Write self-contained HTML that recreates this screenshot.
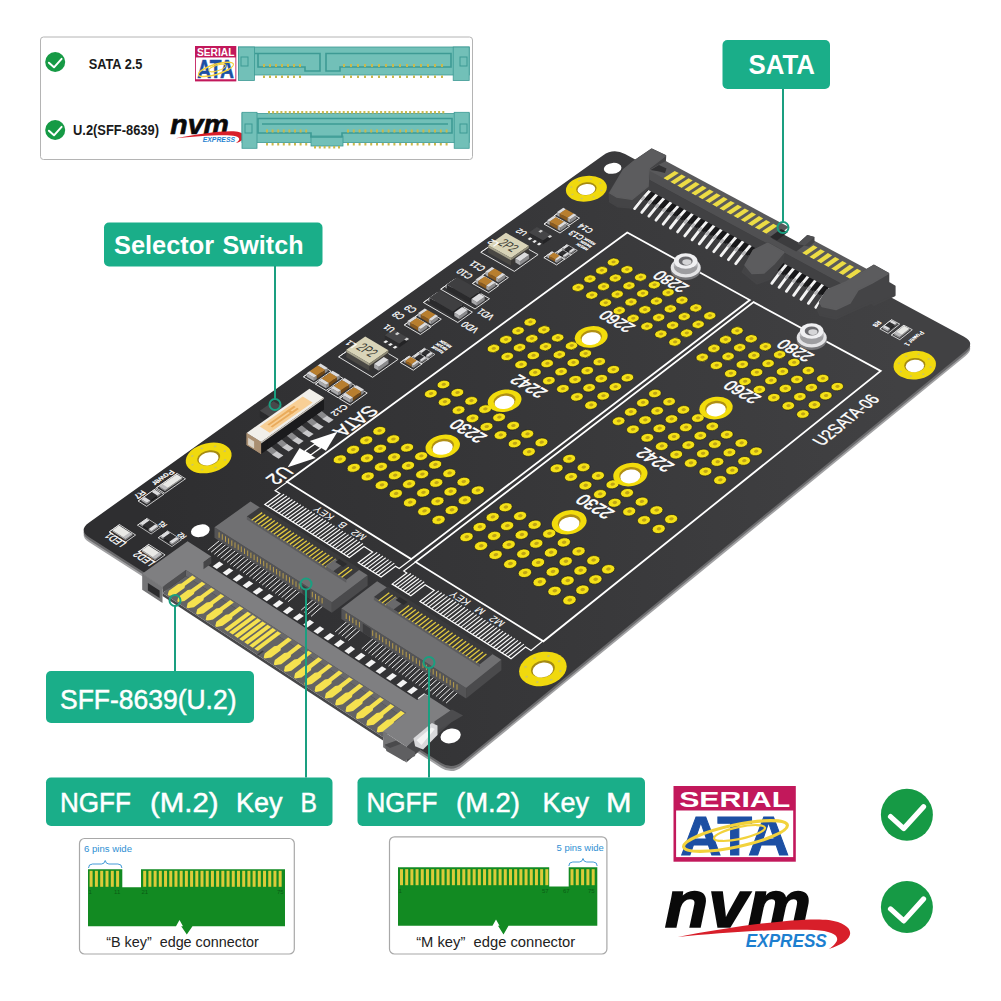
<!DOCTYPE html>
<html><head><meta charset="utf-8"><title>U2SATA-06 adapter</title>
<style>html,body{margin:0;padding:0;background:#fff;}body{width:1001px;height:1001px;overflow:hidden;font-family:"Liberation Sans",sans-serif;}svg{display:block}</style>
</head><body>
<svg width="1001" height="1001" viewBox="0 0 1001 1001">
<rect width="1001" height="1001" fill="#fff"/>
<defs><linearGradient id="bg" gradientUnits="userSpaceOnUse" x1="150" y1="450" x2="900" y2="420"><stop offset="0" stop-color="#2e2e30"/><stop offset="0.5" stop-color="#373739"/><stop offset="1" stop-color="#414143"/></linearGradient></defs>
<g id="board">
<path d="M89.2 537.3 Q78.2 530.3 88.8 522.7 L602.9 155.5 Q613.5 147.9 625.0 154.1 L964.1 336.7 Q975.6 342.9 965.5 351.1 L462.2 761.7 Q452.1 769.9 441.2 762.9 Z" fill="#a2a2a4" transform="translate(0 5)"/>
<path d="M89.2 537.3 Q78.2 530.3 88.8 522.7 L602.9 155.5 Q613.5 147.9 625.0 154.1 L964.1 336.7 Q975.6 342.9 965.5 351.1 L462.2 761.7 Q452.1 769.9 441.2 762.9 Z" fill="#6a6a6c" transform="translate(0 2.6)"/>
<path d="M89.2 537.3 Q78.2 530.3 88.8 522.7 L602.9 155.5 Q613.5 147.9 625.0 154.1 L964.1 336.7 Q975.6 342.9 965.5 351.1 L462.2 761.7 Q452.1 769.9 441.2 762.9 Z" fill="url(#bg)"/>
<polyline points="286.9,481.8 627.3,232.5 749.8,300.0 411.2,559.1 286.9,481.8 627.3,232.5" fill="none" stroke="#fff" stroke-width="1.80" stroke-linejoin="miter" />
<polyline points="415.6,561.9 753.6,302.1 880.7,371.0 543.4,641.3 415.6,561.9 753.6,302.1" fill="none" stroke="#fff" stroke-width="1.80" stroke-linejoin="miter" />
<circle r="0.870" fill="#f4e017" transform="matrix(5.631 -4.060 5.068 3.108 339.79 459.30)" stroke="#1b1b12" stroke-width="0.09"/>
<circle r="0.300" fill="#bfa416" transform="matrix(5.630 -4.060 5.068 3.107 340.07 459.09)" />
<circle r="0.870" fill="#f4e017" transform="matrix(5.625 -4.081 5.091 3.122 353.71 467.83)" stroke="#1b1b12" stroke-width="0.09"/>
<circle r="0.300" fill="#bfa416" transform="matrix(5.625 -4.080 5.091 3.121 353.99 467.63)" />
<circle r="0.870" fill="#f4e017" transform="matrix(5.620 -4.102 5.114 3.136 367.69 476.41)" stroke="#1b1b12" stroke-width="0.09"/>
<circle r="0.300" fill="#bfa416" transform="matrix(5.619 -4.101 5.114 3.136 367.97 476.20)" />
<circle r="0.870" fill="#f4e017" transform="matrix(5.614 -4.123 5.138 3.150 381.73 485.02)" stroke="#1b1b12" stroke-width="0.09"/>
<circle r="0.300" fill="#bfa416" transform="matrix(5.613 -4.122 5.138 3.150 382.01 484.81)" />
<circle r="0.870" fill="#f4e017" transform="matrix(5.608 -4.144 5.161 3.165 395.84 493.67)" stroke="#1b1b12" stroke-width="0.09"/>
<circle r="0.300" fill="#bfa416" transform="matrix(5.607 -4.143 5.161 3.164 396.12 493.46)" />
<circle r="0.870" fill="#f4e017" transform="matrix(5.601 -4.165 5.185 3.179 410.02 502.36)" stroke="#1b1b12" stroke-width="0.09"/>
<circle r="0.300" fill="#bfa416" transform="matrix(5.601 -4.164 5.185 3.179 410.30 502.15)" />
<circle r="0.870" fill="#f4e017" transform="matrix(5.595 -4.186 5.209 3.194 424.26 511.09)" stroke="#1b1b12" stroke-width="0.09"/>
<circle r="0.300" fill="#bfa416" transform="matrix(5.594 -4.185 5.209 3.194 424.54 510.88)" />
<circle r="0.870" fill="#f4e017" transform="matrix(5.589 -4.207 5.233 3.209 438.56 519.86)" stroke="#1b1b12" stroke-width="0.09"/>
<circle r="0.300" fill="#bfa416" transform="matrix(5.588 -4.207 5.233 3.208 438.84 519.65)" />
<circle r="0.870" fill="#f4e017" transform="matrix(5.596 -4.035 5.063 3.090 353.04 449.74)" stroke="#1b1b12" stroke-width="0.09"/>
<circle r="0.300" fill="#bfa416" transform="matrix(5.595 -4.035 5.063 3.090 353.32 449.54)" />
<circle r="0.870" fill="#f4e017" transform="matrix(5.590 -4.056 5.086 3.104 366.94 458.23)" stroke="#1b1b12" stroke-width="0.09"/>
<circle r="0.300" fill="#bfa416" transform="matrix(5.589 -4.055 5.086 3.104 367.22 458.03)" />
<circle r="0.870" fill="#f4e017" transform="matrix(5.584 -4.076 5.109 3.118 380.91 466.76)" stroke="#1b1b12" stroke-width="0.09"/>
<circle r="0.300" fill="#bfa416" transform="matrix(5.584 -4.076 5.109 3.118 381.19 466.55)" />
<circle r="0.870" fill="#f4e017" transform="matrix(5.578 -4.097 5.132 3.132 394.94 475.32)" stroke="#1b1b12" stroke-width="0.09"/>
<circle r="0.300" fill="#bfa416" transform="matrix(5.578 -4.096 5.132 3.132 395.22 475.11)" />
<circle r="0.870" fill="#f4e017" transform="matrix(5.572 -4.118 5.156 3.147 409.04 483.92)" stroke="#1b1b12" stroke-width="0.09"/>
<circle r="0.300" fill="#bfa416" transform="matrix(5.572 -4.117 5.156 3.146 409.31 483.72)" />
<circle r="0.870" fill="#f4e017" transform="matrix(5.566 -4.138 5.179 3.161 423.19 492.56)" stroke="#1b1b12" stroke-width="0.09"/>
<circle r="0.300" fill="#bfa416" transform="matrix(5.565 -4.138 5.179 3.161 423.47 492.36)" />
<circle r="0.870" fill="#f4e017" transform="matrix(5.560 -4.160 5.203 3.176 437.42 501.24)" stroke="#1b1b12" stroke-width="0.09"/>
<circle r="0.300" fill="#bfa416" transform="matrix(5.559 -4.159 5.203 3.175 437.70 501.04)" />
<circle r="0.870" fill="#f4e017" transform="matrix(5.553 -4.181 5.227 3.190 451.71 509.97)" stroke="#1b1b12" stroke-width="0.09"/>
<circle r="0.300" fill="#bfa416" transform="matrix(5.553 -4.180 5.227 3.190 451.99 509.76)" />
<circle r="0.870" fill="#f4e017" transform="matrix(5.561 -4.010 5.058 3.073 366.20 440.25)" stroke="#1b1b12" stroke-width="0.09"/>
<circle r="0.300" fill="#bfa416" transform="matrix(5.561 -4.010 5.058 3.072 366.48 440.05)" />
<circle r="0.870" fill="#f4e017" transform="matrix(5.555 -4.030 5.081 3.087 380.09 448.69)" stroke="#1b1b12" stroke-width="0.09"/>
<circle r="0.300" fill="#bfa416" transform="matrix(5.555 -4.030 5.081 3.086 380.37 448.49)" />
<circle r="0.870" fill="#f4e017" transform="matrix(5.550 -4.051 5.104 3.101 394.05 457.17)" stroke="#1b1b12" stroke-width="0.09"/>
<circle r="0.300" fill="#bfa416" transform="matrix(5.549 -4.050 5.104 3.100 394.32 456.96)" />
<circle r="0.870" fill="#f4e017" transform="matrix(5.544 -4.071 5.127 3.115 408.06 465.68)" stroke="#1b1b12" stroke-width="0.09"/>
<circle r="0.300" fill="#bfa416" transform="matrix(5.543 -4.071 5.127 3.114 408.34 465.48)" />
<circle r="0.870" fill="#f4e017" transform="matrix(5.537 -4.092 5.151 3.129 422.14 474.23)" stroke="#1b1b12" stroke-width="0.09"/>
<circle r="0.300" fill="#bfa416" transform="matrix(5.537 -4.091 5.150 3.128 422.42 474.03)" />
<circle r="0.870" fill="#f4e017" transform="matrix(5.531 -4.112 5.174 3.143 436.29 482.83)" stroke="#1b1b12" stroke-width="0.09"/>
<circle r="0.300" fill="#bfa416" transform="matrix(5.530 -4.112 5.174 3.143 436.57 482.62)" />
<circle r="0.870" fill="#f4e017" transform="matrix(5.525 -4.133 5.198 3.157 450.50 491.46)" stroke="#1b1b12" stroke-width="0.09"/>
<circle r="0.300" fill="#bfa416" transform="matrix(5.524 -4.133 5.198 3.157 450.77 491.25)" />
<circle r="0.870" fill="#f4e017" transform="matrix(5.518 -4.154 5.221 3.172 464.77 500.13)" stroke="#1b1b12" stroke-width="0.09"/>
<circle r="0.300" fill="#bfa416" transform="matrix(5.518 -4.154 5.221 3.172 465.05 499.92)" />
<circle r="0.870" fill="#f4e017" transform="matrix(5.527 -3.985 5.053 3.056 379.29 430.82)" stroke="#1b1b12" stroke-width="0.09"/>
<circle r="0.300" fill="#bfa416" transform="matrix(5.526 -3.985 5.053 3.055 379.56 430.62)" />
<circle r="0.870" fill="#f4e017" transform="matrix(5.521 -4.005 5.076 3.069 393.16 439.21)" stroke="#1b1b12" stroke-width="0.09"/>
<circle r="0.300" fill="#bfa416" transform="matrix(5.520 -4.005 5.076 3.069 393.44 439.01)" />
<circle r="0.870" fill="#f4e017" transform="matrix(5.515 -4.025 5.099 3.083 407.10 447.64)" stroke="#1b1b12" stroke-width="0.09"/>
<circle r="0.300" fill="#bfa416" transform="matrix(5.514 -4.025 5.099 3.083 407.38 447.44)" />
<circle r="0.870" fill="#f4e017" transform="matrix(5.509 -4.046 5.122 3.097 421.11 456.10)" stroke="#1b1b12" stroke-width="0.09"/>
<circle r="0.300" fill="#bfa416" transform="matrix(5.508 -4.045 5.122 3.097 421.38 455.90)" />
<circle r="0.870" fill="#f4e017" transform="matrix(5.503 -4.066 5.145 3.111 435.17 464.61)" stroke="#1b1b12" stroke-width="0.09"/>
<circle r="0.300" fill="#bfa416" transform="matrix(5.502 -4.066 5.145 3.111 435.45 464.41)" />
<circle r="0.870" fill="#f4e017" transform="matrix(5.497 -4.087 5.169 3.125 449.30 473.15)" stroke="#1b1b12" stroke-width="0.09"/>
<circle r="0.300" fill="#bfa416" transform="matrix(5.496 -4.086 5.168 3.125 449.58 472.95)" />
<circle r="0.870" fill="#f4e017" transform="matrix(5.490 -4.107 5.192 3.139 463.50 481.73)" stroke="#1b1b12" stroke-width="0.09"/>
<circle r="0.300" fill="#bfa416" transform="matrix(5.489 -4.107 5.192 3.139 463.77 481.53)" />
<circle r="0.870" fill="#f4e017" transform="matrix(5.484 -4.128 5.216 3.154 477.75 490.36)" stroke="#1b1b12" stroke-width="0.09"/>
<circle r="0.300" fill="#bfa416" transform="matrix(5.483 -4.128 5.216 3.153 478.03 490.15)" />
<circle r="0.870" fill="#f4e017" transform="matrix(5.392 -3.888 5.033 2.988 430.82 393.66)" stroke="#1b1b12" stroke-width="0.09"/>
<circle r="0.300" fill="#bfa416" transform="matrix(5.392 -3.888 5.033 2.988 431.09 393.46)" />
<circle r="0.870" fill="#f4e017" transform="matrix(5.386 -3.908 5.055 3.001 444.64 401.86)" stroke="#1b1b12" stroke-width="0.09"/>
<circle r="0.300" fill="#bfa416" transform="matrix(5.386 -3.907 5.055 3.001 444.91 401.67)" />
<circle r="0.870" fill="#f4e017" transform="matrix(5.380 -3.927 5.078 3.015 458.53 410.10)" stroke="#1b1b12" stroke-width="0.09"/>
<circle r="0.300" fill="#bfa416" transform="matrix(5.380 -3.927 5.078 3.014 458.79 409.91)" />
<circle r="0.870" fill="#f4e017" transform="matrix(5.374 -3.947 5.101 3.028 472.47 418.38)" stroke="#1b1b12" stroke-width="0.09"/>
<circle r="0.300" fill="#bfa416" transform="matrix(5.373 -3.946 5.101 3.028 472.74 418.18)" />
<circle r="0.870" fill="#f4e017" transform="matrix(5.368 -3.966 5.124 3.042 486.48 426.70)" stroke="#1b1b12" stroke-width="0.09"/>
<circle r="0.300" fill="#bfa416" transform="matrix(5.367 -3.966 5.123 3.041 486.75 426.50)" />
<circle r="0.870" fill="#f4e017" transform="matrix(5.361 -3.986 5.146 3.055 500.55 435.05)" stroke="#1b1b12" stroke-width="0.09"/>
<circle r="0.300" fill="#bfa416" transform="matrix(5.361 -3.986 5.146 3.055 500.81 434.85)" />
<circle r="0.870" fill="#f4e017" transform="matrix(5.355 -4.006 5.170 3.069 514.68 443.44)" stroke="#1b1b12" stroke-width="0.09"/>
<circle r="0.300" fill="#bfa416" transform="matrix(5.354 -4.006 5.170 3.069 514.95 443.24)" />
<circle r="0.870" fill="#f4e017" transform="matrix(5.348 -4.026 5.193 3.083 528.88 451.87)" stroke="#1b1b12" stroke-width="0.09"/>
<circle r="0.300" fill="#bfa416" transform="matrix(5.347 -4.026 5.193 3.083 529.14 451.67)" />
<circle r="0.870" fill="#f4e017" transform="matrix(5.359 -3.865 5.028 2.972 443.51 384.51)" stroke="#1b1b12" stroke-width="0.09"/>
<circle r="0.300" fill="#bfa416" transform="matrix(5.359 -3.864 5.028 2.971 443.78 384.31)" />
<circle r="0.870" fill="#f4e017" transform="matrix(5.353 -3.884 5.050 2.985 457.32 392.67)" stroke="#1b1b12" stroke-width="0.09"/>
<circle r="0.300" fill="#bfa416" transform="matrix(5.353 -3.883 5.050 2.984 457.58 392.47)" />
<circle r="0.870" fill="#f4e017" transform="matrix(5.347 -3.903 5.073 2.998 471.18 400.86)" stroke="#1b1b12" stroke-width="0.09"/>
<circle r="0.300" fill="#bfa416" transform="matrix(5.347 -3.902 5.073 2.998 471.45 400.67)" />
<circle r="0.870" fill="#f4e017" transform="matrix(5.341 -3.922 5.095 3.011 485.11 409.10)" stroke="#1b1b12" stroke-width="0.09"/>
<circle r="0.300" fill="#bfa416" transform="matrix(5.340 -3.922 5.095 3.011 485.38 408.90)" />
<circle r="0.870" fill="#f4e017" transform="matrix(5.335 -3.942 5.118 3.025 499.11 417.37)" stroke="#1b1b12" stroke-width="0.09"/>
<circle r="0.300" fill="#bfa416" transform="matrix(5.334 -3.941 5.118 3.024 499.37 417.17)" />
<circle r="0.870" fill="#f4e017" transform="matrix(5.328 -3.962 5.141 3.038 513.16 425.67)" stroke="#1b1b12" stroke-width="0.09"/>
<circle r="0.300" fill="#bfa416" transform="matrix(5.328 -3.961 5.141 3.038 513.43 425.47)" />
<circle r="0.870" fill="#f4e017" transform="matrix(5.322 -3.981 5.164 3.052 527.28 434.02)" stroke="#1b1b12" stroke-width="0.09"/>
<circle r="0.300" fill="#bfa416" transform="matrix(5.321 -3.981 5.164 3.052 527.54 433.82)" />
<circle r="0.870" fill="#f4e017" transform="matrix(5.315 -4.001 5.187 3.066 541.46 442.40)" stroke="#1b1b12" stroke-width="0.09"/>
<circle r="0.300" fill="#bfa416" transform="matrix(5.314 -4.001 5.187 3.065 541.72 442.20)" />
<circle r="0.870" fill="#f4e017" transform="matrix(5.231 -3.772 5.007 2.907 493.49 348.47)" stroke="#1b1b12" stroke-width="0.09"/>
<circle r="0.300" fill="#bfa416" transform="matrix(5.230 -3.771 5.007 2.907 493.75 348.28)" />
<circle r="0.870" fill="#f4e017" transform="matrix(5.225 -3.790 5.029 2.920 507.24 356.45)" stroke="#1b1b12" stroke-width="0.09"/>
<circle r="0.300" fill="#bfa416" transform="matrix(5.224 -3.790 5.029 2.919 507.50 356.26)" />
<circle r="0.870" fill="#f4e017" transform="matrix(5.218 -3.809 5.051 2.933 521.05 364.47)" stroke="#1b1b12" stroke-width="0.09"/>
<circle r="0.300" fill="#bfa416" transform="matrix(5.218 -3.809 5.051 2.932 521.31 364.28)" />
<circle r="0.870" fill="#f4e017" transform="matrix(5.212 -3.828 5.073 2.945 534.92 372.52)" stroke="#1b1b12" stroke-width="0.09"/>
<circle r="0.300" fill="#bfa416" transform="matrix(5.211 -3.827 5.073 2.945 535.18 372.33)" />
<circle r="0.870" fill="#f4e017" transform="matrix(5.206 -3.847 5.096 2.958 548.85 380.61)" stroke="#1b1b12" stroke-width="0.09"/>
<circle r="0.300" fill="#bfa416" transform="matrix(5.205 -3.846 5.096 2.958 549.11 380.41)" />
<circle r="0.870" fill="#f4e017" transform="matrix(5.199 -3.866 5.118 2.971 562.85 388.73)" stroke="#1b1b12" stroke-width="0.09"/>
<circle r="0.300" fill="#bfa416" transform="matrix(5.198 -3.865 5.118 2.971 563.11 388.54)" />
<circle r="0.870" fill="#f4e017" transform="matrix(5.192 -3.885 5.141 2.985 576.90 396.89)" stroke="#1b1b12" stroke-width="0.09"/>
<circle r="0.300" fill="#bfa416" transform="matrix(5.192 -3.884 5.141 2.984 577.16 396.70)" />
<circle r="0.870" fill="#f4e017" transform="matrix(5.186 -3.904 5.164 2.998 591.02 405.09)" stroke="#1b1b12" stroke-width="0.09"/>
<circle r="0.300" fill="#bfa416" transform="matrix(5.185 -3.903 5.164 2.998 591.28 404.89)" />
<circle r="0.870" fill="#f4e017" transform="matrix(5.200 -3.749 5.002 2.891 505.80 339.59)" stroke="#1b1b12" stroke-width="0.09"/>
<circle r="0.300" fill="#bfa416" transform="matrix(5.199 -3.749 5.002 2.891 506.06 339.40)" />
<circle r="0.870" fill="#f4e017" transform="matrix(5.193 -3.768 5.024 2.904 519.53 347.53)" stroke="#1b1b12" stroke-width="0.09"/>
<circle r="0.300" fill="#bfa416" transform="matrix(5.193 -3.767 5.024 2.903 519.79 347.34)" />
<circle r="0.870" fill="#f4e017" transform="matrix(5.187 -3.786 5.046 2.917 533.33 355.50)" stroke="#1b1b12" stroke-width="0.09"/>
<circle r="0.300" fill="#bfa416" transform="matrix(5.186 -3.786 5.046 2.916 533.59 355.31)" />
<circle r="0.870" fill="#f4e017" transform="matrix(5.181 -3.805 5.068 2.929 547.18 363.51)" stroke="#1b1b12" stroke-width="0.09"/>
<circle r="0.300" fill="#bfa416" transform="matrix(5.180 -3.804 5.068 2.929 547.44 363.32)" />
<circle r="0.870" fill="#f4e017" transform="matrix(5.174 -3.823 5.090 2.942 561.10 371.56)" stroke="#1b1b12" stroke-width="0.09"/>
<circle r="0.300" fill="#bfa416" transform="matrix(5.173 -3.823 5.090 2.942 561.36 371.37)" />
<circle r="0.870" fill="#f4e017" transform="matrix(5.167 -3.842 5.112 2.955 575.08 379.64)" stroke="#1b1b12" stroke-width="0.09"/>
<circle r="0.300" fill="#bfa416" transform="matrix(5.167 -3.842 5.112 2.955 575.34 379.44)" />
<circle r="0.870" fill="#f4e017" transform="matrix(5.161 -3.861 5.135 2.968 589.12 387.75)" stroke="#1b1b12" stroke-width="0.09"/>
<circle r="0.300" fill="#bfa416" transform="matrix(5.160 -3.861 5.135 2.968 589.37 387.56)" />
<circle r="0.870" fill="#f4e017" transform="matrix(5.154 -3.880 5.158 2.981 603.22 395.90)" stroke="#1b1b12" stroke-width="0.09"/>
<circle r="0.300" fill="#bfa416" transform="matrix(5.153 -3.880 5.158 2.981 603.48 395.71)" />
<circle r="0.870" fill="#f4e017" transform="matrix(5.168 -3.727 4.997 2.876 518.03 330.77)" stroke="#1b1b12" stroke-width="0.09"/>
<circle r="0.300" fill="#bfa416" transform="matrix(5.168 -3.726 4.996 2.875 518.29 330.58)" />
<circle r="0.870" fill="#f4e017" transform="matrix(5.162 -3.745 5.018 2.888 531.75 338.67)" stroke="#1b1b12" stroke-width="0.09"/>
<circle r="0.300" fill="#bfa416" transform="matrix(5.162 -3.745 5.018 2.888 532.01 338.48)" />
<circle r="0.870" fill="#f4e017" transform="matrix(5.156 -3.763 5.040 2.901 545.53 346.60)" stroke="#1b1b12" stroke-width="0.09"/>
<circle r="0.300" fill="#bfa416" transform="matrix(5.155 -3.763 5.040 2.900 545.79 346.41)" />
<circle r="0.870" fill="#f4e017" transform="matrix(5.149 -3.782 5.062 2.913 559.37 354.56)" stroke="#1b1b12" stroke-width="0.09"/>
<circle r="0.300" fill="#bfa416" transform="matrix(5.149 -3.781 5.062 2.913 559.63 354.37)" />
<circle r="0.870" fill="#f4e017" transform="matrix(5.143 -3.800 5.084 2.926 573.27 362.56)" stroke="#1b1b12" stroke-width="0.09"/>
<circle r="0.300" fill="#bfa416" transform="matrix(5.142 -3.800 5.084 2.926 573.53 362.37)" />
<circle r="0.870" fill="#f4e017" transform="matrix(5.136 -3.819 5.107 2.939 587.24 370.60)" stroke="#1b1b12" stroke-width="0.09"/>
<circle r="0.300" fill="#bfa416" transform="matrix(5.136 -3.818 5.107 2.939 587.49 370.41)" />
<circle r="0.870" fill="#f4e017" transform="matrix(5.129 -3.838 5.129 2.952 601.26 378.67)" stroke="#1b1b12" stroke-width="0.09"/>
<circle r="0.300" fill="#bfa416" transform="matrix(5.129 -3.837 5.129 2.952 601.52 378.47)" />
<circle r="0.870" fill="#f4e017" transform="matrix(5.123 -3.857 5.152 2.965 615.34 386.77)" stroke="#1b1b12" stroke-width="0.09"/>
<circle r="0.300" fill="#bfa416" transform="matrix(5.122 -3.856 5.152 2.965 615.60 386.58)" />
<circle r="0.870" fill="#f4e017" transform="matrix(5.138 -3.705 4.991 2.860 530.19 322.00)" stroke="#1b1b12" stroke-width="0.09"/>
<circle r="0.300" fill="#bfa416" transform="matrix(5.137 -3.704 4.991 2.860 530.45 321.82)" />
<circle r="0.870" fill="#f4e017" transform="matrix(5.131 -3.723 5.013 2.872 543.90 329.85)" stroke="#1b1b12" stroke-width="0.09"/>
<circle r="0.300" fill="#bfa416" transform="matrix(5.131 -3.722 5.013 2.872 544.16 329.67)" />
<circle r="0.870" fill="#f4e017" transform="matrix(5.125 -3.741 5.035 2.885 557.66 337.74)" stroke="#1b1b12" stroke-width="0.09"/>
<circle r="0.300" fill="#bfa416" transform="matrix(5.124 -3.740 5.035 2.885 557.92 337.55)" />
<circle r="0.870" fill="#f4e017" transform="matrix(5.118 -3.759 5.057 2.898 571.49 345.66)" stroke="#1b1b12" stroke-width="0.09"/>
<circle r="0.300" fill="#bfa416" transform="matrix(5.118 -3.758 5.057 2.897 571.75 345.48)" />
<circle r="0.870" fill="#f4e017" transform="matrix(5.112 -3.777 5.079 2.910 585.37 353.62)" stroke="#1b1b12" stroke-width="0.09"/>
<circle r="0.300" fill="#bfa416" transform="matrix(5.111 -3.777 5.079 2.910 585.63 353.43)" />
<circle r="0.870" fill="#f4e017" transform="matrix(5.105 -3.796 5.101 2.923 599.32 361.61)" stroke="#1b1b12" stroke-width="0.09"/>
<circle r="0.300" fill="#bfa416" transform="matrix(5.105 -3.795 5.101 2.923 599.58 361.42)" />
<circle r="0.870" fill="#f4e017" transform="matrix(5.098 -3.814 5.123 2.936 613.33 369.64)" stroke="#1b1b12" stroke-width="0.09"/>
<circle r="0.300" fill="#bfa416" transform="matrix(5.098 -3.814 5.123 2.935 613.58 369.45)" />
<circle r="0.870" fill="#f4e017" transform="matrix(5.092 -3.833 5.146 2.949 627.40 377.70)" stroke="#1b1b12" stroke-width="0.09"/>
<circle r="0.300" fill="#bfa416" transform="matrix(5.091 -3.833 5.146 2.948 627.65 377.51)" />
<circle r="0.870" fill="#f4e017" transform="matrix(5.017 -3.618 4.970 2.799 578.12 287.44)" stroke="#1b1b12" stroke-width="0.09"/>
<circle r="0.300" fill="#bfa416" transform="matrix(5.016 -3.617 4.970 2.799 578.37 287.26)" />
<circle r="0.870" fill="#f4e017" transform="matrix(5.011 -3.635 4.991 2.811 591.77 295.13)" stroke="#1b1b12" stroke-width="0.09"/>
<circle r="0.300" fill="#bfa416" transform="matrix(5.010 -3.635 4.991 2.811 592.02 294.95)" />
<circle r="0.870" fill="#f4e017" transform="matrix(5.004 -3.652 5.012 2.823 605.47 302.85)" stroke="#1b1b12" stroke-width="0.09"/>
<circle r="0.300" fill="#bfa416" transform="matrix(5.003 -3.652 5.012 2.823 605.72 302.67)" />
<circle r="0.870" fill="#f4e017" transform="matrix(4.997 -3.670 5.034 2.836 619.23 310.60)" stroke="#1b1b12" stroke-width="0.09"/>
<circle r="0.300" fill="#bfa416" transform="matrix(4.997 -3.670 5.034 2.835 619.48 310.42)" />
<circle r="0.870" fill="#f4e017" transform="matrix(4.991 -3.688 5.056 2.848 633.06 318.39)" stroke="#1b1b12" stroke-width="0.09"/>
<circle r="0.300" fill="#bfa416" transform="matrix(4.990 -3.687 5.056 2.847 633.31 318.20)" />
<circle r="0.870" fill="#f4e017" transform="matrix(4.984 -3.706 5.078 2.860 646.94 326.21)" stroke="#1b1b12" stroke-width="0.09"/>
<circle r="0.300" fill="#bfa416" transform="matrix(4.983 -3.705 5.077 2.860 647.19 326.02)" />
<circle r="0.870" fill="#f4e017" transform="matrix(4.977 -3.724 5.100 2.872 660.88 334.06)" stroke="#1b1b12" stroke-width="0.09"/>
<circle r="0.300" fill="#bfa416" transform="matrix(4.977 -3.723 5.099 2.872 661.13 333.87)" />
<circle r="0.870" fill="#f4e017" transform="matrix(4.970 -3.742 5.122 2.885 674.89 341.95)" stroke="#1b1b12" stroke-width="0.09"/>
<circle r="0.300" fill="#bfa416" transform="matrix(4.970 -3.741 5.122 2.885 675.13 341.76)" />
<circle r="0.870" fill="#f4e017" transform="matrix(4.987 -3.596 4.964 2.784 589.92 278.93)" stroke="#1b1b12" stroke-width="0.09"/>
<circle r="0.300" fill="#bfa416" transform="matrix(4.987 -3.596 4.964 2.784 590.17 278.75)" />
<circle r="0.870" fill="#f4e017" transform="matrix(4.981 -3.614 4.985 2.796 603.56 286.58)" stroke="#1b1b12" stroke-width="0.09"/>
<circle r="0.300" fill="#bfa416" transform="matrix(4.980 -3.613 4.985 2.796 603.80 286.39)" />
<circle r="0.870" fill="#f4e017" transform="matrix(4.975 -3.631 5.007 2.808 617.24 294.25)" stroke="#1b1b12" stroke-width="0.09"/>
<circle r="0.300" fill="#bfa416" transform="matrix(4.974 -3.630 5.007 2.808 617.49 294.07)" />
<circle r="0.870" fill="#f4e017" transform="matrix(4.968 -3.648 5.028 2.820 630.99 301.96)" stroke="#1b1b12" stroke-width="0.09"/>
<circle r="0.300" fill="#bfa416" transform="matrix(4.967 -3.648 5.028 2.820 631.24 301.78)" />
<circle r="0.870" fill="#f4e017" transform="matrix(4.961 -3.666 5.050 2.833 644.80 309.71)" stroke="#1b1b12" stroke-width="0.09"/>
<circle r="0.300" fill="#bfa416" transform="matrix(4.961 -3.666 5.050 2.832 645.05 309.53)" />
<circle r="0.870" fill="#f4e017" transform="matrix(4.954 -3.684 5.072 2.845 658.67 317.49)" stroke="#1b1b12" stroke-width="0.09"/>
<circle r="0.300" fill="#bfa416" transform="matrix(4.954 -3.683 5.072 2.844 658.91 317.30)" />
<circle r="0.870" fill="#f4e017" transform="matrix(4.948 -3.702 5.094 2.857 672.59 325.30)" stroke="#1b1b12" stroke-width="0.09"/>
<circle r="0.300" fill="#bfa416" transform="matrix(4.947 -3.701 5.094 2.857 672.84 325.11)" />
<circle r="0.870" fill="#f4e017" transform="matrix(4.941 -3.719 5.116 2.869 686.58 333.14)" stroke="#1b1b12" stroke-width="0.09"/>
<circle r="0.300" fill="#bfa416" transform="matrix(4.940 -3.719 5.116 2.869 686.83 332.96)" />
<circle r="0.870" fill="#f4e017" transform="matrix(4.958 -3.575 4.959 2.770 601.66 270.47)" stroke="#1b1b12" stroke-width="0.09"/>
<circle r="0.300" fill="#bfa416" transform="matrix(4.958 -3.575 4.959 2.769 601.91 270.29)" />
<circle r="0.870" fill="#f4e017" transform="matrix(4.952 -3.592 4.980 2.781 615.28 278.07)" stroke="#1b1b12" stroke-width="0.09"/>
<circle r="0.300" fill="#bfa416" transform="matrix(4.951 -3.592 4.980 2.781 615.52 277.89)" />
<circle r="0.870" fill="#f4e017" transform="matrix(4.945 -3.610 5.001 2.793 628.95 285.71)" stroke="#1b1b12" stroke-width="0.09"/>
<circle r="0.300" fill="#bfa416" transform="matrix(4.945 -3.609 5.001 2.793 629.20 285.53)" />
<circle r="0.870" fill="#f4e017" transform="matrix(4.939 -3.627 5.023 2.805 642.68 293.38)" stroke="#1b1b12" stroke-width="0.09"/>
<circle r="0.300" fill="#bfa416" transform="matrix(4.938 -3.626 5.022 2.805 642.93 293.20)" />
<circle r="0.870" fill="#f4e017" transform="matrix(4.932 -3.644 5.044 2.817 656.47 301.08)" stroke="#1b1b12" stroke-width="0.09"/>
<circle r="0.300" fill="#bfa416" transform="matrix(4.931 -3.644 5.044 2.817 656.72 300.90)" />
<circle r="0.870" fill="#f4e017" transform="matrix(4.925 -3.662 5.066 2.829 670.32 308.82)" stroke="#1b1b12" stroke-width="0.09"/>
<circle r="0.300" fill="#bfa416" transform="matrix(4.924 -3.661 5.066 2.829 670.57 308.64)" />
<circle r="0.870" fill="#f4e017" transform="matrix(4.918 -3.680 5.088 2.842 684.23 316.59)" stroke="#1b1b12" stroke-width="0.09"/>
<circle r="0.300" fill="#bfa416" transform="matrix(4.918 -3.679 5.088 2.841 684.48 316.40)" />
<circle r="0.870" fill="#f4e017" transform="matrix(4.911 -3.697 5.110 2.854 698.20 324.39)" stroke="#1b1b12" stroke-width="0.09"/>
<circle r="0.300" fill="#bfa416" transform="matrix(4.910 -3.697 5.109 2.854 698.45 324.21)" />
<circle r="0.870" fill="#f4e017" transform="matrix(4.929 -3.554 4.953 2.755 613.33 262.05)" stroke="#1b1b12" stroke-width="0.09"/>
<circle r="0.300" fill="#bfa416" transform="matrix(4.929 -3.554 4.953 2.755 613.57 261.88)" />
<circle r="0.870" fill="#f4e017" transform="matrix(4.923 -3.571 4.974 2.767 626.93 269.62)" stroke="#1b1b12" stroke-width="0.09"/>
<circle r="0.300" fill="#bfa416" transform="matrix(4.922 -3.571 4.974 2.766 627.17 269.44)" />
<circle r="0.870" fill="#f4e017" transform="matrix(4.916 -3.588 4.995 2.779 640.59 277.22)" stroke="#1b1b12" stroke-width="0.09"/>
<circle r="0.300" fill="#bfa416" transform="matrix(4.916 -3.588 4.995 2.778 640.83 277.04)" />
<circle r="0.870" fill="#f4e017" transform="matrix(4.910 -3.606 5.017 2.790 654.30 284.85)" stroke="#1b1b12" stroke-width="0.09"/>
<circle r="0.300" fill="#bfa416" transform="matrix(4.909 -3.605 5.017 2.790 654.55 284.67)" />
<circle r="0.870" fill="#f4e017" transform="matrix(4.903 -3.623 5.038 2.802 668.08 292.51)" stroke="#1b1b12" stroke-width="0.09"/>
<circle r="0.300" fill="#bfa416" transform="matrix(4.902 -3.622 5.038 2.802 668.32 292.33)" />
<circle r="0.870" fill="#f4e017" transform="matrix(4.896 -3.640 5.060 2.814 681.91 300.20)" stroke="#1b1b12" stroke-width="0.09"/>
<circle r="0.300" fill="#bfa416" transform="matrix(4.895 -3.640 5.060 2.814 682.16 300.02)" />
<circle r="0.870" fill="#f4e017" transform="matrix(4.889 -3.658 5.082 2.826 695.81 307.93)" stroke="#1b1b12" stroke-width="0.09"/>
<circle r="0.300" fill="#bfa416" transform="matrix(4.888 -3.657 5.081 2.826 696.05 307.75)" />
<circle r="0.870" fill="#f4e017" transform="matrix(4.882 -3.675 5.103 2.839 709.76 315.69)" stroke="#1b1b12" stroke-width="0.09"/>
<circle r="0.300" fill="#bfa416" transform="matrix(4.881 -3.675 5.103 2.838 710.00 315.51)" />
<circle r="0.870" fill="#f4e017" transform="matrix(5.576 -4.250 5.280 3.238 466.52 537.01)" stroke="#1b1b12" stroke-width="0.09"/>
<circle r="0.300" fill="#bfa416" transform="matrix(5.575 -4.249 5.280 3.237 466.80 536.80)" />
<circle r="0.870" fill="#f4e017" transform="matrix(5.569 -4.271 5.304 3.253 481.02 545.90)" stroke="#1b1b12" stroke-width="0.09"/>
<circle r="0.300" fill="#bfa416" transform="matrix(5.568 -4.271 5.304 3.252 481.30 545.69)" />
<circle r="0.870" fill="#f4e017" transform="matrix(5.562 -4.294 5.329 3.268 495.59 554.83)" stroke="#1b1b12" stroke-width="0.09"/>
<circle r="0.300" fill="#bfa416" transform="matrix(5.562 -4.293 5.329 3.267 495.87 554.62)" />
<circle r="0.870" fill="#f4e017" transform="matrix(5.555 -4.316 5.354 3.283 510.23 563.81)" stroke="#1b1b12" stroke-width="0.09"/>
<circle r="0.300" fill="#bfa416" transform="matrix(5.555 -4.315 5.354 3.282 510.50 563.59)" />
<circle r="0.870" fill="#f4e017" transform="matrix(5.548 -4.338 5.379 3.298 524.93 572.83)" stroke="#1b1b12" stroke-width="0.09"/>
<circle r="0.300" fill="#bfa416" transform="matrix(5.547 -4.338 5.379 3.298 525.21 572.61)" />
<circle r="0.870" fill="#f4e017" transform="matrix(5.541 -4.361 5.404 3.314 539.70 581.88)" stroke="#1b1b12" stroke-width="0.09"/>
<circle r="0.300" fill="#bfa416" transform="matrix(5.540 -4.360 5.404 3.313 539.98 581.67)" />
<circle r="0.870" fill="#f4e017" transform="matrix(5.534 -4.383 5.429 3.329 554.54 590.98)" stroke="#1b1b12" stroke-width="0.09"/>
<circle r="0.300" fill="#bfa416" transform="matrix(5.533 -4.383 5.429 3.329 554.82 590.77)" />
<circle r="0.870" fill="#f4e017" transform="matrix(5.526 -4.406 5.455 3.345 569.45 600.13)" stroke="#1b1b12" stroke-width="0.09"/>
<circle r="0.300" fill="#bfa416" transform="matrix(5.525 -4.406 5.455 3.344 569.73 599.91)" />
<circle r="0.870" fill="#f4e017" transform="matrix(5.541 -4.223 5.274 3.219 479.64 527.01)" stroke="#1b1b12" stroke-width="0.09"/>
<circle r="0.300" fill="#bfa416" transform="matrix(5.540 -4.222 5.274 3.218 479.92 526.80)" />
<circle r="0.870" fill="#f4e017" transform="matrix(5.534 -4.244 5.298 3.234 494.12 535.85)" stroke="#1b1b12" stroke-width="0.09"/>
<circle r="0.300" fill="#bfa416" transform="matrix(5.533 -4.244 5.298 3.233 494.40 535.64)" />
<circle r="0.870" fill="#f4e017" transform="matrix(5.527 -4.266 5.323 3.249 508.68 544.73)" stroke="#1b1b12" stroke-width="0.09"/>
<circle r="0.300" fill="#bfa416" transform="matrix(5.526 -4.266 5.323 3.248 508.95 544.52)" />
<circle r="0.870" fill="#f4e017" transform="matrix(5.520 -4.288 5.348 3.264 523.29 553.66)" stroke="#1b1b12" stroke-width="0.09"/>
<circle r="0.300" fill="#bfa416" transform="matrix(5.519 -4.288 5.347 3.263 523.57 553.44)" />
<circle r="0.870" fill="#f4e017" transform="matrix(5.513 -4.310 5.373 3.279 537.98 562.62)" stroke="#1b1b12" stroke-width="0.09"/>
<circle r="0.300" fill="#bfa416" transform="matrix(5.512 -4.310 5.372 3.279 538.26 562.40)" />
<circle r="0.870" fill="#f4e017" transform="matrix(5.505 -4.333 5.398 3.294 552.74 571.63)" stroke="#1b1b12" stroke-width="0.09"/>
<circle r="0.300" fill="#bfa416" transform="matrix(5.505 -4.332 5.397 3.294 553.01 571.41)" />
<circle r="0.870" fill="#f4e017" transform="matrix(5.498 -4.355 5.423 3.310 567.56 580.67)" stroke="#1b1b12" stroke-width="0.09"/>
<circle r="0.300" fill="#bfa416" transform="matrix(5.497 -4.355 5.423 3.309 567.83 580.46)" />
<circle r="0.870" fill="#f4e017" transform="matrix(5.490 -4.378 5.448 3.325 582.45 589.76)" stroke="#1b1b12" stroke-width="0.09"/>
<circle r="0.300" fill="#bfa416" transform="matrix(5.490 -4.377 5.448 3.325 582.73 589.54)" />
<circle r="0.870" fill="#f4e017" transform="matrix(5.505 -4.196 5.268 3.200 492.67 517.08)" stroke="#1b1b12" stroke-width="0.09"/>
<circle r="0.300" fill="#bfa416" transform="matrix(5.505 -4.195 5.268 3.200 492.95 516.87)" />
<circle r="0.870" fill="#f4e017" transform="matrix(5.499 -4.217 5.292 3.215 507.14 525.87)" stroke="#1b1b12" stroke-width="0.09"/>
<circle r="0.300" fill="#bfa416" transform="matrix(5.498 -4.217 5.292 3.215 507.42 525.66)" />
<circle r="0.870" fill="#f4e017" transform="matrix(5.492 -4.239 5.317 3.230 521.68 534.70)" stroke="#1b1b12" stroke-width="0.09"/>
<circle r="0.300" fill="#bfa416" transform="matrix(5.491 -4.238 5.317 3.229 521.95 534.49)" />
<circle r="0.870" fill="#f4e017" transform="matrix(5.485 -4.261 5.342 3.245 536.28 543.57)" stroke="#1b1b12" stroke-width="0.09"/>
<circle r="0.300" fill="#bfa416" transform="matrix(5.484 -4.260 5.341 3.244 536.55 543.36)" />
<circle r="0.870" fill="#f4e017" transform="matrix(5.477 -4.283 5.366 3.260 550.95 552.48)" stroke="#1b1b12" stroke-width="0.09"/>
<circle r="0.300" fill="#bfa416" transform="matrix(5.477 -4.282 5.366 3.259 551.22 552.27)" />
<circle r="0.870" fill="#f4e017" transform="matrix(5.470 -4.305 5.391 3.275 565.69 561.43)" stroke="#1b1b12" stroke-width="0.09"/>
<circle r="0.300" fill="#bfa416" transform="matrix(5.469 -4.304 5.391 3.275 565.96 561.22)" />
<circle r="0.870" fill="#f4e017" transform="matrix(5.463 -4.327 5.416 3.290 580.49 570.43)" stroke="#1b1b12" stroke-width="0.09"/>
<circle r="0.300" fill="#bfa416" transform="matrix(5.462 -4.327 5.416 3.290 580.77 570.21)" />
<circle r="0.870" fill="#f4e017" transform="matrix(5.455 -4.350 5.442 3.306 595.37 579.46)" stroke="#1b1b12" stroke-width="0.09"/>
<circle r="0.300" fill="#bfa416" transform="matrix(5.454 -4.349 5.442 3.305 595.64 579.25)" />
<circle r="0.870" fill="#f4e017" transform="matrix(5.471 -4.169 5.262 3.182 505.63 507.21)" stroke="#1b1b12" stroke-width="0.09"/>
<circle r="0.300" fill="#bfa416" transform="matrix(5.470 -4.169 5.262 3.182 505.90 507.00)" />
<circle r="0.870" fill="#f4e017" transform="matrix(5.464 -4.191 5.286 3.197 520.08 515.95)" stroke="#1b1b12" stroke-width="0.09"/>
<circle r="0.300" fill="#bfa416" transform="matrix(5.463 -4.190 5.286 3.196 520.35 515.74)" />
<circle r="0.870" fill="#f4e017" transform="matrix(5.457 -4.212 5.311 3.211 534.60 524.73)" stroke="#1b1b12" stroke-width="0.09"/>
<circle r="0.300" fill="#bfa416" transform="matrix(5.456 -4.211 5.311 3.211 534.87 524.52)" />
<circle r="0.870" fill="#f4e017" transform="matrix(5.450 -4.234 5.335 3.226 549.18 533.55)" stroke="#1b1b12" stroke-width="0.09"/>
<circle r="0.300" fill="#bfa416" transform="matrix(5.449 -4.233 5.335 3.226 549.45 533.33)" />
<circle r="0.870" fill="#f4e017" transform="matrix(5.442 -4.255 5.360 3.241 563.83 542.41)" stroke="#1b1b12" stroke-width="0.09"/>
<circle r="0.300" fill="#bfa416" transform="matrix(5.442 -4.255 5.360 3.241 564.11 542.19)" />
<circle r="0.870" fill="#f4e017" transform="matrix(5.435 -4.277 5.385 3.256 578.55 551.31)" stroke="#1b1b12" stroke-width="0.09"/>
<circle r="0.300" fill="#bfa416" transform="matrix(5.434 -4.277 5.385 3.256 578.83 551.09)" />
<circle r="0.870" fill="#f4e017" transform="matrix(5.428 -4.299 5.410 3.271 593.34 560.25)" stroke="#1b1b12" stroke-width="0.09"/>
<circle r="0.300" fill="#bfa416" transform="matrix(5.427 -4.299 5.410 3.271 593.62 560.03)" />
<circle r="0.870" fill="#f4e017" transform="matrix(5.420 -4.322 5.435 3.286 608.20 569.23)" stroke="#1b1b12" stroke-width="0.09"/>
<circle r="0.300" fill="#bfa416" transform="matrix(5.419 -4.321 5.435 3.286 608.47 569.02)" />
<circle r="0.870" fill="#f4e017" transform="matrix(5.335 -4.066 5.239 3.110 556.62 468.34)" stroke="#1b1b12" stroke-width="0.09"/>
<circle r="0.300" fill="#bfa416" transform="matrix(5.334 -4.065 5.239 3.110 556.89 468.14)" />
<circle r="0.870" fill="#f4e017" transform="matrix(5.328 -4.086 5.262 3.124 571.01 476.88)" stroke="#1b1b12" stroke-width="0.09"/>
<circle r="0.300" fill="#bfa416" transform="matrix(5.327 -4.086 5.262 3.124 571.28 476.68)" />
<circle r="0.870" fill="#f4e017" transform="matrix(5.321 -4.107 5.286 3.138 585.46 485.46)" stroke="#1b1b12" stroke-width="0.09"/>
<circle r="0.300" fill="#bfa416" transform="matrix(5.320 -4.106 5.286 3.138 585.73 485.26)" />
<circle r="0.870" fill="#f4e017" transform="matrix(5.313 -4.128 5.310 3.153 599.98 494.08)" stroke="#1b1b12" stroke-width="0.09"/>
<circle r="0.300" fill="#bfa416" transform="matrix(5.313 -4.127 5.310 3.152 600.25 493.88)" />
<circle r="0.870" fill="#f4e017" transform="matrix(5.306 -4.149 5.335 3.167 614.56 502.74)" stroke="#1b1b12" stroke-width="0.09"/>
<circle r="0.300" fill="#bfa416" transform="matrix(5.305 -4.148 5.335 3.167 614.83 502.53)" />
<circle r="0.870" fill="#f4e017" transform="matrix(5.299 -4.170 5.359 3.182 629.21 511.44)" stroke="#1b1b12" stroke-width="0.09"/>
<circle r="0.300" fill="#bfa416" transform="matrix(5.298 -4.169 5.359 3.181 629.48 511.23)" />
<circle r="0.870" fill="#f4e017" transform="matrix(5.291 -4.191 5.384 3.196 643.93 520.18)" stroke="#1b1b12" stroke-width="0.09"/>
<circle r="0.300" fill="#bfa416" transform="matrix(5.290 -4.191 5.384 3.196 644.20 519.97)" />
<circle r="0.870" fill="#f4e017" transform="matrix(5.283 -4.213 5.408 3.211 658.72 528.95)" stroke="#1b1b12" stroke-width="0.09"/>
<circle r="0.300" fill="#bfa416" transform="matrix(5.283 -4.212 5.408 3.211 658.98 528.74)" />
<circle r="0.870" fill="#f4e017" transform="matrix(5.302 -4.040 5.233 3.093 569.18 458.78)" stroke="#1b1b12" stroke-width="0.09"/>
<circle r="0.300" fill="#bfa416" transform="matrix(5.301 -4.040 5.233 3.092 569.44 458.58)" />
<circle r="0.870" fill="#f4e017" transform="matrix(5.295 -4.061 5.256 3.107 583.55 467.27)" stroke="#1b1b12" stroke-width="0.09"/>
<circle r="0.300" fill="#bfa416" transform="matrix(5.294 -4.060 5.256 3.106 583.81 467.07)" />
<circle r="0.870" fill="#f4e017" transform="matrix(5.287 -4.081 5.280 3.121 597.98 475.80)" stroke="#1b1b12" stroke-width="0.09"/>
<circle r="0.300" fill="#bfa416" transform="matrix(5.287 -4.081 5.280 3.120 598.24 475.60)" />
<circle r="0.870" fill="#f4e017" transform="matrix(5.280 -4.102 5.304 3.135 612.48 484.37)" stroke="#1b1b12" stroke-width="0.09"/>
<circle r="0.300" fill="#bfa416" transform="matrix(5.280 -4.101 5.304 3.134 612.74 484.17)" />
<circle r="0.870" fill="#f4e017" transform="matrix(5.273 -4.123 5.328 3.149 627.05 492.98)" stroke="#1b1b12" stroke-width="0.09"/>
<circle r="0.300" fill="#bfa416" transform="matrix(5.272 -4.122 5.328 3.149 627.31 492.77)" />
<circle r="0.870" fill="#f4e017" transform="matrix(5.265 -4.144 5.353 3.163 641.68 501.63)" stroke="#1b1b12" stroke-width="0.09"/>
<circle r="0.300" fill="#bfa416" transform="matrix(5.265 -4.143 5.352 3.163 641.94 501.42)" />
<circle r="0.870" fill="#f4e017" transform="matrix(5.258 -4.165 5.377 3.178 656.38 510.32)" stroke="#1b1b12" stroke-width="0.09"/>
<circle r="0.300" fill="#bfa416" transform="matrix(5.257 -4.164 5.377 3.178 656.64 510.11)" />
<circle r="0.870" fill="#f4e017" transform="matrix(5.250 -4.186 5.402 3.192 671.15 519.04)" stroke="#1b1b12" stroke-width="0.09"/>
<circle r="0.300" fill="#bfa416" transform="matrix(5.249 -4.185 5.402 3.192 671.41 518.83)" />
<circle r="0.870" fill="#f4e017" transform="matrix(5.172 -3.942 5.208 3.024 618.61 421.10)" stroke="#1b1b12" stroke-width="0.09"/>
<circle r="0.300" fill="#bfa416" transform="matrix(5.171 -3.941 5.208 3.024 618.87 420.91)" />
<circle r="0.870" fill="#f4e017" transform="matrix(5.165 -3.961 5.232 3.037 632.91 429.41)" stroke="#1b1b12" stroke-width="0.09"/>
<circle r="0.300" fill="#bfa416" transform="matrix(5.164 -3.961 5.232 3.037 633.17 429.21)" />
<circle r="0.870" fill="#f4e017" transform="matrix(5.158 -3.981 5.255 3.051 647.28 437.75)" stroke="#1b1b12" stroke-width="0.09"/>
<circle r="0.300" fill="#bfa416" transform="matrix(5.157 -3.981 5.255 3.051 647.54 437.55)" />
<circle r="0.870" fill="#f4e017" transform="matrix(5.150 -4.001 5.279 3.065 661.71 446.13)" stroke="#1b1b12" stroke-width="0.09"/>
<circle r="0.300" fill="#bfa416" transform="matrix(5.150 -4.000 5.279 3.064 661.97 445.93)" />
<circle r="0.870" fill="#f4e017" transform="matrix(5.143 -4.021 5.302 3.078 676.20 454.54)" stroke="#1b1b12" stroke-width="0.09"/>
<circle r="0.300" fill="#bfa416" transform="matrix(5.142 -4.021 5.302 3.078 676.46 454.34)" />
<circle r="0.870" fill="#f4e017" transform="matrix(5.135 -4.041 5.326 3.092 690.77 463.00)" stroke="#1b1b12" stroke-width="0.09"/>
<circle r="0.300" fill="#bfa416" transform="matrix(5.134 -4.041 5.326 3.092 691.02 462.80)" />
<circle r="0.870" fill="#f4e017" transform="matrix(5.127 -4.062 5.350 3.106 705.39 471.49)" stroke="#1b1b12" stroke-width="0.09"/>
<circle r="0.300" fill="#bfa416" transform="matrix(5.127 -4.061 5.350 3.106 705.65 471.29)" />
<circle r="0.870" fill="#f4e017" transform="matrix(5.120 -4.082 5.375 3.120 720.09 480.02)" stroke="#1b1b12" stroke-width="0.09"/>
<circle r="0.300" fill="#bfa416" transform="matrix(5.119 -4.082 5.375 3.120 720.34 479.82)" />
<circle r="0.870" fill="#f4e017" transform="matrix(5.140 -3.918 5.202 3.007 630.78 411.83)" stroke="#1b1b12" stroke-width="0.09"/>
<circle r="0.300" fill="#bfa416" transform="matrix(5.140 -3.917 5.202 3.007 631.03 411.64)" />
<circle r="0.870" fill="#f4e017" transform="matrix(5.133 -3.937 5.226 3.020 645.06 420.09)" stroke="#1b1b12" stroke-width="0.09"/>
<circle r="0.300" fill="#bfa416" transform="matrix(5.133 -3.936 5.225 3.020 645.32 419.89)" />
<circle r="0.870" fill="#f4e017" transform="matrix(5.126 -3.957 5.249 3.034 659.41 428.38)" stroke="#1b1b12" stroke-width="0.09"/>
<circle r="0.300" fill="#bfa416" transform="matrix(5.125 -3.956 5.249 3.034 659.67 428.19)" />
<circle r="0.870" fill="#f4e017" transform="matrix(5.118 -3.976 5.272 3.048 673.83 436.71)" stroke="#1b1b12" stroke-width="0.09"/>
<circle r="0.300" fill="#bfa416" transform="matrix(5.118 -3.976 5.272 3.047 674.08 436.52)" />
<circle r="0.870" fill="#f4e017" transform="matrix(5.111 -3.996 5.296 3.061 688.30 445.08)" stroke="#1b1b12" stroke-width="0.09"/>
<circle r="0.300" fill="#bfa416" transform="matrix(5.110 -3.996 5.296 3.061 688.56 444.88)" />
<circle r="0.870" fill="#f4e017" transform="matrix(5.103 -4.016 5.320 3.075 702.85 453.49)" stroke="#1b1b12" stroke-width="0.09"/>
<circle r="0.300" fill="#bfa416" transform="matrix(5.103 -4.016 5.320 3.075 703.10 453.29)" />
<circle r="0.870" fill="#f4e017" transform="matrix(5.096 -4.036 5.344 3.089 717.46 461.93)" stroke="#1b1b12" stroke-width="0.09"/>
<circle r="0.300" fill="#bfa416" transform="matrix(5.095 -4.036 5.344 3.088 717.71 461.73)" />
<circle r="0.870" fill="#f4e017" transform="matrix(5.088 -4.057 5.368 3.103 732.13 470.42)" stroke="#1b1b12" stroke-width="0.09"/>
<circle r="0.300" fill="#bfa416" transform="matrix(5.087 -4.056 5.368 3.102 732.39 470.21)" />
<circle r="0.870" fill="#f4e017" transform="matrix(5.109 -3.894 5.196 2.990 642.87 402.61)" stroke="#1b1b12" stroke-width="0.09"/>
<circle r="0.300" fill="#bfa416" transform="matrix(5.108 -3.893 5.196 2.990 643.13 402.42)" />
<circle r="0.870" fill="#f4e017" transform="matrix(5.102 -3.913 5.219 3.004 657.14 410.83)" stroke="#1b1b12" stroke-width="0.09"/>
<circle r="0.300" fill="#bfa416" transform="matrix(5.101 -3.912 5.219 3.003 657.39 410.63)" />
<circle r="0.870" fill="#f4e017" transform="matrix(5.094 -3.932 5.243 3.017 671.47 419.07)" stroke="#1b1b12" stroke-width="0.09"/>
<circle r="0.300" fill="#bfa416" transform="matrix(5.094 -3.932 5.242 3.017 671.73 418.88)" />
<circle r="0.870" fill="#f4e017" transform="matrix(5.087 -3.952 5.266 3.031 685.87 427.36)" stroke="#1b1b12" stroke-width="0.09"/>
<circle r="0.300" fill="#bfa416" transform="matrix(5.086 -3.951 5.266 3.030 686.12 427.16)" />
<circle r="0.870" fill="#f4e017" transform="matrix(5.080 -3.972 5.289 3.044 700.33 435.68)" stroke="#1b1b12" stroke-width="0.09"/>
<circle r="0.300" fill="#bfa416" transform="matrix(5.079 -3.971 5.289 3.044 700.58 435.48)" />
<circle r="0.870" fill="#f4e017" transform="matrix(5.072 -3.991 5.313 3.058 714.85 444.04)" stroke="#1b1b12" stroke-width="0.09"/>
<circle r="0.300" fill="#bfa416" transform="matrix(5.071 -3.991 5.313 3.057 715.11 443.84)" />
<circle r="0.870" fill="#f4e017" transform="matrix(5.064 -4.011 5.337 3.071 729.44 452.44)" stroke="#1b1b12" stroke-width="0.09"/>
<circle r="0.300" fill="#bfa416" transform="matrix(5.063 -4.011 5.337 3.071 729.70 452.24)" />
<circle r="0.870" fill="#f4e017" transform="matrix(5.056 -4.032 5.361 3.085 744.10 460.87)" stroke="#1b1b12" stroke-width="0.09"/>
<circle r="0.300" fill="#bfa416" transform="matrix(5.056 -4.031 5.361 3.085 744.35 460.67)" />
<circle r="0.870" fill="#f4e017" transform="matrix(5.078 -3.870 5.190 2.974 654.89 393.45)" stroke="#1b1b12" stroke-width="0.09"/>
<circle r="0.300" fill="#bfa416" transform="matrix(5.077 -3.869 5.190 2.974 655.14 393.26)" />
<circle r="0.870" fill="#f4e017" transform="matrix(5.071 -3.889 5.213 2.987 669.14 401.62)" stroke="#1b1b12" stroke-width="0.09"/>
<circle r="0.300" fill="#bfa416" transform="matrix(5.070 -3.889 5.213 2.987 669.40 401.43)" />
<circle r="0.870" fill="#f4e017" transform="matrix(5.063 -3.908 5.236 3.000 683.46 409.82)" stroke="#1b1b12" stroke-width="0.09"/>
<circle r="0.300" fill="#bfa416" transform="matrix(5.063 -3.908 5.236 3.000 683.71 409.63)" />
<circle r="0.870" fill="#f4e017" transform="matrix(5.056 -3.928 5.259 3.014 697.84 418.06)" stroke="#1b1b12" stroke-width="0.09"/>
<circle r="0.300" fill="#bfa416" transform="matrix(5.055 -3.927 5.259 3.013 698.09 417.87)" />
<circle r="0.870" fill="#f4e017" transform="matrix(5.048 -3.947 5.283 3.027 712.28 426.34)" stroke="#1b1b12" stroke-width="0.09"/>
<circle r="0.300" fill="#bfa416" transform="matrix(5.048 -3.947 5.283 3.027 712.53 426.14)" />
<circle r="0.870" fill="#f4e017" transform="matrix(5.041 -3.967 5.306 3.041 726.79 434.65)" stroke="#1b1b12" stroke-width="0.09"/>
<circle r="0.300" fill="#bfa416" transform="matrix(5.040 -3.966 5.306 3.040 727.04 434.45)" />
<circle r="0.870" fill="#f4e017" transform="matrix(5.033 -3.987 5.330 3.054 741.36 443.00)" stroke="#1b1b12" stroke-width="0.09"/>
<circle r="0.300" fill="#bfa416" transform="matrix(5.032 -3.986 5.330 3.054 741.61 442.80)" />
<circle r="0.870" fill="#f4e017" transform="matrix(5.025 -4.007 5.354 3.068 756.00 451.39)" stroke="#1b1b12" stroke-width="0.09"/>
<circle r="0.300" fill="#bfa416" transform="matrix(5.024 -4.006 5.354 3.068 756.25 451.19)" />
<circle r="0.870" fill="#f4e017" transform="matrix(4.956 -3.777 5.165 2.909 702.25 357.36)" stroke="#1b1b12" stroke-width="0.09"/>
<circle r="0.300" fill="#bfa416" transform="matrix(4.956 -3.777 5.165 2.909 702.50 357.17)" />
<circle r="0.870" fill="#f4e017" transform="matrix(4.949 -3.796 5.188 2.922 716.43 365.35)" stroke="#1b1b12" stroke-width="0.09"/>
<circle r="0.300" fill="#bfa416" transform="matrix(4.948 -3.795 5.188 2.922 716.68 365.16)" />
<circle r="0.870" fill="#f4e017" transform="matrix(4.942 -3.814 5.211 2.935 730.68 373.37)" stroke="#1b1b12" stroke-width="0.09"/>
<circle r="0.300" fill="#bfa416" transform="matrix(4.941 -3.814 5.210 2.935 730.92 373.18)" />
<circle r="0.870" fill="#f4e017" transform="matrix(4.934 -3.833 5.233 2.948 744.99 381.43)" stroke="#1b1b12" stroke-width="0.09"/>
<circle r="0.300" fill="#bfa416" transform="matrix(4.933 -3.833 5.233 2.948 745.23 381.24)" />
<circle r="0.870" fill="#f4e017" transform="matrix(4.926 -3.852 5.256 2.961 759.36 389.53)" stroke="#1b1b12" stroke-width="0.09"/>
<circle r="0.300" fill="#bfa416" transform="matrix(4.926 -3.851 5.256 2.960 759.60 389.34)" />
<circle r="0.870" fill="#f4e017" transform="matrix(4.919 -3.871 5.280 2.974 773.79 397.66)" stroke="#1b1b12" stroke-width="0.09"/>
<circle r="0.300" fill="#bfa416" transform="matrix(4.918 -3.870 5.280 2.974 774.04 397.47)" />
<circle r="0.870" fill="#f4e017" transform="matrix(4.911 -3.890 5.303 2.987 788.29 405.83)" stroke="#1b1b12" stroke-width="0.09"/>
<circle r="0.300" fill="#bfa416" transform="matrix(4.910 -3.889 5.303 2.987 788.53 405.63)" />
<circle r="0.870" fill="#f4e017" transform="matrix(4.903 -3.909 5.326 3.000 802.85 414.03)" stroke="#1b1b12" stroke-width="0.09"/>
<circle r="0.300" fill="#bfa416" transform="matrix(4.902 -3.909 5.326 3.000 803.10 413.83)" />
<circle r="0.870" fill="#f4e017" transform="matrix(4.927 -3.755 5.159 2.894 713.91 348.47)" stroke="#1b1b12" stroke-width="0.09"/>
<circle r="0.300" fill="#bfa416" transform="matrix(4.926 -3.754 5.159 2.893 714.16 348.29)" />
<circle r="0.870" fill="#f4e017" transform="matrix(4.919 -3.773 5.181 2.906 728.08 356.42)" stroke="#1b1b12" stroke-width="0.09"/>
<circle r="0.300" fill="#bfa416" transform="matrix(4.919 -3.772 5.181 2.906 728.32 356.23)" />
<circle r="0.870" fill="#f4e017" transform="matrix(4.912 -3.791 5.204 2.919 742.30 364.40)" stroke="#1b1b12" stroke-width="0.09"/>
<circle r="0.300" fill="#bfa416" transform="matrix(4.911 -3.791 5.204 2.919 742.55 364.21)" />
<circle r="0.870" fill="#f4e017" transform="matrix(4.904 -3.810 5.227 2.932 756.59 372.41)" stroke="#1b1b12" stroke-width="0.09"/>
<circle r="0.300" fill="#bfa416" transform="matrix(4.904 -3.809 5.227 2.931 756.84 372.22)" />
<circle r="0.870" fill="#f4e017" transform="matrix(4.897 -3.829 5.250 2.945 770.95 380.47)" stroke="#1b1b12" stroke-width="0.09"/>
<circle r="0.300" fill="#bfa416" transform="matrix(4.896 -3.828 5.250 2.944 771.19 380.27)" />
<circle r="0.870" fill="#f4e017" transform="matrix(4.889 -3.847 5.273 2.958 785.36 388.55)" stroke="#1b1b12" stroke-width="0.09"/>
<circle r="0.300" fill="#bfa416" transform="matrix(4.888 -3.847 5.273 2.957 785.61 388.36)" />
<circle r="0.870" fill="#f4e017" transform="matrix(4.881 -3.866 5.296 2.971 799.84 396.67)" stroke="#1b1b12" stroke-width="0.09"/>
<circle r="0.300" fill="#bfa416" transform="matrix(4.880 -3.866 5.296 2.970 800.09 396.48)" />
<circle r="0.870" fill="#f4e017" transform="matrix(4.873 -3.885 5.320 2.984 814.39 404.83)" stroke="#1b1b12" stroke-width="0.09"/>
<circle r="0.300" fill="#bfa416" transform="matrix(4.872 -3.885 5.319 2.983 814.63 404.64)" />
<circle r="0.870" fill="#f4e017" transform="matrix(4.897 -3.732 5.153 2.878 725.50 339.64)" stroke="#1b1b12" stroke-width="0.09"/>
<circle r="0.300" fill="#bfa416" transform="matrix(4.897 -3.732 5.153 2.878 725.75 339.45)" />
<circle r="0.870" fill="#f4e017" transform="matrix(4.890 -3.750 5.175 2.891 739.65 347.54)" stroke="#1b1b12" stroke-width="0.09"/>
<circle r="0.300" fill="#bfa416" transform="matrix(4.889 -3.750 5.175 2.890 739.90 347.35)" />
<circle r="0.870" fill="#f4e017" transform="matrix(4.882 -3.769 5.198 2.903 753.86 355.48)" stroke="#1b1b12" stroke-width="0.09"/>
<circle r="0.300" fill="#bfa416" transform="matrix(4.882 -3.768 5.197 2.903 754.11 355.29)" />
<circle r="0.870" fill="#f4e017" transform="matrix(4.875 -3.787 5.220 2.916 768.13 363.45)" stroke="#1b1b12" stroke-width="0.09"/>
<circle r="0.300" fill="#bfa416" transform="matrix(4.874 -3.787 5.220 2.915 768.38 363.26)" />
<circle r="0.870" fill="#f4e017" transform="matrix(4.867 -3.806 5.243 2.929 782.47 371.46)" stroke="#1b1b12" stroke-width="0.09"/>
<circle r="0.300" fill="#bfa416" transform="matrix(4.866 -3.805 5.243 2.928 782.71 371.27)" />
<circle r="0.870" fill="#f4e017" transform="matrix(4.859 -3.824 5.266 2.941 796.87 379.50)" stroke="#1b1b12" stroke-width="0.09"/>
<circle r="0.300" fill="#bfa416" transform="matrix(4.859 -3.824 5.266 2.941 797.11 379.31)" />
<circle r="0.870" fill="#f4e017" transform="matrix(4.851 -3.843 5.289 2.954 811.33 387.58)" stroke="#1b1b12" stroke-width="0.09"/>
<circle r="0.300" fill="#bfa416" transform="matrix(4.851 -3.842 5.289 2.954 811.57 387.38)" />
<circle r="0.870" fill="#f4e017" transform="matrix(4.843 -3.862 5.313 2.967 825.85 395.69)" stroke="#1b1b12" stroke-width="0.09"/>
<circle r="0.300" fill="#bfa416" transform="matrix(4.843 -3.861 5.312 2.967 826.09 395.50)" />
<circle r="0.870" fill="#f4e017" transform="matrix(4.868 -3.710 5.146 2.863 737.02 330.86)" stroke="#1b1b12" stroke-width="0.09"/>
<circle r="0.300" fill="#bfa416" transform="matrix(4.867 -3.710 5.146 2.862 737.27 330.67)" />
<circle r="0.870" fill="#f4e017" transform="matrix(4.861 -3.728 5.169 2.875 751.16 338.72)" stroke="#1b1b12" stroke-width="0.09"/>
<circle r="0.300" fill="#bfa416" transform="matrix(4.860 -3.727 5.169 2.875 751.40 338.53)" />
<circle r="0.870" fill="#f4e017" transform="matrix(4.853 -3.746 5.191 2.887 765.35 346.61)" stroke="#1b1b12" stroke-width="0.09"/>
<circle r="0.300" fill="#bfa416" transform="matrix(4.853 -3.746 5.191 2.887 765.59 346.42)" />
<circle r="0.870" fill="#f4e017" transform="matrix(4.846 -3.764 5.214 2.900 779.60 354.54)" stroke="#1b1b12" stroke-width="0.09"/>
<circle r="0.300" fill="#bfa416" transform="matrix(4.845 -3.764 5.214 2.900 779.85 354.35)" />
<circle r="0.870" fill="#f4e017" transform="matrix(4.838 -3.783 5.236 2.913 793.92 362.50)" stroke="#1b1b12" stroke-width="0.09"/>
<circle r="0.300" fill="#bfa416" transform="matrix(4.837 -3.782 5.236 2.912 794.16 362.31)" />
<circle r="0.870" fill="#f4e017" transform="matrix(4.830 -3.801 5.259 2.925 808.30 370.50)" stroke="#1b1b12" stroke-width="0.09"/>
<circle r="0.300" fill="#bfa416" transform="matrix(4.829 -3.801 5.259 2.925 808.54 370.31)" />
<circle r="0.870" fill="#f4e017" transform="matrix(4.822 -3.820 5.282 2.938 822.74 378.53)" stroke="#1b1b12" stroke-width="0.09"/>
<circle r="0.300" fill="#bfa416" transform="matrix(4.821 -3.819 5.282 2.938 822.98 378.34)" />
<circle r="0.870" fill="#f4e017" transform="matrix(4.814 -3.838 5.306 2.951 837.25 386.60)" stroke="#1b1b12" stroke-width="0.09"/>
<circle r="0.300" fill="#bfa416" transform="matrix(4.813 -3.838 5.305 2.951 837.49 386.41)" />
<circle r="2.300" fill="#f2dc0c" transform="matrix(5.462 -4.019 5.122 3.078 442.73 446.24)" />
<circle r="1.500" fill="#b08f14" transform="matrix(5.462 -4.019 5.122 3.078 442.73 446.24)" />
<circle r="1.350" fill="#ffffff" transform="matrix(5.465 -4.024 5.125 3.082 442.64 448.01)" />
<circle r="2.300" fill="#f2dc0c" transform="matrix(5.300 -3.900 5.096 2.996 504.60 400.71)" />
<circle r="1.500" fill="#b08f14" transform="matrix(5.300 -3.900 5.096 2.996 504.60 400.71)" />
<circle r="1.350" fill="#ffffff" transform="matrix(5.303 -3.904 5.099 2.999 504.55 402.44)" />
<circle r="2.300" fill="#f2dc0c" transform="matrix(5.077 -3.736 5.057 2.882 591.23 336.96)" />
<circle r="1.500" fill="#b08f14" transform="matrix(5.077 -3.736 5.057 2.882 591.23 336.96)" />
<circle r="1.350" fill="#ffffff" transform="matrix(5.080 -3.740 5.059 2.884 591.23 338.62)" />
<circle r="2.300" fill="#f2dc0c" transform="matrix(5.403 -4.203 5.332 3.205 569.20 522.25)" />
<circle r="1.500" fill="#b08f14" transform="matrix(5.403 -4.203 5.332 3.205 569.20 522.25)" />
<circle r="1.350" fill="#ffffff" transform="matrix(5.406 -4.208 5.335 3.208 569.19 524.10)" />
<circle r="2.300" fill="#f2dc0c" transform="matrix(5.239 -4.076 5.302 3.117 630.39 474.65)" />
<circle r="1.500" fill="#b08f14" transform="matrix(5.239 -4.076 5.302 3.117 630.39 474.65)" />
<circle r="1.350" fill="#ffffff" transform="matrix(5.242 -4.080 5.305 3.120 630.40 476.45)" />
<circle r="2.300" fill="#f2dc0c" transform="matrix(5.015 -3.901 5.256 2.995 715.99 408.06)" />
<circle r="1.500" fill="#b08f14" transform="matrix(5.015 -3.901 5.256 2.995 715.99 408.06)" />
<circle r="1.350" fill="#ffffff" transform="matrix(5.018 -3.906 5.259 2.998 716.05 409.79)" />
<text xml:space="preserve" stroke="#fff" stroke-width="0.10" font-family="Liberation Sans, sans-serif" font-size="2.80" font-weight="normal" fill="#fff" text-anchor="middle" transform="translate(0 0.0) matrix(-5.115 -3.043 5.387 -3.969 473.22 427.20)" textLength="5.80" lengthAdjust="spacingAndGlyphs">2230</text>
<text xml:space="preserve" stroke="#fff" stroke-width="0.10" font-family="Liberation Sans, sans-serif" font-size="2.80" font-weight="normal" fill="#fff" text-anchor="middle" transform="translate(0 0.0) matrix(-5.088 -2.963 5.230 -3.853 533.74 382.62)" textLength="5.80" lengthAdjust="spacingAndGlyphs">2242</text>
<text xml:space="preserve" stroke="#fff" stroke-width="0.10" font-family="Liberation Sans, sans-serif" font-size="2.80" font-weight="normal" fill="#fff" text-anchor="middle" transform="translate(0 0.0) matrix(-5.047 -2.847 5.005 -3.687 621.74 317.80)" textLength="5.80" lengthAdjust="spacingAndGlyphs">2260</text>
<text xml:space="preserve" stroke="#fff" stroke-width="0.10" font-family="Liberation Sans, sans-serif" font-size="2.80" font-weight="normal" fill="#fff" text-anchor="middle" transform="translate(0 0.0) matrix(-5.020 -2.778 4.870 -3.588 675.56 278.15)" textLength="5.80" lengthAdjust="spacingAndGlyphs">2280</text>
<text xml:space="preserve" stroke="#fff" stroke-width="0.10" font-family="Liberation Sans, sans-serif" font-size="2.80" font-weight="normal" fill="#fff" text-anchor="middle" transform="translate(0 0.0) matrix(-5.324 -3.168 5.327 -4.150 600.03 502.65)" textLength="5.80" lengthAdjust="spacingAndGlyphs">2230</text>
<text xml:space="preserve" stroke="#fff" stroke-width="0.10" font-family="Liberation Sans, sans-serif" font-size="2.80" font-weight="normal" fill="#fff" text-anchor="middle" transform="translate(0 0.0) matrix(-5.293 -3.082 5.168 -4.026 659.85 456.06)" textLength="5.80" lengthAdjust="spacingAndGlyphs">2242</text>
<text xml:space="preserve" stroke="#fff" stroke-width="0.10" font-family="Liberation Sans, sans-serif" font-size="2.80" font-weight="normal" fill="#fff" text-anchor="middle" transform="translate(0 0.0) matrix(-5.246 -2.960 4.942 -3.850 746.77 388.34)" textLength="5.80" lengthAdjust="spacingAndGlyphs">2260</text>
<text xml:space="preserve" stroke="#fff" stroke-width="0.10" font-family="Liberation Sans, sans-serif" font-size="2.80" font-weight="normal" fill="#fff" text-anchor="middle" transform="translate(0 0.0) matrix(-5.215 -2.886 4.806 -3.744 799.90 346.95)" textLength="5.80" lengthAdjust="spacingAndGlyphs">2280</text>
<text xml:space="preserve" stroke="#fff" stroke-width="0.06" font-family="Liberation Sans, sans-serif" font-size="2.95" font-weight="normal" fill="#fff" text-anchor="middle" transform="translate(0 0.0) matrix(4.848 -3.928 5.375 3.013 851.46 422.97)" textLength="12.00" lengthAdjust="spacingAndGlyphs">U2SATA-06</text>
<polyline points="287.2,481.9 275.1,490.6 279.9,493.6 264.8,504.4 349.3,557.5 364.0,546.6 372.6,552.0 358.2,562.7 381.1,577.1 395.5,566.2 399.2,568.5 411.4,559.2" fill="none" stroke="#fff" stroke-width="1.20" stroke-linejoin="miter" />
<polyline points="267.6,506.2 284.1,494.3" fill="none" stroke="#fff" stroke-width="1.10" stroke-linejoin="miter" />
<polyline points="270.4,507.9 286.9,496.0" fill="none" stroke="#fff" stroke-width="1.10" stroke-linejoin="miter" />
<polyline points="273.1,509.7 289.7,497.8" fill="none" stroke="#fff" stroke-width="1.10" stroke-linejoin="miter" />
<polyline points="275.9,511.4 292.4,499.5" fill="none" stroke="#fff" stroke-width="1.10" stroke-linejoin="miter" />
<polyline points="278.7,513.2 295.2,501.3" fill="none" stroke="#fff" stroke-width="1.10" stroke-linejoin="miter" />
<polyline points="281.5,514.9 298.0,503.0" fill="none" stroke="#fff" stroke-width="1.10" stroke-linejoin="miter" />
<polyline points="284.3,516.7 300.8,504.7" fill="none" stroke="#fff" stroke-width="1.10" stroke-linejoin="miter" />
<polyline points="287.1,518.5 303.6,506.5" fill="none" stroke="#fff" stroke-width="1.10" stroke-linejoin="miter" />
<polyline points="289.9,520.2 306.4,508.2" fill="none" stroke="#fff" stroke-width="1.10" stroke-linejoin="miter" />
<polyline points="292.7,522.0 309.2,510.0" fill="none" stroke="#fff" stroke-width="1.10" stroke-linejoin="miter" />
<polyline points="295.5,523.7 312.0,511.7" fill="none" stroke="#fff" stroke-width="1.10" stroke-linejoin="miter" />
<polyline points="298.3,525.5 314.8,513.5" fill="none" stroke="#fff" stroke-width="1.10" stroke-linejoin="miter" />
<polyline points="301.1,527.3 317.6,515.2" fill="none" stroke="#fff" stroke-width="1.10" stroke-linejoin="miter" />
<polyline points="303.9,529.0 320.4,517.0" fill="none" stroke="#fff" stroke-width="1.10" stroke-linejoin="miter" />
<polyline points="306.8,530.8 323.2,518.7" fill="none" stroke="#fff" stroke-width="1.10" stroke-linejoin="miter" />
<polyline points="309.6,532.6 326.0,520.5" fill="none" stroke="#fff" stroke-width="1.10" stroke-linejoin="miter" />
<polyline points="312.4,534.3 328.9,522.3" fill="none" stroke="#fff" stroke-width="1.10" stroke-linejoin="miter" />
<polyline points="315.2,536.1 331.7,524.0" fill="none" stroke="#fff" stroke-width="1.10" stroke-linejoin="miter" />
<polyline points="318.0,537.9 334.5,525.8" fill="none" stroke="#fff" stroke-width="1.10" stroke-linejoin="miter" />
<polyline points="320.9,539.7 337.3,527.6" fill="none" stroke="#fff" stroke-width="1.10" stroke-linejoin="miter" />
<polyline points="323.7,541.4 340.1,529.3" fill="none" stroke="#fff" stroke-width="1.10" stroke-linejoin="miter" />
<polyline points="326.5,543.2 343.0,531.1" fill="none" stroke="#fff" stroke-width="1.10" stroke-linejoin="miter" />
<polyline points="329.4,545.0 345.8,532.9" fill="none" stroke="#fff" stroke-width="1.10" stroke-linejoin="miter" />
<polyline points="332.2,546.8 348.6,534.6" fill="none" stroke="#fff" stroke-width="1.10" stroke-linejoin="miter" />
<polyline points="335.0,548.6 351.5,536.4" fill="none" stroke="#fff" stroke-width="1.10" stroke-linejoin="miter" />
<polyline points="337.9,550.4 354.3,538.2" fill="none" stroke="#fff" stroke-width="1.10" stroke-linejoin="miter" />
<polyline points="340.7,552.2 357.2,539.9" fill="none" stroke="#fff" stroke-width="1.10" stroke-linejoin="miter" />
<polyline points="343.6,553.9 360.0,541.7" fill="none" stroke="#fff" stroke-width="1.10" stroke-linejoin="miter" />
<polyline points="346.4,555.7 362.9,543.5" fill="none" stroke="#fff" stroke-width="1.10" stroke-linejoin="miter" />
<polyline points="361.1,564.5 377.2,552.4" fill="none" stroke="#fff" stroke-width="1.10" stroke-linejoin="miter" />
<polyline points="363.9,566.3 380.0,554.2" fill="none" stroke="#fff" stroke-width="1.10" stroke-linejoin="miter" />
<polyline points="366.8,568.1 382.9,556.0" fill="none" stroke="#fff" stroke-width="1.10" stroke-linejoin="miter" />
<polyline points="369.6,569.9 385.7,557.8" fill="none" stroke="#fff" stroke-width="1.10" stroke-linejoin="miter" />
<polyline points="372.5,571.7 388.6,559.6" fill="none" stroke="#fff" stroke-width="1.10" stroke-linejoin="miter" />
<polyline points="375.4,573.5 391.4,561.4" fill="none" stroke="#fff" stroke-width="1.10" stroke-linejoin="miter" />
<polyline points="378.2,575.3 394.3,563.1" fill="none" stroke="#fff" stroke-width="1.10" stroke-linejoin="miter" />
<polyline points="415.6,561.9 403.7,571.0 406.8,573.0 392.2,584.1 410.8,595.8 425.1,584.8 434.2,590.4 419.9,601.5 511.0,658.7 525.5,647.1 531.0,650.5 542.8,641.0" fill="none" stroke="#fff" stroke-width="1.20" stroke-linejoin="miter" />
<polyline points="394.8,585.7 410.9,573.5" fill="none" stroke="#fff" stroke-width="1.10" stroke-linejoin="miter" />
<polyline points="397.5,587.4 413.6,575.2" fill="none" stroke="#fff" stroke-width="1.10" stroke-linejoin="miter" />
<polyline points="400.1,589.1 416.2,576.8" fill="none" stroke="#fff" stroke-width="1.10" stroke-linejoin="miter" />
<polyline points="402.8,590.7 418.9,578.5" fill="none" stroke="#fff" stroke-width="1.10" stroke-linejoin="miter" />
<polyline points="405.5,592.4 421.5,580.1" fill="none" stroke="#fff" stroke-width="1.10" stroke-linejoin="miter" />
<polyline points="408.1,594.1 424.2,581.8" fill="none" stroke="#fff" stroke-width="1.10" stroke-linejoin="miter" />
<polyline points="422.8,603.3 438.8,590.9" fill="none" stroke="#fff" stroke-width="1.10" stroke-linejoin="miter" />
<polyline points="425.7,605.1 441.7,592.7" fill="none" stroke="#fff" stroke-width="1.10" stroke-linejoin="miter" />
<polyline points="428.6,606.9 444.6,594.5" fill="none" stroke="#fff" stroke-width="1.10" stroke-linejoin="miter" />
<polyline points="431.5,608.7 447.5,596.4" fill="none" stroke="#fff" stroke-width="1.10" stroke-linejoin="miter" />
<polyline points="434.4,610.6 450.4,598.2" fill="none" stroke="#fff" stroke-width="1.10" stroke-linejoin="miter" />
<polyline points="437.3,612.4 453.3,600.0" fill="none" stroke="#fff" stroke-width="1.10" stroke-linejoin="miter" />
<polyline points="440.2,614.2 456.2,601.8" fill="none" stroke="#fff" stroke-width="1.10" stroke-linejoin="miter" />
<polyline points="443.1,616.1 459.1,603.6" fill="none" stroke="#fff" stroke-width="1.10" stroke-linejoin="miter" />
<polyline points="446.0,617.9 462.0,605.4" fill="none" stroke="#fff" stroke-width="1.10" stroke-linejoin="miter" />
<polyline points="449.0,619.7 465.0,607.3" fill="none" stroke="#fff" stroke-width="1.10" stroke-linejoin="miter" />
<polyline points="451.9,621.6 467.9,609.1" fill="none" stroke="#fff" stroke-width="1.10" stroke-linejoin="miter" />
<polyline points="454.8,623.4 470.8,610.9" fill="none" stroke="#fff" stroke-width="1.10" stroke-linejoin="miter" />
<polyline points="457.7,625.3 473.7,612.7" fill="none" stroke="#fff" stroke-width="1.10" stroke-linejoin="miter" />
<polyline points="460.7,627.1 476.7,614.6" fill="none" stroke="#fff" stroke-width="1.10" stroke-linejoin="miter" />
<polyline points="463.6,628.9 479.6,616.4" fill="none" stroke="#fff" stroke-width="1.10" stroke-linejoin="miter" />
<polyline points="466.5,630.8 482.5,618.2" fill="none" stroke="#fff" stroke-width="1.10" stroke-linejoin="miter" />
<polyline points="469.5,632.6 485.5,620.1" fill="none" stroke="#fff" stroke-width="1.10" stroke-linejoin="miter" />
<polyline points="472.4,634.5 488.4,621.9" fill="none" stroke="#fff" stroke-width="1.10" stroke-linejoin="miter" />
<polyline points="475.4,636.3 491.3,623.8" fill="none" stroke="#fff" stroke-width="1.10" stroke-linejoin="miter" />
<polyline points="478.3,638.2 494.3,625.6" fill="none" stroke="#fff" stroke-width="1.10" stroke-linejoin="miter" />
<polyline points="481.3,640.0 497.2,627.4" fill="none" stroke="#fff" stroke-width="1.10" stroke-linejoin="miter" />
<polyline points="484.2,641.9 500.2,629.3" fill="none" stroke="#fff" stroke-width="1.10" stroke-linejoin="miter" />
<polyline points="487.2,643.8 503.1,631.1" fill="none" stroke="#fff" stroke-width="1.10" stroke-linejoin="miter" />
<polyline points="490.1,645.6 506.1,633.0" fill="none" stroke="#fff" stroke-width="1.10" stroke-linejoin="miter" />
<polyline points="493.1,647.5 509.1,634.8" fill="none" stroke="#fff" stroke-width="1.10" stroke-linejoin="miter" />
<polyline points="496.1,649.3 512.0,636.7" fill="none" stroke="#fff" stroke-width="1.10" stroke-linejoin="miter" />
<polyline points="499.0,651.2 515.0,638.5" fill="none" stroke="#fff" stroke-width="1.10" stroke-linejoin="miter" />
<polyline points="502.0,653.1 517.9,640.4" fill="none" stroke="#fff" stroke-width="1.10" stroke-linejoin="miter" />
<polyline points="505.0,654.9 520.9,642.2" fill="none" stroke="#fff" stroke-width="1.10" stroke-linejoin="miter" />
<polyline points="508.0,656.8 523.9,644.1" fill="none" stroke="#fff" stroke-width="1.10" stroke-linejoin="miter" />
<text xml:space="preserve" font-family="Liberation Sans, sans-serif" font-size="1.45" font-weight="normal" fill="#fff" text-anchor="middle" transform="translate(0 0.0) matrix(-5.164 -3.217 5.731 -4.219 342.77 521.19)" textLength="9.60" lengthAdjust="spacingAndGlyphs">M2   B   KEY</text>
<text xml:space="preserve" font-family="Liberation Sans, sans-serif" font-size="1.45" font-weight="normal" fill="#fff" text-anchor="middle" transform="translate(0 0.0) matrix(-5.398 -3.363 5.670 -4.431 480.04 606.71)" textLength="9.60" lengthAdjust="spacingAndGlyphs">M2   M   KEY</text>
<circle r="3.000" fill="#f0d90e" transform="matrix(5.818 -4.068 4.971 3.114 208.66 457.96)" />
<circle r="1.500" fill="#a58a12" transform="matrix(5.818 -4.068 4.971 3.114 208.66 457.96)" />
<circle r="1.300" fill="#ffffff" transform="matrix(5.819 -4.070 4.972 3.115 208.56 458.82)" />
<circle r="0.170" fill="#c9c36a" transform="matrix(5.783 -4.049 4.972 3.101 224.78 451.15)" />
<circle r="0.170" fill="#c9c36a" transform="matrix(5.798 -4.071 4.986 3.116 225.02 459.92)" />
<circle r="0.170" fill="#c9c36a" transform="matrix(5.824 -4.092 4.990 3.130 215.65 467.59)" />
<circle r="0.170" fill="#c9c36a" transform="matrix(5.848 -4.098 4.983 3.134 202.13 469.61)" />
<circle r="0.170" fill="#c9c36a" transform="matrix(5.853 -4.086 4.969 3.127 192.46 464.79)" />
<circle r="0.170" fill="#c9c36a" transform="matrix(5.838 -4.064 4.956 3.111 192.31 455.99)" />
<circle r="0.170" fill="#c9c36a" transform="matrix(5.811 -4.044 4.951 3.097 201.71 448.38)" />
<circle r="0.170" fill="#c9c36a" transform="matrix(5.788 -4.038 4.958 3.093 215.14 446.38)" />
<circle r="3.000" fill="#f0d90e" transform="matrix(4.849 -3.384 4.820 2.637 586.39 188.75)" />
<circle r="1.500" fill="#a58a12" transform="matrix(4.849 -3.384 4.820 2.637 586.39 188.75)" />
<circle r="1.300" fill="#ffffff" transform="matrix(4.850 -3.386 4.821 2.638 586.38 189.47)" />
<circle r="0.170" fill="#c9c36a" transform="matrix(4.822 -3.370 4.820 2.627 600.29 183.11)" />
<circle r="0.170" fill="#c9c36a" transform="matrix(4.832 -3.387 4.832 2.639 601.40 190.48)" />
<circle r="0.170" fill="#c9c36a" transform="matrix(4.853 -3.403 4.837 2.649 593.70 196.86)" />
<circle r="0.170" fill="#c9c36a" transform="matrix(4.871 -3.407 4.832 2.653 581.68 198.49)" />
<circle r="0.170" fill="#c9c36a" transform="matrix(4.877 -3.399 4.820 2.647 572.43 194.40)" />
<circle r="0.170" fill="#c9c36a" transform="matrix(4.866 -3.381 4.807 2.635 571.38 187.01)" />
<circle r="0.170" fill="#c9c36a" transform="matrix(4.846 -3.366 4.802 2.624 579.11 180.67)" />
<circle r="0.170" fill="#c9c36a" transform="matrix(4.828 -3.362 4.808 2.621 591.06 179.06)" />
<circle r="3.000" fill="#f0d90e" transform="matrix(4.676 -3.780 5.324 2.910 914.73 365.20)" />
<circle r="1.500" fill="#a58a12" transform="matrix(4.676 -3.780 5.324 2.910 914.73 365.20)" />
<circle r="1.300" fill="#ffffff" transform="matrix(4.677 -3.782 5.325 2.911 914.81 366.01)" />
<circle r="0.170" fill="#c9c36a" transform="matrix(4.648 -3.763 5.323 2.898 928.60 358.89)" />
<circle r="0.170" fill="#c9c36a" transform="matrix(4.657 -3.783 5.338 2.912 930.59 367.07)" />
<circle r="0.170" fill="#c9c36a" transform="matrix(4.677 -3.801 5.344 2.925 923.28 374.19)" />
<circle r="0.170" fill="#c9c36a" transform="matrix(4.697 -3.807 5.339 2.929 910.92 376.05)" />
<circle r="0.170" fill="#c9c36a" transform="matrix(4.704 -3.796 5.325 2.921 900.81 371.55)" />
<circle r="0.170" fill="#c9c36a" transform="matrix(4.695 -3.776 5.310 2.908 898.89 363.34)" />
<circle r="0.170" fill="#c9c36a" transform="matrix(4.675 -3.759 5.303 2.895 906.24 356.26)" />
<circle r="0.170" fill="#c9c36a" transform="matrix(4.655 -3.753 5.308 2.891 918.52 354.43)" />
<circle r="3.000" fill="#f0d90e" transform="matrix(5.676 -4.592 5.542 3.473 542.91 668.95)" />
<circle r="1.500" fill="#a58a12" transform="matrix(5.676 -4.592 5.542 3.473 542.91 668.95)" />
<circle r="1.300" fill="#ffffff" transform="matrix(5.677 -4.595 5.544 3.475 542.89 669.92)" />
<circle r="0.170" fill="#c9c36a" transform="matrix(5.639 -4.570 5.543 3.458 559.10 661.24)" />
<circle r="0.170" fill="#c9c36a" transform="matrix(5.653 -4.597 5.559 3.476 560.28 671.09)" />
<circle r="0.170" fill="#c9c36a" transform="matrix(5.680 -4.621 5.566 3.493 551.25 679.73)" />
<circle r="0.170" fill="#c9c36a" transform="matrix(5.705 -4.628 5.559 3.498 537.29 682.07)" />
<circle r="0.170" fill="#c9c36a" transform="matrix(5.713 -4.615 5.542 3.489 526.63 676.70)" />
<circle r="0.170" fill="#c9c36a" transform="matrix(5.699 -4.588 5.526 3.470 525.54 666.81)" />
<circle r="0.170" fill="#c9c36a" transform="matrix(5.671 -4.564 5.519 3.454 534.61 658.23)" />
<circle r="0.170" fill="#c9c36a" transform="matrix(5.646 -4.557 5.526 3.449 548.48 655.93)" />
<circle r="1.300" fill="#ffffff" transform="matrix(4.783 -3.335 4.805 2.602 612.63 168.34)" />
<circle r="1.200" fill="#ffffff" transform="matrix(5.956 -4.256 5.072 3.243 200.34 530.76)" />
<circle r="1.250" fill="#ffffff" transform="matrix(5.925 -4.783 5.574 3.605 450.64 735.89)" />
<line x1="220.3" y1="539.9" x2="207.9" y2="550.2" stroke="#ececec" stroke-width="1.00" />
<line x1="223.5" y1="541.9" x2="211.1" y2="552.2" stroke="#ececec" stroke-width="1.00" />
<line x1="226.6" y1="543.9" x2="214.3" y2="554.3" stroke="#ececec" stroke-width="1.00" />
<line x1="229.8" y1="546.0" x2="217.4" y2="556.3" stroke="#ececec" stroke-width="1.00" />
<line x1="233.0" y1="548.0" x2="220.6" y2="558.4" stroke="#ececec" stroke-width="1.00" />
<line x1="236.2" y1="550.0" x2="223.8" y2="560.4" stroke="#ececec" stroke-width="1.00" />
<line x1="239.3" y1="552.1" x2="227.0" y2="562.4" stroke="#ececec" stroke-width="1.00" />
<line x1="242.5" y1="554.1" x2="230.2" y2="564.5" stroke="#ececec" stroke-width="1.00" />
<line x1="245.7" y1="556.1" x2="233.4" y2="566.5" stroke="#ececec" stroke-width="1.00" />
<line x1="248.9" y1="558.2" x2="236.6" y2="568.6" stroke="#ececec" stroke-width="1.00" />
<line x1="252.1" y1="560.2" x2="239.8" y2="570.6" stroke="#ececec" stroke-width="1.00" />
<line x1="255.3" y1="562.2" x2="243.0" y2="572.7" stroke="#ececec" stroke-width="1.00" />
<line x1="258.5" y1="564.3" x2="246.2" y2="574.7" stroke="#ececec" stroke-width="1.00" />
<line x1="261.7" y1="566.3" x2="249.4" y2="576.8" stroke="#ececec" stroke-width="1.00" />
<line x1="264.9" y1="568.4" x2="252.6" y2="578.9" stroke="#ececec" stroke-width="1.00" />
<line x1="268.1" y1="570.4" x2="255.8" y2="580.9" stroke="#ececec" stroke-width="1.00" />
<line x1="271.3" y1="572.5" x2="259.0" y2="583.0" stroke="#ececec" stroke-width="1.00" />
<line x1="274.6" y1="574.5" x2="262.2" y2="585.1" stroke="#ececec" stroke-width="1.00" />
<line x1="277.8" y1="576.6" x2="265.5" y2="587.1" stroke="#ececec" stroke-width="1.00" />
<line x1="281.0" y1="578.7" x2="268.7" y2="589.2" stroke="#ececec" stroke-width="1.00" />
<line x1="284.2" y1="580.7" x2="271.9" y2="591.3" stroke="#ececec" stroke-width="1.00" />
<line x1="287.5" y1="582.8" x2="275.2" y2="593.4" stroke="#ececec" stroke-width="1.00" />
<line x1="290.7" y1="584.9" x2="278.4" y2="595.4" stroke="#ececec" stroke-width="1.00" />
<line x1="293.9" y1="586.9" x2="281.6" y2="597.5" stroke="#ececec" stroke-width="1.00" />
<line x1="297.2" y1="589.0" x2="284.9" y2="599.6" stroke="#ececec" stroke-width="1.00" />
<line x1="300.4" y1="591.1" x2="288.1" y2="601.7" stroke="#ececec" stroke-width="1.00" />
<line x1="313.4" y1="599.4" x2="301.2" y2="610.1" stroke="#ececec" stroke-width="1.00" />
<line x1="316.7" y1="601.5" x2="304.4" y2="612.2" stroke="#ececec" stroke-width="1.00" />
<line x1="320.0" y1="603.6" x2="307.7" y2="614.3" stroke="#ececec" stroke-width="1.00" />
<line x1="323.2" y1="605.6" x2="311.0" y2="616.4" stroke="#ececec" stroke-width="1.00" />
<polygon points="214.5,537.8 331.9,612.8 331.9,602.3 214.5,527.3" fill="#545456" />
<polygon points="331.9,612.8 367.6,585.8 367.6,575.3 331.9,602.3" fill="#4a4a4c" />
<polygon points="214.5,527.3 250.5,501.5 367.6,575.3 331.9,602.3" fill="#707072" />
<line x1="219.1" y1="532.3" x2="219.1" y2="537.8" stroke="#c4a548" stroke-width="0.90" />
<line x1="222.3" y1="534.3" x2="222.3" y2="539.8" stroke="#c4a548" stroke-width="0.90" />
<line x1="225.5" y1="536.3" x2="225.5" y2="541.8" stroke="#c4a548" stroke-width="0.90" />
<line x1="228.6" y1="538.3" x2="228.6" y2="543.8" stroke="#c4a548" stroke-width="0.90" />
<line x1="231.8" y1="540.4" x2="231.8" y2="545.9" stroke="#c4a548" stroke-width="0.90" />
<line x1="235.0" y1="542.4" x2="235.0" y2="547.9" stroke="#c4a548" stroke-width="0.90" />
<line x1="238.2" y1="544.4" x2="238.2" y2="549.9" stroke="#c4a548" stroke-width="0.90" />
<line x1="241.3" y1="546.5" x2="241.3" y2="552.0" stroke="#c4a548" stroke-width="0.90" />
<line x1="244.5" y1="548.5" x2="244.5" y2="554.0" stroke="#c4a548" stroke-width="0.90" />
<line x1="247.7" y1="550.5" x2="247.7" y2="556.0" stroke="#c4a548" stroke-width="0.90" />
<line x1="250.9" y1="552.6" x2="250.9" y2="558.1" stroke="#c4a548" stroke-width="0.90" />
<line x1="254.1" y1="554.6" x2="254.1" y2="560.1" stroke="#c4a548" stroke-width="0.90" />
<line x1="257.3" y1="556.7" x2="257.3" y2="562.2" stroke="#c4a548" stroke-width="0.90" />
<line x1="260.5" y1="558.7" x2="260.5" y2="564.2" stroke="#c4a548" stroke-width="0.90" />
<line x1="263.7" y1="560.8" x2="263.7" y2="566.3" stroke="#c4a548" stroke-width="0.90" />
<line x1="266.9" y1="562.8" x2="266.9" y2="568.3" stroke="#c4a548" stroke-width="0.90" />
<line x1="270.2" y1="564.9" x2="270.2" y2="570.4" stroke="#c4a548" stroke-width="0.90" />
<line x1="273.4" y1="566.9" x2="273.4" y2="572.4" stroke="#c4a548" stroke-width="0.90" />
<line x1="276.6" y1="569.0" x2="276.6" y2="574.5" stroke="#c4a548" stroke-width="0.90" />
<line x1="279.8" y1="571.0" x2="279.8" y2="576.5" stroke="#c4a548" stroke-width="0.90" />
<line x1="283.1" y1="573.1" x2="283.1" y2="578.6" stroke="#c4a548" stroke-width="0.90" />
<line x1="286.3" y1="575.2" x2="286.3" y2="580.7" stroke="#c4a548" stroke-width="0.90" />
<line x1="289.5" y1="577.2" x2="289.5" y2="582.7" stroke="#c4a548" stroke-width="0.90" />
<line x1="292.8" y1="579.3" x2="292.8" y2="584.8" stroke="#c4a548" stroke-width="0.90" />
<line x1="296.0" y1="581.4" x2="296.0" y2="586.9" stroke="#c4a548" stroke-width="0.90" />
<line x1="299.2" y1="583.5" x2="299.2" y2="589.0" stroke="#c4a548" stroke-width="0.90" />
<line x1="312.3" y1="591.8" x2="312.3" y2="597.3" stroke="#c4a548" stroke-width="0.90" />
<line x1="315.5" y1="593.9" x2="315.5" y2="599.4" stroke="#c4a548" stroke-width="0.90" />
<line x1="318.8" y1="595.9" x2="318.8" y2="601.4" stroke="#c4a548" stroke-width="0.90" />
<line x1="322.1" y1="598.0" x2="322.1" y2="603.5" stroke="#c4a548" stroke-width="0.90" />
<polygon points="302.4,594.0 310.3,599.0 310.3,590.0 302.4,585.0" fill="#3c3c3e" />
<polygon points="246.8,516.6 260.9,506.4 360.3,569.1 346.3,579.7" fill="#3a3a3c" />
<polygon points="246.8,516.6 346.3,579.7 346.3,582.7 246.8,519.6" fill="#5d5d5f" />
<line x1="251.6" y1="520.2" x2="262.2" y2="512.6" stroke="#e4cb3f" stroke-width="1.30" />
<line x1="254.8" y1="522.2" x2="265.3" y2="514.6" stroke="#e4cb3f" stroke-width="1.30" />
<line x1="257.9" y1="524.2" x2="268.5" y2="516.6" stroke="#e4cb3f" stroke-width="1.30" />
<line x1="261.1" y1="526.2" x2="271.7" y2="518.6" stroke="#e4cb3f" stroke-width="1.30" />
<line x1="264.3" y1="528.3" x2="274.8" y2="520.6" stroke="#e4cb3f" stroke-width="1.30" />
<line x1="267.5" y1="530.3" x2="278.0" y2="522.6" stroke="#e4cb3f" stroke-width="1.30" />
<line x1="270.7" y1="532.3" x2="281.2" y2="524.6" stroke="#e4cb3f" stroke-width="1.30" />
<line x1="273.8" y1="534.3" x2="284.4" y2="526.6" stroke="#e4cb3f" stroke-width="1.30" />
<line x1="277.0" y1="536.3" x2="287.6" y2="528.6" stroke="#e4cb3f" stroke-width="1.30" />
<line x1="280.2" y1="538.4" x2="290.8" y2="530.7" stroke="#e4cb3f" stroke-width="1.30" />
<line x1="283.4" y1="540.4" x2="294.0" y2="532.7" stroke="#e4cb3f" stroke-width="1.30" />
<line x1="286.6" y1="542.4" x2="297.2" y2="534.7" stroke="#e4cb3f" stroke-width="1.30" />
<line x1="289.8" y1="544.4" x2="300.4" y2="536.7" stroke="#e4cb3f" stroke-width="1.30" />
<line x1="293.0" y1="546.5" x2="303.6" y2="538.7" stroke="#e4cb3f" stroke-width="1.30" />
<line x1="296.3" y1="548.5" x2="306.8" y2="540.8" stroke="#e4cb3f" stroke-width="1.30" />
<line x1="299.5" y1="550.5" x2="310.0" y2="542.8" stroke="#e4cb3f" stroke-width="1.30" />
<line x1="302.7" y1="552.6" x2="313.2" y2="544.8" stroke="#e4cb3f" stroke-width="1.30" />
<line x1="305.9" y1="554.6" x2="316.4" y2="546.9" stroke="#e4cb3f" stroke-width="1.30" />
<line x1="309.1" y1="556.7" x2="319.6" y2="548.9" stroke="#e4cb3f" stroke-width="1.30" />
<line x1="312.4" y1="558.7" x2="322.9" y2="550.9" stroke="#e4cb3f" stroke-width="1.30" />
<line x1="315.6" y1="560.8" x2="326.1" y2="553.0" stroke="#e4cb3f" stroke-width="1.30" />
<line x1="318.8" y1="562.8" x2="329.3" y2="555.0" stroke="#e4cb3f" stroke-width="1.30" />
<line x1="322.1" y1="564.9" x2="332.6" y2="557.0" stroke="#e4cb3f" stroke-width="1.30" />
<line x1="325.3" y1="566.9" x2="335.8" y2="559.1" stroke="#e4cb3f" stroke-width="1.30" />
<line x1="338.3" y1="575.1" x2="348.8" y2="567.3" stroke="#e4cb3f" stroke-width="1.30" />
<line x1="341.6" y1="577.2" x2="352.1" y2="569.3" stroke="#e4cb3f" stroke-width="1.30" />
<polygon points="325.3,566.3 335.3,558.9 343.1,563.9 333.2,571.3" fill="#69696b" />
<polygon points="335.3,561.9 339.3,558.9 347.2,563.9 343.1,566.9" fill="#2c2c2e" />
<line x1="347.4" y1="621.1" x2="335.2" y2="631.9" stroke="#ececec" stroke-width="1.00" />
<line x1="350.7" y1="623.2" x2="338.5" y2="634.0" stroke="#ececec" stroke-width="1.00" />
<line x1="354.0" y1="625.3" x2="341.8" y2="636.1" stroke="#ececec" stroke-width="1.00" />
<line x1="357.3" y1="627.4" x2="345.1" y2="638.2" stroke="#ececec" stroke-width="1.00" />
<line x1="360.6" y1="629.5" x2="348.4" y2="640.4" stroke="#ececec" stroke-width="1.00" />
<line x1="373.9" y1="638.0" x2="361.7" y2="648.9" stroke="#ececec" stroke-width="1.00" />
<line x1="377.2" y1="640.1" x2="365.0" y2="651.0" stroke="#ececec" stroke-width="1.00" />
<line x1="380.6" y1="642.3" x2="368.4" y2="653.2" stroke="#ececec" stroke-width="1.00" />
<line x1="383.9" y1="644.4" x2="371.7" y2="655.3" stroke="#ececec" stroke-width="1.00" />
<line x1="387.2" y1="646.5" x2="375.1" y2="657.5" stroke="#ececec" stroke-width="1.00" />
<line x1="390.6" y1="648.7" x2="378.4" y2="659.6" stroke="#ececec" stroke-width="1.00" />
<line x1="393.9" y1="650.8" x2="381.8" y2="661.8" stroke="#ececec" stroke-width="1.00" />
<line x1="397.3" y1="652.9" x2="385.1" y2="663.9" stroke="#ececec" stroke-width="1.00" />
<line x1="400.6" y1="655.1" x2="388.5" y2="666.1" stroke="#ececec" stroke-width="1.00" />
<line x1="404.0" y1="657.2" x2="391.8" y2="668.2" stroke="#ececec" stroke-width="1.00" />
<line x1="407.3" y1="659.4" x2="395.2" y2="670.4" stroke="#ececec" stroke-width="1.00" />
<line x1="410.7" y1="661.5" x2="398.6" y2="672.6" stroke="#ececec" stroke-width="1.00" />
<line x1="414.1" y1="663.7" x2="401.9" y2="674.7" stroke="#ececec" stroke-width="1.00" />
<line x1="417.4" y1="665.8" x2="405.3" y2="676.9" stroke="#ececec" stroke-width="1.00" />
<line x1="420.8" y1="668.0" x2="408.7" y2="679.1" stroke="#ececec" stroke-width="1.00" />
<line x1="424.2" y1="670.1" x2="412.1" y2="681.2" stroke="#ececec" stroke-width="1.00" />
<line x1="427.6" y1="672.3" x2="415.5" y2="683.4" stroke="#ececec" stroke-width="1.00" />
<line x1="431.0" y1="674.5" x2="418.8" y2="685.6" stroke="#ececec" stroke-width="1.00" />
<line x1="434.4" y1="676.6" x2="422.2" y2="687.8" stroke="#ececec" stroke-width="1.00" />
<line x1="437.8" y1="678.8" x2="425.6" y2="689.9" stroke="#ececec" stroke-width="1.00" />
<line x1="441.1" y1="681.0" x2="429.0" y2="692.1" stroke="#ececec" stroke-width="1.00" />
<line x1="444.6" y1="683.1" x2="432.4" y2="694.3" stroke="#ececec" stroke-width="1.00" />
<line x1="448.0" y1="685.3" x2="435.9" y2="696.5" stroke="#ececec" stroke-width="1.00" />
<line x1="451.4" y1="687.5" x2="439.3" y2="698.7" stroke="#ececec" stroke-width="1.00" />
<line x1="454.8" y1="689.7" x2="442.7" y2="700.9" stroke="#ececec" stroke-width="1.00" />
<line x1="458.2" y1="691.9" x2="446.1" y2="703.1" stroke="#ececec" stroke-width="1.00" />
<polygon points="341.4,618.9 466.1,698.6 466.1,688.1 341.4,608.4" fill="#545456" />
<polygon points="466.1,698.6 501.4,670.3 501.4,659.8 466.1,688.1" fill="#4a4a4c" />
<polygon points="341.4,608.4 377.1,581.3 501.4,659.8 466.1,688.1" fill="#707072" />
<line x1="346.2" y1="613.5" x2="346.2" y2="619.0" stroke="#c4a548" stroke-width="0.90" />
<line x1="349.5" y1="615.6" x2="349.5" y2="621.1" stroke="#c4a548" stroke-width="0.90" />
<line x1="352.8" y1="617.7" x2="352.8" y2="623.2" stroke="#c4a548" stroke-width="0.90" />
<line x1="356.1" y1="619.8" x2="356.1" y2="625.3" stroke="#c4a548" stroke-width="0.90" />
<line x1="359.4" y1="621.9" x2="359.4" y2="627.4" stroke="#c4a548" stroke-width="0.90" />
<line x1="372.7" y1="630.4" x2="372.7" y2="635.9" stroke="#c4a548" stroke-width="0.90" />
<line x1="376.1" y1="632.5" x2="376.1" y2="638.0" stroke="#c4a548" stroke-width="0.90" />
<line x1="379.4" y1="634.7" x2="379.4" y2="640.2" stroke="#c4a548" stroke-width="0.90" />
<line x1="382.7" y1="636.8" x2="382.7" y2="642.3" stroke="#c4a548" stroke-width="0.90" />
<line x1="386.1" y1="638.9" x2="386.1" y2="644.4" stroke="#c4a548" stroke-width="0.90" />
<line x1="389.4" y1="641.1" x2="389.4" y2="646.6" stroke="#c4a548" stroke-width="0.90" />
<line x1="392.7" y1="643.2" x2="392.7" y2="648.7" stroke="#c4a548" stroke-width="0.90" />
<line x1="396.1" y1="645.3" x2="396.1" y2="650.8" stroke="#c4a548" stroke-width="0.90" />
<line x1="399.5" y1="647.5" x2="399.5" y2="653.0" stroke="#c4a548" stroke-width="0.90" />
<line x1="402.8" y1="649.6" x2="402.8" y2="655.1" stroke="#c4a548" stroke-width="0.90" />
<line x1="406.2" y1="651.8" x2="406.2" y2="657.3" stroke="#c4a548" stroke-width="0.90" />
<line x1="409.5" y1="653.9" x2="409.5" y2="659.4" stroke="#c4a548" stroke-width="0.90" />
<line x1="412.9" y1="656.1" x2="412.9" y2="661.6" stroke="#c4a548" stroke-width="0.90" />
<line x1="416.3" y1="658.2" x2="416.3" y2="663.7" stroke="#c4a548" stroke-width="0.90" />
<line x1="419.6" y1="660.4" x2="419.6" y2="665.9" stroke="#c4a548" stroke-width="0.90" />
<line x1="423.0" y1="662.6" x2="423.0" y2="668.1" stroke="#c4a548" stroke-width="0.90" />
<line x1="426.4" y1="664.7" x2="426.4" y2="670.2" stroke="#c4a548" stroke-width="0.90" />
<line x1="429.8" y1="666.9" x2="429.8" y2="672.4" stroke="#c4a548" stroke-width="0.90" />
<line x1="433.2" y1="669.1" x2="433.2" y2="674.6" stroke="#c4a548" stroke-width="0.90" />
<line x1="436.6" y1="671.2" x2="436.6" y2="676.7" stroke="#c4a548" stroke-width="0.90" />
<line x1="440.0" y1="673.4" x2="440.0" y2="678.9" stroke="#c4a548" stroke-width="0.90" />
<line x1="443.4" y1="675.6" x2="443.4" y2="681.1" stroke="#c4a548" stroke-width="0.90" />
<line x1="446.8" y1="677.7" x2="446.8" y2="683.2" stroke="#c4a548" stroke-width="0.90" />
<line x1="450.2" y1="679.9" x2="450.2" y2="685.4" stroke="#c4a548" stroke-width="0.90" />
<line x1="453.6" y1="682.1" x2="453.6" y2="687.6" stroke="#c4a548" stroke-width="0.90" />
<line x1="457.0" y1="684.3" x2="457.0" y2="689.8" stroke="#c4a548" stroke-width="0.90" />
<polygon points="362.8,632.5 370.8,637.7 370.8,628.7 362.8,623.5" fill="#3c3c3e" />
<polygon points="373.9,597.1 387.8,586.5 493.7,653.3 479.9,664.3" fill="#3a3a3c" />
<polygon points="373.9,597.1 479.9,664.3 479.9,667.3 373.9,600.1" fill="#5d5d5f" />
<line x1="378.8" y1="600.8" x2="389.3" y2="592.8" stroke="#e4cb3f" stroke-width="1.30" />
<line x1="382.1" y1="602.9" x2="392.6" y2="594.9" stroke="#e4cb3f" stroke-width="1.30" />
<line x1="385.4" y1="605.0" x2="395.9" y2="597.0" stroke="#e4cb3f" stroke-width="1.30" />
<line x1="398.7" y1="613.4" x2="409.1" y2="605.4" stroke="#e4cb3f" stroke-width="1.30" />
<line x1="402.0" y1="615.5" x2="412.4" y2="607.5" stroke="#e4cb3f" stroke-width="1.30" />
<line x1="405.3" y1="617.6" x2="415.8" y2="609.6" stroke="#e4cb3f" stroke-width="1.30" />
<line x1="408.7" y1="619.7" x2="419.1" y2="611.7" stroke="#e4cb3f" stroke-width="1.30" />
<line x1="412.0" y1="621.8" x2="422.4" y2="613.8" stroke="#e4cb3f" stroke-width="1.30" />
<line x1="415.3" y1="623.9" x2="425.8" y2="615.9" stroke="#e4cb3f" stroke-width="1.30" />
<line x1="418.7" y1="626.1" x2="429.1" y2="618.0" stroke="#e4cb3f" stroke-width="1.30" />
<line x1="422.0" y1="628.2" x2="432.4" y2="620.1" stroke="#e4cb3f" stroke-width="1.30" />
<line x1="425.4" y1="630.3" x2="435.8" y2="622.2" stroke="#e4cb3f" stroke-width="1.30" />
<line x1="428.7" y1="632.4" x2="439.1" y2="624.3" stroke="#e4cb3f" stroke-width="1.30" />
<line x1="432.1" y1="634.5" x2="442.5" y2="626.4" stroke="#e4cb3f" stroke-width="1.30" />
<line x1="435.4" y1="636.7" x2="445.8" y2="628.5" stroke="#e4cb3f" stroke-width="1.30" />
<line x1="438.8" y1="638.8" x2="449.2" y2="630.7" stroke="#e4cb3f" stroke-width="1.30" />
<line x1="442.2" y1="640.9" x2="452.6" y2="632.8" stroke="#e4cb3f" stroke-width="1.30" />
<line x1="445.5" y1="643.1" x2="455.9" y2="634.9" stroke="#e4cb3f" stroke-width="1.30" />
<line x1="448.9" y1="645.2" x2="459.3" y2="637.0" stroke="#e4cb3f" stroke-width="1.30" />
<line x1="452.3" y1="647.4" x2="462.7" y2="639.2" stroke="#e4cb3f" stroke-width="1.30" />
<line x1="455.7" y1="649.5" x2="466.1" y2="641.3" stroke="#e4cb3f" stroke-width="1.30" />
<line x1="459.1" y1="651.6" x2="469.4" y2="643.4" stroke="#e4cb3f" stroke-width="1.30" />
<line x1="462.4" y1="653.8" x2="472.8" y2="645.6" stroke="#e4cb3f" stroke-width="1.30" />
<line x1="465.8" y1="655.9" x2="476.2" y2="647.7" stroke="#e4cb3f" stroke-width="1.30" />
<line x1="469.2" y1="658.1" x2="479.6" y2="649.8" stroke="#e4cb3f" stroke-width="1.30" />
<line x1="472.6" y1="660.2" x2="483.0" y2="652.0" stroke="#e4cb3f" stroke-width="1.30" />
<line x1="476.0" y1="662.4" x2="486.4" y2="654.1" stroke="#e4cb3f" stroke-width="1.30" />
<polygon points="385.6,604.5 395.5,597.0 403.5,602.0 393.6,609.6" fill="#69696b" />
<polygon points="395.5,600.0 399.5,596.9 407.5,601.9 403.5,605.0" fill="#2c2c2e" />
<polygon points="212.7,566.3 219.3,561.6 223.4,564.2 216.8,569.0" fill="#f4f4f4" />
<polygon points="222.6,572.7 229.2,567.9 233.3,570.6 226.7,575.4" fill="#f4f4f4" />
<polygon points="232.6,579.2 239.1,574.3 243.3,577.0 236.7,581.8" fill="#f4f4f4" />
<polygon points="242.6,585.6 249.1,580.8 253.3,583.4 246.7,588.3" fill="#f4f4f4" />
<polygon points="252.6,592.0 259.2,587.2 263.3,589.9 256.7,594.7" fill="#f4f4f4" />
<polygon points="262.6,598.5 269.2,593.7 273.4,596.3 266.8,601.2" fill="#f4f4f4" />
<polygon points="272.7,605.0 279.3,600.1 283.5,602.8 276.9,607.7" fill="#f4f4f4" />
<polygon points="282.9,611.5 289.4,606.6 293.6,609.3 287.1,614.2" fill="#f4f4f4" />
<polygon points="293.0,618.1 299.6,613.2 303.8,615.9 297.2,620.8" fill="#f4f4f4" />
<polygon points="303.2,624.6 309.8,619.7 314.0,622.4 307.4,627.4" fill="#f4f4f4" />
<polygon points="313.4,631.2 320.0,626.3 324.2,629.0 317.7,634.0" fill="#f4f4f4" />
<polygon points="323.7,637.8 330.2,632.9 334.5,635.6 328.0,640.6" fill="#f4f4f4" />
<polygon points="334.0,644.5 340.5,639.5 344.8,642.2 338.3,647.2" fill="#f4f4f4" />
<polygon points="344.3,651.1 350.9,646.1 355.1,648.9 348.6,653.9" fill="#f4f4f4" />
<polygon points="354.7,657.8 361.2,652.8 365.5,655.5 359.0,660.6" fill="#f4f4f4" />
<polygon points="365.1,664.5 371.6,659.5 375.9,662.2 369.4,667.3" fill="#f4f4f4" />
<polygon points="375.5,671.2 382.0,666.2 386.4,668.9 379.9,674.0" fill="#f4f4f4" />
<polygon points="386.0,678.0 392.5,672.9 396.9,675.7 390.3,680.8" fill="#f4f4f4" />
<polygon points="396.5,684.7 403.0,679.6 407.4,682.4 400.9,687.5" fill="#f4f4f4" />
<polygon points="407.0,691.5 413.5,686.4 417.9,689.2 411.4,694.3" fill="#f4f4f4" />
<polygon points="417.6,698.3 424.1,693.2 428.5,696.0 422.0,701.2" fill="#f4f4f4" />
<polygon points="406.4,762.5 450.9,722.7 450.9,710.7 406.4,746.5" fill="#48484a" />
<polygon points="162.5,596.1 383.1,740.5 383.1,737.3 162.5,592.9" fill="#48484a" />
<polygon points="162.5,592.9 185.9,576.0 406.2,718.9 383.1,737.3" fill="#636365" />
<polygon points="185.9,576.0 406.2,718.9 406.2,712.9 185.9,570.0" fill="#69696b" />
<polygon points="162.5,592.9 185.9,576.0 185.9,570.0 162.5,586.9" fill="#4f4f51" />
<polygon points="168.2,593.1 167.7,595.0 169.0,595.8 171.6,595.4 175.0,594.8 184.5,588.0 185.0,585.8 195.9,577.9 192.3,575.6 181.4,583.5 178.3,583.9 168.9,590.8" fill="#f5e14f" />
<polygon points="177.7,599.3 177.2,601.2 178.4,602.0 181.1,601.5 184.5,601.0 193.9,594.1 194.5,591.9 205.4,584.0 201.8,581.7 190.8,589.6 187.7,590.1 178.3,596.9" fill="#f5e14f" />
<polygon points="187.1,605.5 186.6,607.4 187.9,608.2 190.5,607.7 193.9,607.2 203.4,600.3 203.9,598.1 214.8,590.1 211.2,587.8 200.3,595.7 197.2,596.2 187.7,603.1" fill="#f5e14f" />
<polygon points="196.6,611.7 196.1,613.6 197.4,614.4 200.0,613.9 203.4,613.4 212.9,606.4 213.4,604.3 224.3,596.3 220.7,593.9 209.8,601.9 206.6,602.4 197.2,609.3" fill="#f5e14f" />
<polygon points="206.1,617.9 205.6,619.8 206.9,620.6 209.6,620.2 213.0,619.6 222.4,612.6 222.9,610.5 233.8,602.4 230.2,600.1 219.3,608.1 216.2,608.6 206.7,615.5" fill="#f5e14f" />
<polygon points="215.7,624.2 215.2,626.0 216.4,626.9 219.1,626.4 222.5,625.8 232.0,618.9 232.5,616.7 243.4,608.6 239.7,606.3 228.8,614.3 225.7,614.8 216.3,621.7" fill="#f5e14f" />
<polygon points="224.3,629.1 247.6,611.8 251.1,614.0 227.7,631.4" fill="#f5e14f" />
<polygon points="229.2,632.3 252.6,615.0 256.0,617.3 232.7,634.6" fill="#f5e14f" />
<polygon points="234.2,635.6 257.6,618.2 261.0,620.5 237.7,637.9" fill="#f5e14f" />
<polygon points="239.2,638.9 262.5,621.5 266.0,623.7 242.7,641.1" fill="#f5e14f" />
<polygon points="244.2,642.1 267.5,624.7 271.0,627.0 247.7,644.4" fill="#f5e14f" />
<polygon points="249.3,645.4 272.6,628.0 276.0,630.2 252.7,647.7" fill="#f5e14f" />
<polygon points="254.3,648.7 277.6,631.2 281.1,633.5 257.8,651.0" fill="#f5e14f" />
<polygon points="257.0,654.7 262.4,650.6 263.8,651.5 258.3,655.6" fill="#3e3e40" />
<polygon points="264.1,655.8 263.7,657.8 264.9,658.6 267.6,658.1 271.1,657.5 280.5,650.4 280.9,648.2 291.8,640.0 288.1,637.6 277.2,645.8 274.1,646.3 264.7,653.4" fill="#f5e14f" />
<polygon points="274.2,662.4 273.8,664.4 275.0,665.2 277.7,664.7 281.2,664.2 290.6,657.0 291.1,654.8 301.9,646.6 298.2,644.1 287.3,652.4 284.2,652.9 274.8,660.0" fill="#f5e14f" />
<polygon points="284.4,669.1 283.9,671.0 285.2,671.8 287.9,671.4 291.3,670.8 300.7,663.6 301.2,661.4 312.0,653.1 308.3,650.7 297.5,659.0 294.3,659.5 284.9,666.6" fill="#f5e14f" />
<polygon points="294.5,675.7 294.1,677.7 295.4,678.5 298.1,678.0 301.5,677.4 310.9,670.3 311.4,668.0 322.2,659.7 318.4,657.3 307.6,665.6 304.5,666.1 295.1,673.2" fill="#f5e14f" />
<polygon points="304.8,682.4 304.3,684.3 305.6,685.2 308.3,684.7 311.8,684.1 321.1,676.9 321.6,674.6 332.4,666.3 328.6,663.9 317.8,672.2 314.7,672.7 305.3,679.9" fill="#f5e14f" />
<polygon points="315.0,689.1 314.6,691.0 315.8,691.9 318.6,691.4 322.0,690.8 331.4,683.6 331.8,681.3 342.6,673.0 338.9,670.5 328.1,678.9 324.9,679.4 315.5,686.6" fill="#f5e14f" />
<polygon points="325.3,695.8 324.8,697.8 326.1,698.6 328.8,698.1 332.3,697.5 341.7,690.3 342.1,688.0 352.9,679.6 349.1,677.2 338.3,685.5 335.2,686.1 325.8,693.3" fill="#f5e14f" />
<polygon points="335.6,702.5 335.1,704.5 336.5,705.4 339.2,704.9 342.6,704.3 352.0,697.0 352.4,694.7 363.2,686.3 359.4,683.8 348.6,692.2 345.5,692.8 336.1,700.0" fill="#f5e14f" />
<polygon points="345.9,709.3 345.5,711.3 346.8,712.1 349.5,711.7 353.0,711.1 362.3,703.7 362.8,701.4 373.6,693.0 369.7,690.5 359.0,699.0 355.8,699.5 346.4,706.8" fill="#f5e14f" />
<polygon points="356.3,716.1 355.9,718.1 357.2,718.9 359.9,718.4 363.4,717.8 372.7,710.5 373.2,708.2 383.9,699.7 380.1,697.2 369.3,705.7 366.2,706.2 356.8,713.6" fill="#f5e14f" />
<polygon points="366.7,722.9 366.3,724.9 367.6,725.7 370.3,725.3 373.8,724.7 383.1,717.3 383.6,715.0 394.3,706.5 390.5,704.0 379.7,712.5 376.6,713.0 367.2,720.4" fill="#f5e14f" />
<polygon points="377.2,729.7 376.8,731.7 378.1,732.6 380.8,732.1 384.3,731.5 393.6,724.1 394.0,721.8 404.8,713.2 400.9,710.7 390.2,719.3 387.0,719.8 377.7,727.2" fill="#f5e14f" />
<polygon points="142.2,573.7 187.6,541.2 211.3,556.5 203.5,562.2 417.2,700.1 424.9,694.0 450.9,710.7 406.4,746.5 383.1,731.3 406.2,712.9 185.9,570.0 162.5,586.9" fill="#7f7f81" />
<polygon points="451.9,709.6 463.1,715.6 436.5,731 434.3,721.5" fill="#4c4c4e"/>
<polygon points="142.2,589.7 162.5,602.9 162.5,586.9 142.2,573.7" fill="#757577" />
<polygon points="383.1,747.3 406.4,762.5 406.4,746.5 383.1,731.3" fill="#757577" />
<polygon points="147.9,590.4 159.6,598.1 159.6,590.6 147.9,582.9" fill="#2b2b2d" />
<polygon points="413.5,738.3 431.9,723.1 437.5,725.5 437.5,735.1 423.1,749.5 415.1,746.3" fill="#d9d9db"/>
<polygon points="416.5,740.3 431.5,727.6 434.8,729.1 421.5,744.9" fill="#f4f4f4"/>
<polygon points="384.8,744.7 396,740.7 415.1,751.9 415.1,755.9 403.9,761 386.4,751.1" fill="#5f5f61"/>
<polygon points="384.8,744.7 396,740.7 401,743.8 390,748" fill="#4a4a4c"/>
<polygon points="203.5,562.2 211.3,556.5 211.3,563.5 203.5,569.2" fill="#454547" />
<polygon points="637.6,194.4 647.7,187.3 756.3,246.2 749.4,255.2" fill="#161618" />
<polygon points="774.2,268.6 784.1,261.2 835.6,289.1 828.9,298.4" fill="#161618" />
<polyline points="651.1,189.2 642.7,198.4" fill="none" stroke="#1a1a1c" stroke-width="4.2" stroke-linecap="butt" transform="translate(2.2 1.2)"/>
<polyline points="651.1,189.2 642.7,198.4 634.6,208.5" fill="none" stroke="#f4f4f4" stroke-width="2.9" stroke-linecap="round"/>
<polyline points="644.5,196.4 641.5,200.1" fill="none" stroke="#b9b9bb" stroke-width="2.7"/>
<polyline points="658.2,193.0 649.9,202.3" fill="none" stroke="#1a1a1c" stroke-width="4.2" stroke-linecap="butt" transform="translate(2.2 1.2)"/>
<polyline points="658.2,193.0 649.9,202.3 641.8,212.4" fill="none" stroke="#f4f4f4" stroke-width="2.9" stroke-linecap="round"/>
<polyline points="651.6,200.2 648.6,204.0" fill="none" stroke="#b9b9bb" stroke-width="2.7"/>
<polyline points="665.3,196.8 657.0,206.1" fill="none" stroke="#1a1a1c" stroke-width="4.2" stroke-linecap="butt" transform="translate(2.2 1.2)"/>
<polyline points="665.3,196.8 657.0,206.1 648.9,216.2" fill="none" stroke="#f4f4f4" stroke-width="2.9" stroke-linecap="round"/>
<polyline points="658.7,204.1 655.7,207.9" fill="none" stroke="#b9b9bb" stroke-width="2.7"/>
<polyline points="672.4,200.7 664.1,210.0" fill="none" stroke="#1a1a1c" stroke-width="4.2" stroke-linecap="butt" transform="translate(2.2 1.2)"/>
<polyline points="672.4,200.7 664.1,210.0 656.0,220.2" fill="none" stroke="#f4f4f4" stroke-width="2.9" stroke-linecap="round"/>
<polyline points="665.9,208.0 662.8,211.7" fill="none" stroke="#b9b9bb" stroke-width="2.7"/>
<polyline points="679.5,204.6 671.3,213.9" fill="none" stroke="#1a1a1c" stroke-width="4.2" stroke-linecap="butt" transform="translate(2.2 1.2)"/>
<polyline points="679.5,204.6 671.3,213.9 663.2,224.1" fill="none" stroke="#f4f4f4" stroke-width="2.9" stroke-linecap="round"/>
<polyline points="673.0,211.9 670.0,215.6" fill="none" stroke="#b9b9bb" stroke-width="2.7"/>
<polyline points="686.7,208.4 678.4,217.8" fill="none" stroke="#1a1a1c" stroke-width="4.2" stroke-linecap="butt" transform="translate(2.2 1.2)"/>
<polyline points="686.7,208.4 678.4,217.8 670.4,228.0" fill="none" stroke="#f4f4f4" stroke-width="2.9" stroke-linecap="round"/>
<polyline points="680.2,215.7 677.2,219.5" fill="none" stroke="#b9b9bb" stroke-width="2.7"/>
<polyline points="693.8,212.3 685.6,221.7" fill="none" stroke="#1a1a1c" stroke-width="4.2" stroke-linecap="butt" transform="translate(2.2 1.2)"/>
<polyline points="693.8,212.3 685.6,221.7 677.6,231.9" fill="none" stroke="#f4f4f4" stroke-width="2.9" stroke-linecap="round"/>
<polyline points="687.4,219.6 684.4,223.5" fill="none" stroke="#b9b9bb" stroke-width="2.7"/>
<polyline points="701.0,216.2 692.8,225.6" fill="none" stroke="#1a1a1c" stroke-width="4.2" stroke-linecap="butt" transform="translate(2.2 1.2)"/>
<polyline points="701.0,216.2 692.8,225.6 684.8,235.9" fill="none" stroke="#f4f4f4" stroke-width="2.9" stroke-linecap="round"/>
<polyline points="694.6,223.6 691.6,227.4" fill="none" stroke="#b9b9bb" stroke-width="2.7"/>
<polyline points="708.2,220.1 700.0,229.6" fill="none" stroke="#1a1a1c" stroke-width="4.2" stroke-linecap="butt" transform="translate(2.2 1.2)"/>
<polyline points="708.2,220.1 700.0,229.6 692.1,239.8" fill="none" stroke="#f4f4f4" stroke-width="2.9" stroke-linecap="round"/>
<polyline points="701.8,227.5 698.8,231.3" fill="none" stroke="#b9b9bb" stroke-width="2.7"/>
<polyline points="715.5,224.0 707.3,233.5" fill="none" stroke="#1a1a1c" stroke-width="4.2" stroke-linecap="butt" transform="translate(2.2 1.2)"/>
<polyline points="715.5,224.0 707.3,233.5 699.3,243.8" fill="none" stroke="#f4f4f4" stroke-width="2.9" stroke-linecap="round"/>
<polyline points="709.0,231.4 706.0,235.2" fill="none" stroke="#b9b9bb" stroke-width="2.7"/>
<polyline points="722.7,228.0 714.5,237.4" fill="none" stroke="#1a1a1c" stroke-width="4.2" stroke-linecap="butt" transform="translate(2.2 1.2)"/>
<polyline points="722.7,228.0 714.5,237.4 706.6,247.7" fill="none" stroke="#f4f4f4" stroke-width="2.9" stroke-linecap="round"/>
<polyline points="716.3,235.3 713.3,239.2" fill="none" stroke="#b9b9bb" stroke-width="2.7"/>
<polyline points="729.9,231.9 721.8,241.4" fill="none" stroke="#1a1a1c" stroke-width="4.2" stroke-linecap="butt" transform="translate(2.2 1.2)"/>
<polyline points="729.9,231.9 721.8,241.4 713.8,251.7" fill="none" stroke="#f4f4f4" stroke-width="2.9" stroke-linecap="round"/>
<polyline points="723.5,239.3 720.5,243.1" fill="none" stroke="#b9b9bb" stroke-width="2.7"/>
<polyline points="737.2,235.8 729.1,245.3" fill="none" stroke="#1a1a1c" stroke-width="4.2" stroke-linecap="butt" transform="translate(2.2 1.2)"/>
<polyline points="737.2,235.8 729.1,245.3 721.1,255.7" fill="none" stroke="#f4f4f4" stroke-width="2.9" stroke-linecap="round"/>
<polyline points="730.8,243.2 727.8,247.1" fill="none" stroke="#b9b9bb" stroke-width="2.7"/>
<polyline points="744.5,239.8 736.4,249.3" fill="none" stroke="#1a1a1c" stroke-width="4.2" stroke-linecap="butt" transform="translate(2.2 1.2)"/>
<polyline points="744.5,239.8 736.4,249.3 728.5,259.7" fill="none" stroke="#f4f4f4" stroke-width="2.9" stroke-linecap="round"/>
<polyline points="738.1,247.2 735.1,251.1" fill="none" stroke="#b9b9bb" stroke-width="2.7"/>
<polyline points="751.8,243.7 743.7,253.3" fill="none" stroke="#1a1a1c" stroke-width="4.2" stroke-linecap="butt" transform="translate(2.2 1.2)"/>
<polyline points="751.8,243.7 743.7,253.3 735.8,263.7" fill="none" stroke="#f4f4f4" stroke-width="2.9" stroke-linecap="round"/>
<polyline points="745.4,251.2 742.4,255.1" fill="none" stroke="#b9b9bb" stroke-width="2.7"/>
<polyline points="787.6,263.1 779.6,272.8" fill="none" stroke="#1a1a1c" stroke-width="4.2" stroke-linecap="butt" transform="translate(2.2 1.2)"/>
<polyline points="787.6,263.1 779.6,272.8 771.8,283.3" fill="none" stroke="#f4f4f4" stroke-width="2.9" stroke-linecap="round"/>
<polyline points="781.3,270.7 778.3,274.6" fill="none" stroke="#b9b9bb" stroke-width="2.7"/>
<polyline points="794.9,267.0 786.8,276.8" fill="none" stroke="#1a1a1c" stroke-width="4.2" stroke-linecap="butt" transform="translate(2.2 1.2)"/>
<polyline points="794.9,267.0 786.8,276.8 779.1,287.3" fill="none" stroke="#f4f4f4" stroke-width="2.9" stroke-linecap="round"/>
<polyline points="788.5,274.6 785.6,278.6" fill="none" stroke="#b9b9bb" stroke-width="2.7"/>
<polyline points="802.1,271.0 794.1,280.7" fill="none" stroke="#1a1a1c" stroke-width="4.2" stroke-linecap="butt" transform="translate(2.2 1.2)"/>
<polyline points="802.1,271.0 794.1,280.7 786.4,291.3" fill="none" stroke="#f4f4f4" stroke-width="2.9" stroke-linecap="round"/>
<polyline points="795.8,278.6 792.9,282.5" fill="none" stroke="#b9b9bb" stroke-width="2.7"/>
<polyline points="809.4,274.9 801.4,284.7" fill="none" stroke="#1a1a1c" stroke-width="4.2" stroke-linecap="butt" transform="translate(2.2 1.2)"/>
<polyline points="809.4,274.9 801.4,284.7 793.7,295.3" fill="none" stroke="#f4f4f4" stroke-width="2.9" stroke-linecap="round"/>
<polyline points="803.1,282.5 800.2,286.5" fill="none" stroke="#b9b9bb" stroke-width="2.7"/>
<polyline points="816.7,278.9 808.8,288.7" fill="none" stroke="#1a1a1c" stroke-width="4.2" stroke-linecap="butt" transform="translate(2.2 1.2)"/>
<polyline points="816.7,278.9 808.8,288.7 801.0,299.3" fill="none" stroke="#f4f4f4" stroke-width="2.9" stroke-linecap="round"/>
<polyline points="810.4,286.5 807.5,290.5" fill="none" stroke="#b9b9bb" stroke-width="2.7"/>
<polyline points="824.1,282.9 816.1,292.7" fill="none" stroke="#1a1a1c" stroke-width="4.2" stroke-linecap="butt" transform="translate(2.2 1.2)"/>
<polyline points="824.1,282.9 816.1,292.7 808.4,303.3" fill="none" stroke="#f4f4f4" stroke-width="2.9" stroke-linecap="round"/>
<polyline points="817.8,290.5 814.9,294.5" fill="none" stroke="#b9b9bb" stroke-width="2.7"/>
<polyline points="831.4,286.8 823.5,296.7" fill="none" stroke="#1a1a1c" stroke-width="4.2" stroke-linecap="butt" transform="translate(2.2 1.2)"/>
<polyline points="831.4,286.8 823.5,296.7 815.8,307.4" fill="none" stroke="#f4f4f4" stroke-width="2.9" stroke-linecap="round"/>
<polyline points="825.1,294.5 822.2,298.5" fill="none" stroke="#b9b9bb" stroke-width="2.7"/>
<polygon points="643.1,168.8 662.0,159.1 788.9,227.1 773.0,238.9" fill="#59595b" />
<polygon points="795.2,250.9 811.0,239.0 871.1,271.2 855.4,283.3" fill="#59595b" />
<polygon points="663.3,178.3 674.7,170.9 678.8,173.1 667.3,180.4" fill="#ecdc45" />
<polygon points="670.2,182.0 681.6,174.6 685.7,176.8 674.3,184.2" fill="#ecdc45" />
<polygon points="677.2,185.7 688.6,178.3 692.7,180.5 681.3,188.0" fill="#ecdc45" />
<polygon points="684.2,189.5 695.6,182.1 699.7,184.3 688.3,191.7" fill="#ecdc45" />
<polygon points="691.1,193.3 702.6,185.8 706.7,188.0 695.3,195.5" fill="#ecdc45" />
<polygon points="698.2,197.1 709.6,189.6 713.7,191.8 702.3,199.3" fill="#ecdc45" />
<polygon points="705.2,200.8 716.6,193.3 720.7,195.6 709.3,203.1" fill="#ecdc45" />
<polygon points="712.2,204.6 723.6,197.1 727.7,199.3 716.4,206.9" fill="#ecdc45" />
<polygon points="719.3,208.4 730.7,200.9 734.8,203.1 723.4,210.7" fill="#ecdc45" />
<polygon points="726.3,212.2 737.7,204.7 741.9,206.9 730.5,214.5" fill="#ecdc45" />
<polygon points="733.4,216.1 744.8,208.5 749.0,210.7 737.6,218.3" fill="#ecdc45" />
<polygon points="740.5,219.9 751.9,212.3 756.1,214.5 744.7,222.1" fill="#ecdc45" />
<polygon points="747.6,223.7 759.0,216.1 763.2,218.4 751.8,226.0" fill="#ecdc45" />
<polygon points="754.8,227.6 766.1,219.9 770.3,222.2 759.0,229.8" fill="#ecdc45" />
<polygon points="761.9,231.4 773.3,223.8 777.5,226.0 766.1,233.7" fill="#ecdc45" />
<polygon points="802.1,253.1 813.4,245.3 817.6,247.6 806.3,255.3" fill="#ecdc45" />
<polygon points="809.3,257.0 820.6,249.2 824.9,251.5 813.6,259.3" fill="#ecdc45" />
<polygon points="816.6,260.9 827.9,253.1 832.1,255.4 820.9,263.2" fill="#ecdc45" />
<polygon points="823.9,264.8 835.1,257.0 839.4,259.3 828.2,267.1" fill="#ecdc45" />
<polygon points="831.2,268.7 842.4,260.9 846.7,263.2 835.5,271.0" fill="#ecdc45" />
<polygon points="838.5,272.7 849.7,264.8 854.0,267.1 842.8,275.0" fill="#ecdc45" />
<polygon points="845.8,276.6 857.1,268.8 861.4,271.1 850.1,279.0" fill="#ecdc45" />
<polygon points="639.3,174.5 646.7,169.3 881.9,296.1 874.7,301.7" fill="#505052" />
<polygon points="630.7,180.5 639.3,174.5 874.7,301.7 866.3,308.2" fill="#414143" />
<polygon points="772.0,238.4 780.0,232.4 804.1,245.4 796.2,251.4" fill="#3c3c3e" />
<polygon points="797.4,244.0 807.3,235.0 814.5,236.9 814.5,242.3 809.1,246.8" fill="#444446" />
<polygon points="797.4,244.0 807.3,235.0 814.5,236.9 805.0,245.5" fill="#505052" />
<polygon points="770.0,237.0 781.0,229.0 788.0,232.0 777.0,240.5" fill="#2a2a2c" />
<polygon points="651.7,149.2 665.5,155.8 665.2,160.6 658.3,164.2 649.3,169.0 648.7,187.6 632.5,207.9 617.6,206.7 609.8,201.9 609.2,193.0 623.5,169.6 633.1,161.8" fill="#444446" stroke="#444446" stroke-width="1.5" stroke-linejoin="round"/>
<polygon points="651.7,149.2 665.5,155.8 649.3,168.4 648.1,186.4 632.0,199.5 616.4,197.1 609.8,192.9 623.5,169.6 633.1,161.8" fill="#5c5c5e" stroke="#5c5c5e" stroke-width="1.2" stroke-linejoin="round"/>
<polygon points="650.5,170.0 659.0,165.0 666.5,168.5 665.0,173.0 658.0,171.2" fill="#323234" />
<polygon points="742.6,272.0 753.4,250.4 767.8,243.2 784.0,252.2 782.2,263.0 769.6,279.1 757.0,283.6" fill="#444446" stroke="#444446" stroke-width="2" stroke-linejoin="round"/>
<polygon points="745.0,265.0 753.4,250.4 767.8,243.2 784.0,252.2 774.0,264.0 764.0,273.0 752.0,273.5" fill="#5c5c5e" stroke="#5c5c5e" stroke-width="1.5" stroke-linejoin="round"/>
<polygon points="863.0,272.0 873.9,265.6 888.3,273.7 888.3,282.7 894.6,286.3 894.6,295.3 873.9,305.2 872.0,302.5 855.9,309.7 836.1,318.7 819.9,315.1 817.5,309.0 826.0,292.0 846.0,284.0" fill="#444446" stroke="#444446" stroke-width="2" stroke-linejoin="round"/>
<polygon points="863.0,272.0 873.9,265.6 888.3,273.7 872.0,283.0 858.0,290.0 850.0,303.0 836.0,309.5 822.0,306.5 819.5,302.0 827.0,290.0 846.0,282.0" fill="#5c5c5e" stroke="#5c5c5e" stroke-width="1.5" stroke-linejoin="round"/>
<ellipse cx="685.7" cy="270.0" rx="15" ry="10" fill="#77777a"/>
<ellipse cx="685.7" cy="267.5" rx="15" ry="10" fill="#e4e4e6"/>
<ellipse cx="685.7" cy="266.5" rx="11.8" ry="7.8" fill="#9d9da0"/>
<rect x="673.9" y="261.0" width="23.6" height="5.5" fill="#b4b4b7"/>
<rect x="677.7" y="261.0" width="7" height="5.5" fill="#dcdcde"/>
<ellipse cx="685.7" cy="261.0" rx="11.8" ry="7.8" fill="#f0f0f2"/>
<ellipse cx="685.7" cy="261.0" rx="7" ry="4.6" fill="#6a6a6e"/>
<ellipse cx="686.9" cy="262.1" rx="4.6" ry="2.8" fill="#d6d6d8"/>
<ellipse cx="811.7" cy="340.0" rx="15" ry="10" fill="#77777a"/>
<ellipse cx="811.7" cy="337.5" rx="15" ry="10" fill="#e4e4e6"/>
<ellipse cx="811.7" cy="336.5" rx="11.8" ry="7.8" fill="#9d9da0"/>
<rect x="799.9" y="331.0" width="23.6" height="5.5" fill="#b4b4b7"/>
<rect x="803.7" y="331.0" width="7" height="5.5" fill="#dcdcde"/>
<ellipse cx="811.7" cy="331.0" rx="11.8" ry="7.8" fill="#f0f0f2"/>
<ellipse cx="811.7" cy="331.0" rx="7" ry="4.6" fill="#6a6a6e"/>
<ellipse cx="812.9" cy="332.1" rx="4.6" ry="2.8" fill="#d6d6d8"/>
<polyline points="879.9,328.9 891.6,319.7 899.7,324.1 888.1,333.4 879.9,328.9 891.6,319.7" fill="none" stroke="#f0f0f0" stroke-width="0.80" stroke-linejoin="miter" />
<polygon points="889.5,323.4 894.5,326.1 894.5,324.7 889.5,322.0" fill="#a9a9ab" />
<polygon points="894.5,326.1 896.7,324.4 896.7,323.0 894.5,324.7" fill="#8a8a8c" />
<polygon points="889.5,322.0 891.7,320.3 896.7,323.0 894.5,324.7" fill="#dcdcde" />
<polygon points="885.1,326.9 890.1,329.6 890.1,328.2 885.1,325.5" fill="#1c1c1e" />
<polygon points="890.1,329.6 894.5,326.1 894.5,324.7 890.1,328.2" fill="#18181a" />
<polygon points="885.1,325.5 889.5,322.0 894.5,324.7 890.1,328.2" fill="#2e2e30" />
<polygon points="882.9,328.7 887.9,331.4 887.9,330.0 882.9,327.3" fill="#a9a9ab" />
<polygon points="887.9,331.4 890.1,329.6 890.1,328.2 887.9,330.0" fill="#8a8a8c" />
<polygon points="882.9,327.3 885.1,325.5 890.1,328.2 887.9,330.0" fill="#dcdcde" />
<polyline points="891.3,335.1 903.9,325.2 912.3,329.7 899.8,339.7 891.3,335.1 903.9,325.2" fill="none" stroke="#f0f0f0" stroke-width="0.80" stroke-linejoin="miter" />
<polygon points="894.3,334.9 899.6,337.8 899.6,336.5 894.3,333.6" fill="#b5b5b2" />
<polygon points="899.6,337.8 909.3,330.0 909.3,328.7 899.6,336.5" fill="#9a9a98" />
<polygon points="894.3,333.6 904.1,325.8 909.3,328.7 899.6,336.5" fill="#e9e9e6" />
<polygon points="894.3,334.9 899.6,337.8 899.6,336.5 894.3,333.6" fill="#8a8a8c" />
<polygon points="899.6,337.8 901.9,335.9 901.9,334.6 899.6,336.5" fill="#7a7a7c" />
<polygon points="894.3,333.6 896.6,331.7 901.9,334.6 899.6,336.5" fill="#bdbdbf" />
<text xml:space="preserve" stroke="#fff" stroke-width="0.05" font-family="Liberation Sans, sans-serif" font-size="1.10" font-weight="normal" fill="#fff" text-anchor="middle" transform="translate(0 0.0) matrix(-4.639 3.712 -5.276 -2.863 912.32 337.50)" textLength="3.60" lengthAdjust="spacingAndGlyphs">Power 1</text>
<text xml:space="preserve" stroke="#fff" stroke-width="0.05" font-family="Liberation Sans, sans-serif" font-size="1.10" font-weight="normal" fill="#fff" text-anchor="middle" transform="translate(0 0.0) matrix(-4.668 3.680 -5.227 -2.841 875.05 322.86)" textLength="1.30" lengthAdjust="spacingAndGlyphs">R8</text>
<polyline points="553.9,215.9 563.5,209.2 579.5,218.1 569.9,224.8 553.9,215.9 563.5,209.2" fill="none" stroke="#f0f0f0" stroke-width="0.90" stroke-linejoin="miter" />
<polygon points="557.1,215.5 559.7,217.0 559.7,213.5 557.1,212.0" fill="#a9a9ab" />
<polygon points="559.7,217.0 565.9,212.7 565.9,209.2 559.7,213.5" fill="#8a8a8c" />
<polygon points="557.1,212.0 563.3,207.7 565.9,209.2 559.7,213.5" fill="#dcdcde" />
<polygon points="559.7,217.0 567.6,221.3 567.6,217.8 559.7,213.5" fill="#8a5a1e" />
<polygon points="567.6,221.3 573.7,217.0 573.7,213.5 567.6,217.8" fill="#6f4716" />
<polygon points="559.7,213.5 565.9,209.2 573.7,213.5 567.6,217.8" fill="#b87e2e" />
<polygon points="567.6,221.3 570.2,222.8 570.2,219.3 567.6,217.8" fill="#a9a9ab" />
<polygon points="570.2,222.8 576.4,218.5 576.4,215.0 570.2,219.3" fill="#8a8a8c" />
<polygon points="567.6,217.8 573.7,213.5 576.4,215.0 570.2,219.3" fill="#dcdcde" />
<polyline points="544.0,224.1 553.7,217.3 569.7,226.2 560.0,233.0 544.0,224.1 553.7,217.3" fill="none" stroke="#f0f0f0" stroke-width="0.90" stroke-linejoin="miter" />
<polygon points="547.2,223.7 549.8,225.1 549.8,221.6 547.2,220.2" fill="#a9a9ab" />
<polygon points="549.8,225.1 556.0,220.8 556.0,217.3 549.8,221.6" fill="#8a8a8c" />
<polygon points="547.2,220.2 553.4,215.9 556.0,217.3 549.8,221.6" fill="#dcdcde" />
<polygon points="549.8,225.1 557.7,229.5 557.7,226.0 549.8,221.6" fill="#8a5a1e" />
<polygon points="557.7,229.5 563.9,225.2 563.9,221.7 557.7,226.0" fill="#6f4716" />
<polygon points="549.8,221.6 556.0,217.3 563.9,221.7 557.7,226.0" fill="#b87e2e" />
<polygon points="557.7,229.5 560.3,231.0 560.3,227.5 557.7,226.0" fill="#a9a9ab" />
<polygon points="560.3,231.0 566.5,226.6 566.5,223.1 560.3,227.5" fill="#8a8a8c" />
<polygon points="557.7,226.0 563.9,221.7 566.5,223.1 560.3,227.5" fill="#dcdcde" />
<text xml:space="preserve" stroke="#fff" stroke-width="0.05" font-family="Liberation Sans, sans-serif" font-size="1.50" font-weight="normal" fill="#fff" text-anchor="middle" transform="translate(0 0.0) matrix(-4.880 -2.698 4.907 -3.473 587.86 226.59)" textLength="2.50" lengthAdjust="spacingAndGlyphs">C14</text>
<text xml:space="preserve" stroke="#fff" stroke-width="0.05" font-family="Liberation Sans, sans-serif" font-size="1.50" font-weight="normal" fill="#fff" text-anchor="middle" transform="translate(0 0.0) matrix(-4.885 -2.710 4.930 -3.489 579.01 233.48)" textLength="2.50" lengthAdjust="spacingAndGlyphs">C13</text>
<polygon points="529.0,236.4 543.1,244.3 543.1,240.3 529.0,232.4" fill="#2c2c2e" />
<polygon points="543.1,244.3 550.9,238.9 550.9,234.9 543.1,240.3" fill="#232325" />
<polygon points="529.0,232.4 536.8,227.0 550.9,234.9 543.1,240.3" fill="#454547" />
<polygon points="527.6,239.1 530.1,237.3 532.3,238.5 529.8,240.3" fill="#ededed" />
<polygon points="532.3,241.7 534.8,239.9 536.9,241.1 534.4,242.9" fill="#ededed" />
<polygon points="536.9,244.3 539.4,242.5 541.5,243.7 539.0,245.5" fill="#ededed" />
<polygon points="538.4,231.6 540.9,229.8 543.0,231.0 540.5,232.8" fill="#d0d0d0" />
<polygon points="547.6,236.7 550.1,235.0 552.2,236.2 549.8,237.9" fill="#d0d0d0" />
<text xml:space="preserve" stroke="#fff" stroke-width="0.05" font-family="Liberation Sans, sans-serif" font-size="1.40" font-weight="normal" fill="#fff" text-anchor="middle" transform="translate(0 0.0) matrix(-4.844 -2.708 4.999 -3.487 523.90 230.53)" textLength="1.70" lengthAdjust="spacingAndGlyphs">U2</text>
<polyline points="560.3,249.5 567.0,244.7 577.3,250.5 570.6,255.2 560.3,249.5 567.0,244.7" fill="none" stroke="#f0f0f0" stroke-width="0.70" stroke-linejoin="miter" />
<polygon points="562.5,249.2 564.6,250.3 564.6,248.9 562.5,247.8" fill="#a9a9ab" />
<polygon points="564.6,250.3 568.9,247.3 568.9,245.9 564.6,248.9" fill="#8a8a8c" />
<polygon points="562.5,247.8 566.8,244.8 568.9,245.9 564.6,248.9" fill="#dcdcde" />
<polygon points="564.6,250.3 568.8,252.6 568.8,251.2 564.6,248.9" fill="#1c1c1e" />
<polygon points="568.8,252.6 573.0,249.6 573.0,248.2 568.8,251.2" fill="#18181a" />
<polygon points="564.6,248.9 568.9,245.9 573.0,248.2 568.8,251.2" fill="#2e2e30" />
<polygon points="568.8,252.6 570.9,253.8 570.9,252.4 568.8,251.2" fill="#a9a9ab" />
<polygon points="570.9,253.8 575.1,250.8 575.1,249.4 570.9,252.4" fill="#8a8a8c" />
<polygon points="568.8,251.2 573.0,248.2 575.1,249.4 570.9,252.4" fill="#dcdcde" />
<polyline points="554.3,253.7 561.1,249.0 571.4,254.7 564.6,259.5 554.3,253.7 561.1,249.0" fill="none" stroke="#f0f0f0" stroke-width="0.70" stroke-linejoin="miter" />
<polygon points="556.6,253.4 558.6,254.6 558.6,253.2 556.6,252.0" fill="#a9a9ab" />
<polygon points="558.6,254.6 562.9,251.6 562.9,250.2 558.6,253.2" fill="#8a8a8c" />
<polygon points="556.6,252.0 560.8,249.0 562.9,250.2 558.6,253.2" fill="#dcdcde" />
<polygon points="558.6,254.6 562.8,256.9 562.8,255.5 558.6,253.2" fill="#1c1c1e" />
<polygon points="562.8,256.9 567.1,253.9 567.1,252.5 562.8,255.5" fill="#18181a" />
<polygon points="558.6,253.2 562.9,250.2 567.1,252.5 562.8,255.5" fill="#2e2e30" />
<polygon points="562.8,256.9 564.9,258.1 564.9,256.7 562.8,255.5" fill="#a9a9ab" />
<polygon points="564.9,258.1 569.1,255.1 569.1,253.7 564.9,256.7" fill="#8a8a8c" />
<polygon points="562.8,255.5 567.1,252.5 569.1,253.7 564.9,256.7" fill="#dcdcde" />
<polyline points="543.9,257.7 552.1,251.9 564.9,259.0 556.6,264.9 543.9,257.7 552.1,251.9" fill="none" stroke="#f0f0f0" stroke-width="0.90" stroke-linejoin="miter" />
<polygon points="547.1,257.3 549.1,258.4 549.1,255.9 547.1,254.8" fill="#a9a9ab" />
<polygon points="549.1,258.4 553.8,255.0 553.8,252.5 549.1,255.9" fill="#8a8a8c" />
<polygon points="547.1,254.8 551.9,251.4 553.8,252.5 549.1,255.9" fill="#dcdcde" />
<polygon points="549.1,258.4 555.0,261.7 555.0,259.2 549.1,255.9" fill="#8a5a1e" />
<polygon points="555.0,261.7 559.7,258.3 559.7,255.8 555.0,259.2" fill="#6f4716" />
<polygon points="549.1,255.9 553.8,252.5 559.7,255.8 555.0,259.2" fill="#b87e2e" />
<polygon points="555.0,261.7 556.9,262.8 556.9,260.3 555.0,259.2" fill="#a9a9ab" />
<polygon points="556.9,262.8 561.7,259.4 561.7,256.9 556.9,260.3" fill="#8a8a8c" />
<polygon points="555.0,259.2 559.7,255.8 561.7,256.9 556.9,260.3" fill="#dcdcde" />
<text xml:space="preserve" stroke="#fff" stroke-width="0.05" font-family="Liberation Sans, sans-serif" font-size="0.62" font-weight="normal" fill="#fff" text-anchor="middle" transform="translate(0 0.0) matrix(-4.904 -2.721 4.926 -3.505 590.67 240.67)" textLength="2.20" lengthAdjust="spacingAndGlyphs">R3/10K</text>
<text xml:space="preserve" stroke="#fff" stroke-width="0.05" font-family="Liberation Sans, sans-serif" font-size="0.62" font-weight="normal" fill="#fff" text-anchor="middle" transform="translate(0 0.0) matrix(-4.906 -2.726 4.935 -3.512 586.97 243.30)" textLength="2.20" lengthAdjust="spacingAndGlyphs">R4/10K</text>
<text xml:space="preserve" stroke="#fff" stroke-width="0.05" font-family="Liberation Sans, sans-serif" font-size="0.62" font-weight="normal" fill="#fff" text-anchor="middle" transform="translate(0 0.0) matrix(-4.908 -2.730 4.944 -3.518 583.27 245.94)" textLength="2.20" lengthAdjust="spacingAndGlyphs">R5/10K</text>
<polyline points="480.8,252.3 504.6,235.8 538.1,254.6 514.4,271.4 480.8,252.3 504.6,235.8" fill="none" stroke="#f0f0f0" stroke-width="0.90" stroke-linejoin="miter" />
<polygon points="489.6,248.0 494.0,250.5 494.0,247.5 489.6,245.0" fill="#a9a9ab" />
<polygon points="494.0,250.5 503.1,244.1 503.1,241.1 494.0,247.5" fill="#8a8a8c" />
<polygon points="489.6,245.0 498.7,238.7 503.1,241.1 494.0,247.5" fill="#dcdcde" />
<polygon points="488.2,252.7 511.1,265.6 511.1,258.1 488.2,245.2" fill="#4a4844" />
<polygon points="511.1,265.6 528.8,253.2 528.8,245.7 511.1,258.1" fill="#3a3836" />
<polygon points="488.2,245.2 505.9,232.8 528.8,245.7 511.1,258.1" fill="#d9d4b8" />
<polygon points="488.2,247.4 511.1,260.3 511.1,258.1 488.2,245.2" fill="#a7a38d" />
<polygon points="511.1,260.3 528.8,247.9 528.8,245.7 511.1,258.1" fill="#8e8a76" />
<polygon points="515.4,262.6 520.0,265.2 520.0,261.2 515.4,258.6" fill="#a9a9ab" />
<polygon points="520.0,265.2 529.1,258.8 529.1,254.8 520.0,261.2" fill="#8a8a8c" />
<polygon points="515.4,258.6 524.5,252.2 529.1,254.8 520.0,261.2" fill="#dcdcde" />
<text xml:space="preserve" font-family="Liberation Sans, sans-serif" font-size="2.30" font-weight="normal" fill="#3c3c34" text-anchor="middle" transform="translate(0 -7.5) matrix(4.871 2.751 -5.066 3.548 504.43 255.77)" textLength="3.10" lengthAdjust="spacingAndGlyphs">2P2</text>
<text xml:space="preserve" stroke="#fff" stroke-width="0.05" font-family="Liberation Sans, sans-serif" font-size="1.40" font-weight="normal" fill="#fff" text-anchor="middle" transform="translate(0 0.0) matrix(-4.842 -2.728 5.054 -3.514 495.53 241.15)" textLength="1.60" lengthAdjust="spacingAndGlyphs">L2</text>
<polyline points="482.2,275.3 492.2,268.3 508.4,277.5 498.4,284.6 482.2,275.3 492.2,268.3" fill="none" stroke="#f0f0f0" stroke-width="0.90" stroke-linejoin="miter" />
<polygon points="485.5,274.9 488.1,276.4 488.1,272.9 485.5,271.4" fill="#a9a9ab" />
<polygon points="488.1,276.4 494.5,271.9 494.5,268.4 488.1,272.9" fill="#8a8a8c" />
<polygon points="485.5,271.4 491.9,266.9 494.5,268.4 488.1,272.9" fill="#dcdcde" />
<polygon points="488.1,276.4 496.1,280.9 496.1,277.4 488.1,272.9" fill="#8a5a1e" />
<polygon points="496.1,280.9 502.5,276.4 502.5,272.9 496.1,277.4" fill="#6f4716" />
<polygon points="488.1,272.9 494.5,268.4 502.5,272.9 496.1,277.4" fill="#b87e2e" />
<polygon points="496.1,280.9 498.7,282.5 498.7,279.0 496.1,277.4" fill="#a9a9ab" />
<polygon points="498.7,282.5 505.1,277.9 505.1,274.4 498.7,279.0" fill="#8a8a8c" />
<polygon points="496.1,277.4 502.5,272.9 505.1,274.4 498.7,279.0" fill="#dcdcde" />
<polyline points="472.4,283.5 482.5,276.4 498.6,285.7 488.6,292.7 472.4,283.5 482.5,276.4" fill="none" stroke="#f0f0f0" stroke-width="0.90" stroke-linejoin="miter" />
<polygon points="475.7,283.0 478.3,284.6 478.3,281.1 475.7,279.5" fill="#a9a9ab" />
<polygon points="478.3,284.6 484.8,280.0 484.8,276.5 478.3,281.1" fill="#8a8a8c" />
<polygon points="475.7,279.5 482.1,275.0 484.8,276.5 478.3,281.1" fill="#dcdcde" />
<polygon points="478.3,284.6 486.3,289.1 486.3,285.6 478.3,281.1" fill="#8a5a1e" />
<polygon points="486.3,289.1 492.7,284.6 492.7,281.1 486.3,285.6" fill="#6f4716" />
<polygon points="478.3,281.1 484.8,276.5 492.7,281.1 486.3,285.6" fill="#b87e2e" />
<polygon points="486.3,289.1 488.9,290.6 488.9,287.1 486.3,285.6" fill="#a9a9ab" />
<polygon points="488.9,290.6 495.4,286.1 495.4,282.6 488.9,287.1" fill="#8a8a8c" />
<polygon points="486.3,285.6 492.7,281.1 495.4,282.6 488.9,287.1" fill="#dcdcde" />
<text xml:space="preserve" stroke="#fff" stroke-width="0.05" font-family="Liberation Sans, sans-serif" font-size="1.60" font-weight="normal" fill="#fff" text-anchor="middle" transform="translate(0 0.0) matrix(-4.867 -2.766 5.112 -3.569 480.19 264.10)" textLength="2.60" lengthAdjust="spacingAndGlyphs">C11</text>
<text xml:space="preserve" stroke="#fff" stroke-width="0.05" font-family="Liberation Sans, sans-serif" font-size="1.60" font-weight="normal" fill="#fff" text-anchor="middle" transform="translate(0 0.0) matrix(-4.871 -2.780 5.142 -3.589 467.42 271.77)" textLength="2.60" lengthAdjust="spacingAndGlyphs">C10</text>
<polyline points="440.7,289.2 455.2,279.0 489.5,298.7 475.0,309.0 440.7,289.2 455.2,279.0" fill="none" stroke="#f0f0f0" stroke-width="0.90" stroke-linejoin="miter" />
<polygon points="445.5,287.7 449.5,289.9 449.5,287.4 445.5,285.2" fill="#a9a9ab" />
<polygon points="449.5,289.9 457.2,284.5 457.2,282.0 449.5,287.4" fill="#8a8a8c" />
<polygon points="445.5,285.2 453.3,279.7 457.2,282.0 449.5,287.4" fill="#dcdcde" />
<polygon points="446.7,290.0 470.2,303.5 470.2,298.0 446.7,284.5" fill="#2a2a2c" />
<polygon points="470.2,303.5 480.6,296.2 480.6,290.7 470.2,298.0" fill="#222224" />
<polygon points="446.7,284.5 457.1,277.2 480.6,290.7 470.2,298.0" fill="#3f3f41" />
<polygon points="471.5,302.6 476.9,305.7 476.9,302.2 471.5,299.1" fill="#a9a9ab" />
<polygon points="476.9,305.7 484.7,300.2 484.7,296.7 476.9,302.2" fill="#8a8a8c" />
<polygon points="471.5,299.1 479.3,293.6 484.7,296.7 476.9,302.2" fill="#dcdcde" />
<polyline points="423.4,302.5 438.0,292.3 472.4,312.1 457.8,322.5 423.4,302.5 438.0,292.3" fill="none" stroke="#f0f0f0" stroke-width="0.90" stroke-linejoin="miter" />
<polygon points="428.3,301.0 432.2,303.2 432.2,300.7 428.3,298.5" fill="#a9a9ab" />
<polygon points="432.2,303.2 440.0,297.8 440.0,295.3 432.2,300.7" fill="#8a8a8c" />
<polygon points="428.3,298.5 436.1,293.0 440.0,295.3 432.2,300.7" fill="#dcdcde" />
<polygon points="429.4,303.3 453.0,317.0 453.0,311.5 429.4,297.8" fill="#2a2a2c" />
<polygon points="453.0,317.0 463.4,309.6 463.4,304.1 453.0,311.5" fill="#222224" />
<polygon points="429.4,297.8 439.8,290.5 463.4,304.1 453.0,311.5" fill="#3f3f41" />
<polygon points="454.3,316.0 459.7,319.2 459.7,315.7 454.3,312.5" fill="#a9a9ab" />
<polygon points="459.7,319.2 467.5,313.6 467.5,310.1 459.7,315.7" fill="#8a8a8c" />
<polygon points="454.3,312.5 462.1,307.0 467.5,310.1 459.7,315.7" fill="#dcdcde" />
<text xml:space="preserve" stroke="#fff" stroke-width="0.05" font-family="Liberation Sans, sans-serif" font-size="1.60" font-weight="normal" fill="#fff" text-anchor="middle" transform="translate(0 0.0) matrix(-4.947 -2.846 5.179 -3.684 488.43 312.16)" textLength="2.80" lengthAdjust="spacingAndGlyphs">VD1</text>
<text xml:space="preserve" stroke="#fff" stroke-width="0.05" font-family="Liberation Sans, sans-serif" font-size="1.60" font-weight="normal" fill="#fff" text-anchor="middle" transform="translate(0 0.0) matrix(-4.957 -2.869 5.222 -3.717 472.75 325.23)" textLength="2.80" lengthAdjust="spacingAndGlyphs">VD0</text>
<polyline points="414.8,316.9 425.1,309.7 441.3,319.2 431.1,326.4 414.8,316.9 425.1,309.7" fill="none" stroke="#f0f0f0" stroke-width="0.90" stroke-linejoin="miter" />
<polygon points="418.2,316.5 420.8,318.1 420.8,314.6 418.2,313.0" fill="#a9a9ab" />
<polygon points="420.8,318.1 427.4,313.4 427.4,309.9 420.8,314.6" fill="#8a8a8c" />
<polygon points="418.2,313.0 424.7,308.4 427.4,309.9 420.8,314.6" fill="#dcdcde" />
<polygon points="420.8,318.1 428.8,322.7 428.8,319.2 420.8,314.6" fill="#8a5a1e" />
<polygon points="428.8,322.7 435.4,318.1 435.4,314.6 428.8,319.2" fill="#6f4716" />
<polygon points="420.8,314.6 427.4,309.9 435.4,314.6 428.8,319.2" fill="#b87e2e" />
<polygon points="428.8,322.7 431.4,324.2 431.4,320.7 428.8,319.2" fill="#a9a9ab" />
<polygon points="431.4,324.2 438.0,319.6 438.0,316.1 431.4,320.7" fill="#8a8a8c" />
<polygon points="428.8,319.2 435.4,314.6 438.0,316.1 431.4,320.7" fill="#dcdcde" />
<polyline points="404.2,325.0 414.5,317.8 430.8,327.3 420.4,334.5 404.2,325.0 414.5,317.8" fill="none" stroke="#f0f0f0" stroke-width="0.90" stroke-linejoin="miter" />
<polygon points="407.5,324.6 410.2,326.1 410.2,322.6 407.5,321.1" fill="#a9a9ab" />
<polygon points="410.2,326.1 416.8,321.5 416.8,318.0 410.2,322.6" fill="#8a8a8c" />
<polygon points="407.5,321.1 414.1,316.4 416.8,318.0 410.2,322.6" fill="#dcdcde" />
<polygon points="410.2,326.1 418.1,330.8 418.1,327.3 410.2,322.6" fill="#8a5a1e" />
<polygon points="418.1,330.8 424.8,326.1 424.8,322.6 418.1,327.3" fill="#6f4716" />
<polygon points="410.2,322.6 416.8,318.0 424.8,322.6 418.1,327.3" fill="#b87e2e" />
<polygon points="418.1,330.8 420.8,332.4 420.8,328.9 418.1,327.3" fill="#a9a9ab" />
<polygon points="420.8,332.4 427.4,327.7 427.4,324.2 420.8,328.9" fill="#8a8a8c" />
<polygon points="418.1,327.3 424.8,322.6 427.4,324.2 420.8,328.9" fill="#dcdcde" />
<text xml:space="preserve" stroke="#fff" stroke-width="0.05" font-family="Liberation Sans, sans-serif" font-size="1.60" font-weight="normal" fill="#fff" text-anchor="middle" transform="translate(0 0.0) matrix(-4.888 -2.842 5.274 -3.677 413.40 306.97)" textLength="1.80" lengthAdjust="spacingAndGlyphs">C9</text>
<text xml:space="preserve" stroke="#fff" stroke-width="0.05" font-family="Liberation Sans, sans-serif" font-size="1.60" font-weight="normal" fill="#fff" text-anchor="middle" transform="translate(0 0.0) matrix(-4.890 -2.853 5.301 -3.694 401.36 313.49)" textLength="1.80" lengthAdjust="spacingAndGlyphs">C8</text>
<polygon points="384.9,339.2 399.2,347.6 399.2,343.6 384.9,335.2" fill="#2c2c2e" />
<polygon points="399.2,347.6 407.5,341.7 407.5,337.7 399.2,343.6" fill="#232325" />
<polygon points="384.9,335.2 393.2,329.3 407.5,337.7 399.2,343.6" fill="#454547" />
<polygon points="383.3,342.0 386.0,340.2 388.2,341.4 385.5,343.3" fill="#ededed" />
<polygon points="388.0,344.8 390.7,342.9 392.9,344.2 390.2,346.1" fill="#ededed" />
<polygon points="392.7,347.6 395.4,345.7 397.6,346.9 394.9,348.8" fill="#ededed" />
<polygon points="394.9,334.0 397.5,332.1 399.7,333.4 397.0,335.2" fill="#d0d0d0" />
<polygon points="404.2,339.5 406.9,337.6 409.1,338.9 406.4,340.7" fill="#d0d0d0" />
<text xml:space="preserve" stroke="#fff" stroke-width="0.05" font-family="Liberation Sans, sans-serif" font-size="1.40" font-weight="normal" fill="#fff" text-anchor="middle" transform="translate(0 0.0) matrix(-4.903 -2.876 5.336 -3.727 391.51 326.64)" textLength="1.70" lengthAdjust="spacingAndGlyphs">U1</text>
<polyline points="417.3,353.4 424.5,348.3 434.9,354.4 427.8,359.5 417.3,353.4 424.5,348.3" fill="none" stroke="#f0f0f0" stroke-width="0.70" stroke-linejoin="miter" />
<polygon points="419.6,353.0 421.8,354.3 421.8,352.9 419.6,351.6" fill="#a9a9ab" />
<polygon points="421.8,354.3 426.3,351.0 426.3,349.6 421.8,352.9" fill="#8a8a8c" />
<polygon points="419.6,351.6 424.2,348.4 426.3,349.6 421.8,352.9" fill="#dcdcde" />
<polygon points="421.8,354.3 426.0,356.7 426.0,355.3 421.8,352.9" fill="#1c1c1e" />
<polygon points="426.0,356.7 430.5,353.5 430.5,352.1 426.0,355.3" fill="#18181a" />
<polygon points="421.8,352.9 426.3,349.6 430.5,352.1 426.0,355.3" fill="#2e2e30" />
<polygon points="426.0,356.7 428.1,358.0 428.1,356.6 426.0,355.3" fill="#a9a9ab" />
<polygon points="428.1,358.0 432.6,354.8 432.6,353.4 428.1,356.6" fill="#8a8a8c" />
<polygon points="426.0,355.3 430.5,352.1 432.6,353.4 428.1,356.6" fill="#dcdcde" />
<polyline points="410.9,357.9 418.1,352.8 428.6,359.0 421.3,364.1 410.9,357.9 418.1,352.8" fill="none" stroke="#f0f0f0" stroke-width="0.70" stroke-linejoin="miter" />
<polygon points="413.2,357.6 415.3,358.8 415.3,357.4 413.2,356.2" fill="#a9a9ab" />
<polygon points="415.3,358.8 419.9,355.6 419.9,354.2 415.3,357.4" fill="#8a8a8c" />
<polygon points="413.2,356.2 417.8,352.9 419.9,354.2 415.3,357.4" fill="#dcdcde" />
<polygon points="415.3,358.8 419.6,361.3 419.6,359.9 415.3,357.4" fill="#1c1c1e" />
<polygon points="419.6,361.3 424.1,358.1 424.1,356.7 419.6,359.9" fill="#18181a" />
<polygon points="415.3,357.4 419.9,354.2 424.1,356.7 419.6,359.9" fill="#2e2e30" />
<polygon points="419.6,361.3 421.7,362.6 421.7,361.2 419.6,359.9" fill="#a9a9ab" />
<polygon points="421.7,362.6 426.2,359.3 426.2,357.9 421.7,361.2" fill="#8a8a8c" />
<polygon points="419.6,359.9 424.1,356.7 426.2,357.9 421.7,361.2" fill="#dcdcde" />
<polyline points="400.3,362.5 409.2,356.2 422.1,363.9 413.3,370.2 400.3,362.5 409.2,356.2" fill="none" stroke="#f0f0f0" stroke-width="0.90" stroke-linejoin="miter" />
<polygon points="403.7,362.1 405.7,363.2 405.7,360.7 403.7,359.6" fill="#a9a9ab" />
<polygon points="405.7,363.2 410.8,359.6 410.8,357.1 405.7,360.7" fill="#8a8a8c" />
<polygon points="403.7,359.6 408.8,355.9 410.8,357.1 405.7,360.7" fill="#dcdcde" />
<polygon points="405.7,363.2 411.7,366.8 411.7,364.3 405.7,360.7" fill="#8a5a1e" />
<polygon points="411.7,366.8 416.8,363.1 416.8,360.6 411.7,364.3" fill="#6f4716" />
<polygon points="405.7,360.7 410.8,357.1 416.8,360.6 411.7,364.3" fill="#b87e2e" />
<polygon points="411.7,366.8 413.6,367.9 413.6,365.4 411.7,364.3" fill="#a9a9ab" />
<polygon points="413.6,367.9 418.7,364.3 418.7,361.8 413.6,365.4" fill="#8a8a8c" />
<polygon points="411.7,364.3 416.8,360.6 418.7,361.8 413.6,365.4" fill="#dcdcde" />
<text xml:space="preserve" stroke="#fff" stroke-width="0.05" font-family="Liberation Sans, sans-serif" font-size="0.62" font-weight="normal" fill="#fff" text-anchor="middle" transform="translate(0 0.0) matrix(-4.966 -2.901 5.287 -3.762 446.76 343.09)" textLength="2.20" lengthAdjust="spacingAndGlyphs">R6/10K</text>
<text xml:space="preserve" stroke="#fff" stroke-width="0.05" font-family="Liberation Sans, sans-serif" font-size="0.62" font-weight="normal" fill="#fff" text-anchor="middle" transform="translate(0 0.0) matrix(-4.968 -2.906 5.297 -3.770 442.79 345.91)" textLength="2.20" lengthAdjust="spacingAndGlyphs">R9/10K</text>
<text xml:space="preserve" stroke="#fff" stroke-width="0.05" font-family="Liberation Sans, sans-serif" font-size="0.62" font-weight="normal" fill="#fff" text-anchor="middle" transform="translate(0 0.0) matrix(-4.970 -2.911 5.307 -3.777 438.81 348.74)" textLength="2.20" lengthAdjust="spacingAndGlyphs">R10/10K</text>
<polyline points="338.6,356.9 364.1,339.2 398.1,359.3 372.6,377.3 338.6,356.9 364.1,339.2" fill="none" stroke="#f0f0f0" stroke-width="0.90" stroke-linejoin="miter" />
<polygon points="347.9,352.3 352.4,354.9 352.4,351.9 347.9,349.3" fill="#a9a9ab" />
<polygon points="352.4,354.9 362.1,348.1 362.1,345.1 352.4,351.9" fill="#8a8a8c" />
<polygon points="347.9,349.3 357.7,342.5 362.1,345.1 352.4,351.9" fill="#dcdcde" />
<polygon points="346.3,357.3 369.5,371.1 369.5,363.6 346.3,349.8" fill="#4a4844" />
<polygon points="369.5,371.1 388.4,357.7 388.4,350.2 369.5,363.6" fill="#3a3836" />
<polygon points="346.3,349.8 365.2,336.5 388.4,350.2 369.5,363.6" fill="#d9d4b8" />
<polygon points="346.3,352.0 369.5,365.8 369.5,363.6 346.3,349.8" fill="#a7a38d" />
<polygon points="369.5,365.8 388.4,352.4 388.4,350.2 369.5,363.6" fill="#8e8a76" />
<polygon points="374.1,367.9 378.8,370.7 378.8,366.7 374.1,363.9" fill="#a9a9ab" />
<polygon points="378.8,370.7 388.5,363.8 388.5,359.8 378.8,366.7" fill="#8a8a8c" />
<polygon points="374.1,363.9 383.8,357.0 388.5,359.8 378.8,366.7" fill="#dcdcde" />
<text xml:space="preserve" font-family="Liberation Sans, sans-serif" font-size="2.30" font-weight="normal" fill="#3c3c34" text-anchor="middle" transform="translate(0 -7.5) matrix(4.935 2.935 -5.433 3.812 363.00 360.56)" textLength="3.10" lengthAdjust="spacingAndGlyphs">2P2</text>
<text xml:space="preserve" stroke="#fff" stroke-width="0.05" font-family="Liberation Sans, sans-serif" font-size="1.40" font-weight="normal" fill="#fff" text-anchor="middle" transform="translate(0 0.0) matrix(-4.901 -2.905 5.415 -3.768 353.61 342.34)" textLength="1.60" lengthAdjust="spacingAndGlyphs">L1</text>
<polyline points="303.4,376.8 320.5,364.9 331.1,371.3 314.0,383.2 303.4,376.8 320.5,364.9" fill="none" stroke="#f0f0f0" stroke-width="0.90" stroke-linejoin="miter" />
<polygon points="317.8,369.0 324.9,373.3 324.9,369.8 317.8,365.5" fill="#a9a9ab" />
<polygon points="324.9,373.3 327.7,371.4 327.7,367.9 324.9,369.8" fill="#8a8a8c" />
<polygon points="317.8,365.5 320.5,363.6 327.7,367.9 324.9,369.8" fill="#dcdcde" />
<polygon points="309.5,374.8 316.7,379.1 316.7,375.6 309.5,371.3" fill="#8a5a1e" />
<polygon points="316.7,379.1 324.9,373.3 324.9,369.8 316.7,375.6" fill="#6f4716" />
<polygon points="309.5,371.3 317.8,365.5 324.9,369.8 316.7,375.6" fill="#b87e2e" />
<polygon points="306.7,376.7 313.9,381.0 313.9,377.5 306.7,373.2" fill="#a9a9ab" />
<polygon points="313.9,381.0 316.7,379.1 316.7,375.6 313.9,377.5" fill="#8a8a8c" />
<polygon points="306.7,373.2 309.5,371.3 316.7,375.6 313.9,377.5" fill="#dcdcde" />
<polyline points="315.4,384.1 332.5,372.1 343.2,378.5 326.1,390.5 315.4,384.1 332.5,372.1" fill="none" stroke="#f0f0f0" stroke-width="0.90" stroke-linejoin="miter" />
<polygon points="329.9,376.3 337.0,380.6 337.0,377.1 329.9,372.8" fill="#a9a9ab" />
<polygon points="337.0,380.6 339.8,378.6 339.8,375.1 337.0,377.1" fill="#8a8a8c" />
<polygon points="329.9,372.8 332.6,370.8 339.8,375.1 337.0,377.1" fill="#dcdcde" />
<polygon points="321.6,382.1 328.8,386.4 328.8,382.9 321.6,378.6" fill="#8a5a1e" />
<polygon points="328.8,386.4 337.0,380.6 337.0,377.1 328.8,382.9" fill="#6f4716" />
<polygon points="321.6,378.6 329.9,372.8 337.0,377.1 328.8,382.9" fill="#b87e2e" />
<polygon points="318.8,384.0 326.0,388.3 326.0,384.8 318.8,380.5" fill="#a9a9ab" />
<polygon points="326.0,388.3 328.8,386.4 328.8,382.9 326.0,384.8" fill="#8a8a8c" />
<polygon points="318.8,380.5 321.6,378.6 328.8,382.9 326.0,384.8" fill="#dcdcde" />
<polyline points="327.6,391.4 344.6,379.4 355.3,385.8 338.2,397.9 327.6,391.4 344.6,379.4" fill="none" stroke="#f0f0f0" stroke-width="0.90" stroke-linejoin="miter" />
<polygon points="342.0,383.5 349.2,387.9 349.2,384.4 342.0,380.0" fill="#a9a9ab" />
<polygon points="349.2,387.9 351.9,385.9 351.9,382.4 349.2,384.4" fill="#8a8a8c" />
<polygon points="342.0,380.0 344.7,378.1 351.9,382.4 349.2,384.4" fill="#dcdcde" />
<polygon points="333.7,389.4 340.9,393.7 340.9,390.2 333.7,385.9" fill="#8a5a1e" />
<polygon points="340.9,393.7 349.2,387.9 349.2,384.4 340.9,390.2" fill="#6f4716" />
<polygon points="333.7,385.9 342.0,380.0 349.2,384.4 340.9,390.2" fill="#b87e2e" />
<polygon points="330.9,391.3 338.1,395.6 338.1,392.1 330.9,387.8" fill="#a9a9ab" />
<polygon points="338.1,395.6 340.9,393.7 340.9,390.2 338.1,392.1" fill="#8a8a8c" />
<polygon points="330.9,387.8 333.7,385.9 340.9,390.2 338.1,392.1" fill="#dcdcde" />
<polyline points="339.5,398.6 356.5,386.5 367.2,393.0 350.2,405.1 339.5,398.6 356.5,386.5" fill="none" stroke="#f0f0f0" stroke-width="0.90" stroke-linejoin="miter" />
<polygon points="353.9,390.7 361.1,395.0 361.1,391.5 353.9,387.2" fill="#a9a9ab" />
<polygon points="361.1,395.0 363.9,393.1 363.9,389.6 361.1,391.5" fill="#8a8a8c" />
<polygon points="353.9,387.2 356.6,385.3 363.9,389.6 361.1,391.5" fill="#dcdcde" />
<polygon points="345.6,396.5 352.9,400.9 352.9,397.4 345.6,393.0" fill="#8a5a1e" />
<polygon points="352.9,400.9 361.1,395.0 361.1,391.5 352.9,397.4" fill="#6f4716" />
<polygon points="345.6,393.0 353.9,387.2 361.1,391.5 352.9,397.4" fill="#b87e2e" />
<polygon points="342.9,398.5 350.1,402.8 350.1,399.3 342.9,395.0" fill="#a9a9ab" />
<polygon points="350.1,402.8 352.9,400.9 352.9,397.4 350.1,399.3" fill="#8a8a8c" />
<polygon points="342.9,395.0 345.6,393.0 352.9,397.4 350.1,399.3" fill="#dcdcde" />
<text xml:space="preserve" stroke="#fff" stroke-width="0.05" font-family="Liberation Sans, sans-serif" font-size="1.50" font-weight="normal" fill="#fff" text-anchor="middle" transform="translate(0 0.0) matrix(-5.550 3.933 -4.989 -3.020 336.76 408.60)" textLength="2.40" lengthAdjust="spacingAndGlyphs">C12</text>
<text xml:space="preserve" stroke="#fff" stroke-width="0.07" font-family="Liberation Sans, sans-serif" font-size="3.30" font-weight="normal" fill="#fff" text-anchor="middle" transform="translate(0 0.0) matrix(-5.546 3.954 -5.012 -3.034 350.16 417.44)" textLength="6.60" lengthAdjust="spacingAndGlyphs">SATA</text>
<text xml:space="preserve" stroke="#fff" stroke-width="0.07" font-family="Liberation Sans, sans-serif" font-size="3.30" font-weight="normal" fill="#fff" text-anchor="middle" transform="translate(0 0.0) matrix(-5.747 4.098 -5.039 -3.134 273.94 471.78)" textLength="3.20" lengthAdjust="spacingAndGlyphs">U2</text>
<polygon points="287.7,467.3 299.6,448.1 315.7,458.1" fill="#fff" />
<polygon points="337.5,431.8 309.8,440.9 325.9,450.8" fill="#fff" />
<polyline points="304.6,451.2 314.8,444.0 320.8,447.7 310.7,455.0 304.6,451.2" fill="none" stroke="#fff" stroke-width="1.30" stroke-linejoin="miter" />
<polygon points="259.9,417.2 273.3,425.5 273.3,419.0 259.9,410.7" fill="#2a2a2c" />
<polygon points="273.3,425.5 286.8,415.9 286.8,409.4 273.3,419.0" fill="#222224" />
<polygon points="259.9,410.7 273.5,401.2 286.8,409.4 273.3,419.0" fill="#48484a" />
<polygon points="265.5,449.2 270.3,445.8 277.9,451.9 273.1,455.3" fill="#8b8b8d" />
<polygon points="272.0,454.7 276.8,451.3 283.4,455.4 278.6,458.8" fill="#c9c9cb" />
<polygon points="275.7,442.0 280.5,438.6 288.0,444.8 283.2,448.1" fill="#8b8b8d" />
<polygon points="282.2,447.5 287.0,444.1 293.5,448.2 288.7,451.5" fill="#c9c9cb" />
<polygon points="285.8,434.9 290.6,431.5 298.1,437.6 293.3,441.0" fill="#8b8b8d" />
<polygon points="292.3,440.4 297.1,437.0 303.6,441.0 298.8,444.4" fill="#c9c9cb" />
<polygon points="295.9,427.7 300.6,424.4 308.1,430.5 303.4,433.8" fill="#8b8b8d" />
<polygon points="302.4,433.2 307.1,429.9 313.6,433.9 308.9,437.2" fill="#c9c9cb" />
<polygon points="305.9,420.7 310.6,417.3 318.1,423.4 313.4,426.7" fill="#8b8b8d" />
<polygon points="312.4,426.1 317.1,422.8 323.6,426.8 318.9,430.1" fill="#c9c9cb" />
<polygon points="315.9,413.6 320.6,410.3 328.1,416.3 323.4,419.7" fill="#8b8b8d" />
<polygon points="322.4,419.1 327.1,415.7 333.6,419.7 328.9,423.0" fill="#c9c9cb" />
<polygon points="246.6,444.9 261.1,453.9 261.1,441.9 246.6,432.9" fill="#b79a78" />
<polygon points="261.1,453.9 323.8,409.5 323.8,397.5 261.1,441.9" fill="#19191b" />
<polygon points="246.6,432.9 309.4,388.8 323.8,397.5 261.1,441.9" fill="#f1efea" />
<polygon points="246.6,444.9 261.1,453.9 261.1,441.9 246.6,432.9" fill="#a98f72" />
<polygon points="248.1,444.8 254.1,448.5 254.1,441.5 248.1,437.8" fill="#d9d2c6" />
<polygon points="267.9,449.0 323.8,409.5 323.8,399.0 267.9,438.5" fill="#1b1b1d" />
<polygon points="261.1,443.4 323.8,399.0 323.8,397.5 261.1,441.9" fill="#cfcac2" />
<polygon points="259.7,426.6 302.7,396.4 312.6,402.5 269.7,432.8" fill="#f8cf95" />
<polygon points="267.3,424.5 293.9,405.8 295.7,406.9 269.1,425.6" fill="#e9ab5c" />
<polygon points="270.6,426.5 297.2,407.8 298.9,408.9 272.3,427.6" fill="#e9ab5c" />
<polygon points="286.6,411.0 288.9,409.4 293.9,412.4 291.6,414.0" fill="#e9ab5c" />
<polyline points="156.3,487.9 177.1,473.4 185.5,478.8 164.8,493.3 156.3,487.9 177.1,473.4" fill="none" stroke="#f0f0f0" stroke-width="0.80" stroke-linejoin="miter" />
<polygon points="159.6,487.6 165.1,491.1 165.1,489.8 159.6,486.3" fill="#b5b5b2" />
<polygon points="165.1,491.1 182.3,479.1 182.3,477.8 165.1,489.8" fill="#9a9a98" />
<polygon points="159.6,486.3 176.8,474.3 182.3,477.8 165.1,489.8" fill="#e9e9e6" />
<polygon points="159.6,487.6 165.1,491.1 165.1,489.8 159.6,486.3" fill="#8a8a8c" />
<polygon points="165.1,491.1 168.1,489.0 168.1,487.7 165.1,489.8" fill="#7a7a7c" />
<polygon points="159.6,486.3 162.6,484.2 168.1,487.7 165.1,489.8" fill="#bdbdbf" />
<text xml:space="preserve" stroke="#fff" stroke-width="0.05" font-family="Liberation Sans, sans-serif" font-size="1.35" font-weight="normal" fill="#fff" text-anchor="middle" transform="translate(0 0.0) matrix(-5.919 4.118 -4.963 -3.149 160.92 476.17)" textLength="3.30" lengthAdjust="spacingAndGlyphs">Power</text>
<polyline points="138.1,501.0 155.4,488.9 163.9,494.3 146.6,506.4 138.1,501.0 155.4,488.9" fill="none" stroke="#f0f0f0" stroke-width="0.80" stroke-linejoin="miter" />
<polygon points="151.7,493.5 157.2,497.0 157.2,495.6 151.7,492.1" fill="#a9a9ab" />
<polygon points="157.2,497.0 160.6,494.6 160.6,493.2 157.2,495.6" fill="#8a8a8c" />
<polygon points="151.7,492.1 155.1,489.7 160.6,493.2 157.2,495.6" fill="#dcdcde" />
<polygon points="144.8,498.3 150.3,501.8 150.3,500.4 144.8,496.9" fill="#1c1c1e" />
<polygon points="150.3,501.8 157.2,497.0 157.2,495.6 150.3,500.4" fill="#18181a" />
<polygon points="144.8,496.9 151.7,492.1 157.2,495.6 150.3,500.4" fill="#2e2e30" />
<polygon points="141.4,500.7 146.9,504.2 146.9,502.8 141.4,499.3" fill="#a9a9ab" />
<polygon points="146.9,504.2 150.3,501.8 150.3,500.4 146.9,502.8" fill="#8a8a8c" />
<polygon points="141.4,499.3 144.8,496.9 150.3,500.4 146.9,502.8" fill="#dcdcde" />
<text xml:space="preserve" stroke="#fff" stroke-width="0.05" font-family="Liberation Sans, sans-serif" font-size="1.35" font-weight="normal" fill="#fff" text-anchor="middle" transform="translate(0 0.0) matrix(-5.982 4.163 -4.970 -3.180 137.62 493.05)" textLength="1.50" lengthAdjust="spacingAndGlyphs">R7</text>
<polyline points="137.5,525.2 147.1,518.4 160.7,527.2 151.1,534.0 137.5,525.2 147.1,518.4" fill="none" stroke="#f0f0f0" stroke-width="0.70" stroke-linejoin="miter" />
<polygon points="140.0,524.8 142.9,526.7 142.9,525.3 140.0,523.4" fill="#a9a9ab" />
<polygon points="142.9,526.7 149.5,522.0 149.5,520.6 142.9,525.3" fill="#8a8a8c" />
<polygon points="140.0,523.4 146.6,518.7 149.5,520.6 142.9,525.3" fill="#dcdcde" />
<polygon points="142.9,526.7 148.7,530.4 148.7,529.0 142.9,525.3" fill="#1c1c1e" />
<polygon points="148.7,530.4 155.3,525.7 155.3,524.3 148.7,529.0" fill="#18181a" />
<polygon points="142.9,525.3 149.5,520.6 155.3,524.3 148.7,529.0" fill="#2e2e30" />
<polygon points="148.7,530.4 151.6,532.3 151.6,530.9 148.7,529.0" fill="#a9a9ab" />
<polygon points="151.6,532.3 158.2,527.6 158.2,526.2 151.6,530.9" fill="#8a8a8c" />
<polygon points="148.7,529.0 155.3,524.3 158.2,526.2 151.6,530.9" fill="#dcdcde" />
<text xml:space="preserve" stroke="#fff" stroke-width="0.05" font-family="Liberation Sans, sans-serif" font-size="1.00" font-weight="normal" fill="#fff" text-anchor="middle" transform="translate(0 0.0) matrix(-5.034 -3.231 5.995 -4.238 164.59 522.71)" textLength="1.20" lengthAdjust="spacingAndGlyphs">R1</text>
<polyline points="158.2,537.8 167.8,531.0 181.5,539.7 171.9,546.6 158.2,537.8 167.8,531.0" fill="none" stroke="#f0f0f0" stroke-width="0.70" stroke-linejoin="miter" />
<polygon points="160.7,537.4 163.6,539.2 163.6,537.8 160.7,536.0" fill="#a9a9ab" />
<polygon points="163.6,539.2 170.3,534.5 170.3,533.1 163.6,537.8" fill="#8a8a8c" />
<polygon points="160.7,536.0 167.3,531.3 170.3,533.1 163.6,537.8" fill="#dcdcde" />
<polygon points="163.6,539.2 169.5,543.0 169.5,541.6 163.6,537.8" fill="#1c1c1e" />
<polygon points="169.5,543.0 176.1,538.3 176.1,536.9 169.5,541.6" fill="#18181a" />
<polygon points="163.6,537.8 170.3,533.1 176.1,536.9 169.5,541.6" fill="#2e2e30" />
<polygon points="169.5,543.0 172.4,544.9 172.4,543.5 169.5,541.6" fill="#a9a9ab" />
<polygon points="172.4,544.9 179.0,540.2 179.0,538.8 172.4,543.5" fill="#8a8a8c" />
<polygon points="169.5,541.6 176.1,536.9 179.0,538.8 172.4,543.5" fill="#dcdcde" />
<text xml:space="preserve" stroke="#fff" stroke-width="0.05" font-family="Liberation Sans, sans-serif" font-size="1.00" font-weight="normal" fill="#fff" text-anchor="middle" transform="translate(0 0.0) matrix(-5.065 -3.251 5.987 -4.266 183.87 534.28)" textLength="1.20" lengthAdjust="spacingAndGlyphs">R2</text>
<polyline points="109.2,531.9 119.5,524.6 135.6,535.0 125.3,542.3 109.2,531.9 119.5,524.6" fill="none" stroke="#f0f0f0" stroke-width="0.80" stroke-linejoin="miter" />
<polygon points="112.5,531.6 125.6,540.0 125.6,538.7 112.5,530.3" fill="#b5b5b2" />
<polygon points="125.6,540.0 132.3,535.3 132.3,534.0 125.6,538.7" fill="#9a9a98" />
<polygon points="112.5,530.3 119.2,525.6 132.3,534.0 125.6,538.7" fill="#e9e9e6" />
<polygon points="123.1,538.4 125.6,540.0 125.6,538.7 123.1,537.1" fill="#8a8a8c" />
<polygon points="125.6,540.0 132.3,535.3 132.3,534.0 125.6,538.7" fill="#7a7a7c" />
<polygon points="123.1,537.1 129.7,532.4 132.3,534.0 125.6,538.7" fill="#bdbdbf" />
<text xml:space="preserve" stroke="#fff" stroke-width="0.05" font-family="Liberation Sans, sans-serif" font-size="1.50" font-weight="normal" fill="#fff" text-anchor="middle" transform="translate(0 0.0) matrix(-5.021 -3.261 6.089 -4.280 118.47 537.57)" textLength="3.40" lengthAdjust="spacingAndGlyphs">LED1</text>
<polyline points="138.5,551.8 148.8,544.4 165.1,554.9 154.8,562.3 138.5,551.8 148.8,544.4" fill="none" stroke="#f0f0f0" stroke-width="0.80" stroke-linejoin="miter" />
<polygon points="141.9,551.4 155.1,560.0 155.1,558.7 141.9,550.1" fill="#b5b5b2" />
<polygon points="155.1,560.0 161.7,555.2 161.7,553.9 155.1,558.7" fill="#9a9a98" />
<polygon points="141.9,550.1 148.5,545.4 161.7,553.9 155.1,558.7" fill="#e9e9e6" />
<polygon points="152.5,558.4 155.1,560.0 155.1,558.7 152.5,557.1" fill="#8a8a8c" />
<polygon points="155.1,560.0 161.7,555.2 161.7,553.9 155.1,558.7" fill="#7a7a7c" />
<polygon points="152.5,557.1 159.2,552.3 161.7,553.9 155.1,558.7" fill="#bdbdbf" />
<text xml:space="preserve" stroke="#fff" stroke-width="0.05" font-family="Liberation Sans, sans-serif" font-size="1.50" font-weight="normal" fill="#fff" text-anchor="middle" transform="translate(0 0.0) matrix(-5.070 -3.293 6.080 -4.327 147.10 556.33)" textLength="3.40" lengthAdjust="spacingAndGlyphs">LED2</text>
</g>
<g id="labels">
<rect x="722.5" y="40.0" width="107.5" height="49.0" rx="5" fill="#1aae89"/>
<text x="748.5" y="74.0" font-family="Liberation Sans, sans-serif" font-size="27.5" font-weight="bold" fill="#fff" text-anchor="start" textLength="66.5" lengthAdjust="spacingAndGlyphs" stroke="#fff" stroke-width="0.00">SATA</text>
<line x1="783.0" y1="89.0" x2="783.0" y2="222.0" stroke="#1a9f80" stroke-width="2"/>
<circle cx="783.0" cy="227.5" r="5.5" fill="none" stroke="#1a9f80" stroke-width="2"/>
<rect x="104.0" y="222.5" width="218.5" height="44.0" rx="5" fill="#1aae89"/>
<text x="114.0" y="254.0" font-family="Liberation Sans, sans-serif" font-size="26.0" font-weight="bold" fill="#fff" text-anchor="start" textLength="100.0" lengthAdjust="spacingAndGlyphs" stroke="#fff" stroke-width="0.00">Selector</text>
<text x="222.5" y="254.0" font-family="Liberation Sans, sans-serif" font-size="26.0" font-weight="bold" fill="#fff" text-anchor="start" textLength="81.0" lengthAdjust="spacingAndGlyphs" stroke="#fff" stroke-width="0.00">Switch</text>
<line x1="275.0" y1="266.0" x2="275.0" y2="399.0" stroke="#1a9f80" stroke-width="2"/>
<circle cx="275.0" cy="404.5" r="5.5" fill="none" stroke="#1a9f80" stroke-width="2"/>
<rect x="46.0" y="671.0" width="208.0" height="52.0" rx="5" fill="#1aae89"/>
<text x="60.0" y="709.0" font-family="Liberation Sans, sans-serif" font-size="28.0" font-weight="normal" fill="#fff" text-anchor="start" textLength="176.5" lengthAdjust="spacingAndGlyphs" stroke="#fff" stroke-width="0.50">SFF-8639(U.2)</text>
<line x1="175.0" y1="671.0" x2="175.0" y2="606.0" stroke="#1a9f80" stroke-width="2"/>
<circle cx="175.0" cy="600.5" r="5.5" fill="none" stroke="#1a9f80" stroke-width="2"/>
<rect x="46.0" y="777.5" width="286.5" height="48.5" rx="5" fill="#1aae89"/>
<text x="60.0" y="812.0" font-family="Liberation Sans, sans-serif" font-size="28.0" font-weight="normal" fill="#fff" text-anchor="start" textLength="71.0" lengthAdjust="spacingAndGlyphs" stroke="#fff" stroke-width="0.50">NGFF</text>
<text x="150.0" y="812.0" font-family="Liberation Sans, sans-serif" font-size="28.0" font-weight="normal" fill="#fff" text-anchor="start" textLength="68.5" lengthAdjust="spacingAndGlyphs" stroke="#fff" stroke-width="0.50">(M.2)</text>
<text x="236.0" y="812.0" font-family="Liberation Sans, sans-serif" font-size="28.0" font-weight="normal" fill="#fff" text-anchor="start" textLength="46.5" lengthAdjust="spacingAndGlyphs" stroke="#fff" stroke-width="0.50">Key</text>
<text x="300.5" y="812.0" font-family="Liberation Sans, sans-serif" font-size="28.0" font-weight="normal" fill="#fff" text-anchor="start" textLength="16.5" lengthAdjust="spacingAndGlyphs" stroke="#fff" stroke-width="0.50">B</text>
<line x1="306.0" y1="777.5" x2="306.0" y2="590.0" stroke="#1a9f80" stroke-width="2"/>
<circle cx="306.0" cy="584.0" r="5.5" fill="none" stroke="#1a9f80" stroke-width="2"/>
<rect x="357.5" y="777.5" width="287.5" height="48.5" rx="5" fill="#1aae89"/>
<text x="366.5" y="812.0" font-family="Liberation Sans, sans-serif" font-size="28.0" font-weight="normal" fill="#fff" text-anchor="start" textLength="71.0" lengthAdjust="spacingAndGlyphs" stroke="#fff" stroke-width="0.50">NGFF</text>
<text x="456.0" y="812.0" font-family="Liberation Sans, sans-serif" font-size="28.0" font-weight="normal" fill="#fff" text-anchor="start" textLength="64.0" lengthAdjust="spacingAndGlyphs" stroke="#fff" stroke-width="0.50">(M.2)</text>
<text x="542.5" y="812.0" font-family="Liberation Sans, sans-serif" font-size="28.0" font-weight="normal" fill="#fff" text-anchor="start" textLength="46.5" lengthAdjust="spacingAndGlyphs" stroke="#fff" stroke-width="0.50">Key</text>
<text x="606.0" y="812.0" font-family="Liberation Sans, sans-serif" font-size="28.0" font-weight="normal" fill="#fff" text-anchor="start" textLength="25.5" lengthAdjust="spacingAndGlyphs" stroke="#fff" stroke-width="0.50">M</text>
<line x1="429.0" y1="777.5" x2="429.0" y2="668.0" stroke="#1a9f80" stroke-width="2"/>
<circle cx="429.0" cy="662.5" r="5.5" fill="none" stroke="#1a9f80" stroke-width="2"/>
</g>
<g id="topbox">
<rect x="40.5" y="37" width="432" height="122.5" rx="3" fill="#fff" stroke="#b4b4b4" stroke-width="1"/>
<circle cx="55.2" cy="62.0" r="10.0" fill="#169a45"/>
<path d="M48.90 62.70 L54.00 67.30 L61.60 58.90" fill="none" stroke="#fff" stroke-width="2.00" stroke-linecap="round" stroke-linejoin="round"/>
<circle cx="55.2" cy="130.0" r="10.0" fill="#169a45"/>
<path d="M48.90 130.70 L54.00 135.30 L61.60 126.90" fill="none" stroke="#fff" stroke-width="2.00" stroke-linecap="round" stroke-linejoin="round"/>
<text x="88.7" y="68.7" font-family="Liberation Sans, sans-serif" font-size="14.0" font-weight="bold" fill="#1a1a1a" text-anchor="start" textLength="53.7" lengthAdjust="spacingAndGlyphs" >SATA 2.5</text>
<text x="73.0" y="134.9" font-family="Liberation Sans, sans-serif" font-size="14.0" font-weight="bold" fill="#1a1a1a" text-anchor="start" textLength="86.0" lengthAdjust="spacingAndGlyphs" >U.2(SFF-8639)</text>
</g>
<g id="keyboxes">
<rect x="79.5" y="838.5" width="214.8" height="115.5" rx="5" fill="#fff" stroke="#a8a8a8" stroke-width="1.2"/>
<path d="M88 869.2 H122.3 V887.3 H141 V869.2 H285 V926.3 H192.5 L186.8 934.5 L181.2 926.3 H183 L179.5 920 L176 926.3 H88 Z" fill="#128a22"/>
<rect x="89.60" y="870.8" width="3" height="16" fill="#dccb3a"/>
<rect x="94.90" y="870.8" width="3" height="16" fill="#dccb3a"/>
<rect x="100.20" y="870.8" width="3" height="16" fill="#dccb3a"/>
<rect x="105.50" y="870.8" width="3" height="16" fill="#dccb3a"/>
<rect x="110.80" y="870.8" width="3" height="16" fill="#dccb3a"/>
<rect x="116.10" y="870.8" width="3" height="16" fill="#dccb3a"/>
<rect x="143.20" y="870.8" width="3" height="16" fill="#dccb3a"/>
<rect x="148.41" y="870.8" width="3" height="16" fill="#dccb3a"/>
<rect x="153.62" y="870.8" width="3" height="16" fill="#dccb3a"/>
<rect x="158.83" y="870.8" width="3" height="16" fill="#dccb3a"/>
<rect x="164.04" y="870.8" width="3" height="16" fill="#dccb3a"/>
<rect x="169.25" y="870.8" width="3" height="16" fill="#dccb3a"/>
<rect x="174.46" y="870.8" width="3" height="16" fill="#dccb3a"/>
<rect x="179.67" y="870.8" width="3" height="16" fill="#dccb3a"/>
<rect x="184.88" y="870.8" width="3" height="16" fill="#dccb3a"/>
<rect x="190.09" y="870.8" width="3" height="16" fill="#dccb3a"/>
<rect x="195.30" y="870.8" width="3" height="16" fill="#dccb3a"/>
<rect x="200.51" y="870.8" width="3" height="16" fill="#dccb3a"/>
<rect x="205.72" y="870.8" width="3" height="16" fill="#dccb3a"/>
<rect x="210.93" y="870.8" width="3" height="16" fill="#dccb3a"/>
<rect x="216.14" y="870.8" width="3" height="16" fill="#dccb3a"/>
<rect x="221.35" y="870.8" width="3" height="16" fill="#dccb3a"/>
<rect x="226.56" y="870.8" width="3" height="16" fill="#dccb3a"/>
<rect x="231.77" y="870.8" width="3" height="16" fill="#dccb3a"/>
<rect x="236.98" y="870.8" width="3" height="16" fill="#dccb3a"/>
<rect x="242.19" y="870.8" width="3" height="16" fill="#dccb3a"/>
<rect x="247.40" y="870.8" width="3" height="16" fill="#dccb3a"/>
<rect x="252.61" y="870.8" width="3" height="16" fill="#dccb3a"/>
<rect x="257.82" y="870.8" width="3" height="16" fill="#dccb3a"/>
<rect x="263.03" y="870.8" width="3" height="16" fill="#dccb3a"/>
<rect x="268.24" y="870.8" width="3" height="16" fill="#dccb3a"/>
<rect x="273.45" y="870.8" width="3" height="16" fill="#dccb3a"/>
<rect x="278.66" y="870.8" width="3" height="16" fill="#dccb3a"/>
<text x="84.0" y="852.0" font-family="Liberation Sans, sans-serif" font-size="8.5" font-weight="normal" fill="#2f8fd3" text-anchor="start" textLength="48.0" lengthAdjust="spacingAndGlyphs" >6 pins wide</text>
<path d="M88.5 868 q0 -4 4 -4 h9 q3 0 3.7 -3.5 q0.7 3.5 3.7 3.5 h9 q4 0 4 4" fill="none" stroke="#2f8fd3" stroke-width="0.9"/>
<text x="106.2" y="946.5" font-family="Liberation Sans, sans-serif" font-size="14.5" font-weight="normal" fill="#222" text-anchor="start" textLength="152.5" lengthAdjust="spacingAndGlyphs" xml:space="preserve">“B key”  edge connector</text>
<rect x="389.5" y="836.8" width="217.4" height="117.2" rx="5" fill="#fff" stroke="#a8a8a8" stroke-width="1.2"/>
<path d="M398 867.3 H549.2 V886.6 H568.7 V867.3 H597.3 V925.8 H508.5 L503.5 934.5 L498 925.8 H499.5 L496 919.5 L492.5 925.8 H398 Z" fill="#128a22"/>
<rect x="400.00" y="869.2" width="3" height="16" fill="#dccb3a"/>
<rect x="405.19" y="869.2" width="3" height="16" fill="#dccb3a"/>
<rect x="410.38" y="869.2" width="3" height="16" fill="#dccb3a"/>
<rect x="415.57" y="869.2" width="3" height="16" fill="#dccb3a"/>
<rect x="420.76" y="869.2" width="3" height="16" fill="#dccb3a"/>
<rect x="425.95" y="869.2" width="3" height="16" fill="#dccb3a"/>
<rect x="431.14" y="869.2" width="3" height="16" fill="#dccb3a"/>
<rect x="436.33" y="869.2" width="3" height="16" fill="#dccb3a"/>
<rect x="441.52" y="869.2" width="3" height="16" fill="#dccb3a"/>
<rect x="446.71" y="869.2" width="3" height="16" fill="#dccb3a"/>
<rect x="451.90" y="869.2" width="3" height="16" fill="#dccb3a"/>
<rect x="457.09" y="869.2" width="3" height="16" fill="#dccb3a"/>
<rect x="462.28" y="869.2" width="3" height="16" fill="#dccb3a"/>
<rect x="467.47" y="869.2" width="3" height="16" fill="#dccb3a"/>
<rect x="472.66" y="869.2" width="3" height="16" fill="#dccb3a"/>
<rect x="477.85" y="869.2" width="3" height="16" fill="#dccb3a"/>
<rect x="483.04" y="869.2" width="3" height="16" fill="#dccb3a"/>
<rect x="488.23" y="869.2" width="3" height="16" fill="#dccb3a"/>
<rect x="493.42" y="869.2" width="3" height="16" fill="#dccb3a"/>
<rect x="498.61" y="869.2" width="3" height="16" fill="#dccb3a"/>
<rect x="503.80" y="869.2" width="3" height="16" fill="#dccb3a"/>
<rect x="508.99" y="869.2" width="3" height="16" fill="#dccb3a"/>
<rect x="514.18" y="869.2" width="3" height="16" fill="#dccb3a"/>
<rect x="519.37" y="869.2" width="3" height="16" fill="#dccb3a"/>
<rect x="524.56" y="869.2" width="3" height="16" fill="#dccb3a"/>
<rect x="529.75" y="869.2" width="3" height="16" fill="#dccb3a"/>
<rect x="534.94" y="869.2" width="3" height="16" fill="#dccb3a"/>
<rect x="540.13" y="869.2" width="3" height="16" fill="#dccb3a"/>
<rect x="545.32" y="869.2" width="3" height="16" fill="#dccb3a"/>
<rect x="570.50" y="869.2" width="3" height="16" fill="#dccb3a"/>
<rect x="575.80" y="869.2" width="3" height="16" fill="#dccb3a"/>
<rect x="581.10" y="869.2" width="3" height="16" fill="#dccb3a"/>
<rect x="586.40" y="869.2" width="3" height="16" fill="#dccb3a"/>
<rect x="591.70" y="869.2" width="3" height="16" fill="#dccb3a"/>
<text x="556.5" y="850.5" font-family="Liberation Sans, sans-serif" font-size="8.5" font-weight="normal" fill="#2f8fd3" text-anchor="start" textLength="47.3" lengthAdjust="spacingAndGlyphs" >5 pins wide</text>
<path d="M568.8 866 q0 -4 4 -4 h6.5 q3 0 3.7 -3.5 q0.7 3.5 3.7 3.5 h6.5 q4 0 4 4" fill="none" stroke="#2f8fd3" stroke-width="0.9"/>
<text x="416.2" y="946.5" font-family="Liberation Sans, sans-serif" font-size="14.5" font-weight="normal" fill="#222" text-anchor="start" textLength="159.0" lengthAdjust="spacingAndGlyphs" xml:space="preserve">“M key”  edge connector</text>
<text x="88.5" y="894.0" font-family="Liberation Sans, sans-serif" font-size="6.0" font-weight="normal" fill="#0a5c14" text-anchor="start" >1</text>
<text x="114.0" y="894.0" font-family="Liberation Sans, sans-serif" font-size="6.0" font-weight="normal" fill="#0a5c14" text-anchor="start" >11</text>
<text x="141.5" y="894.0" font-family="Liberation Sans, sans-serif" font-size="6.0" font-weight="normal" fill="#0a5c14" text-anchor="start" >21</text>
<text x="277.0" y="894.0" font-family="Liberation Sans, sans-serif" font-size="6.0" font-weight="normal" fill="#0a5c14" text-anchor="start" >75</text>
<text x="398.5" y="893.0" font-family="Liberation Sans, sans-serif" font-size="6.0" font-weight="normal" fill="#0a5c14" text-anchor="start" >1</text>
<text x="542.0" y="893.0" font-family="Liberation Sans, sans-serif" font-size="6.0" font-weight="normal" fill="#0a5c14" text-anchor="start" >57</text>
<text x="563.0" y="893.0" font-family="Liberation Sans, sans-serif" font-size="6.0" font-weight="normal" fill="#0a5c14" text-anchor="start" >67</text>
<text x="588.0" y="893.0" font-family="Liberation Sans, sans-serif" font-size="6.0" font-weight="normal" fill="#0a5c14" text-anchor="start" >75</text>
</g>
<g id="logos">
<circle cx="906.9" cy="814.8" r="26.0" fill="#169a45"/>
<path d="M890.52 816.62 L903.78 828.58 L923.54 806.74" fill="none" stroke="#fff" stroke-width="5.20" stroke-linecap="round" stroke-linejoin="round"/>
<circle cx="906.9" cy="907.1" r="26.0" fill="#169a45"/>
<path d="M890.52 908.92 L903.78 920.88 L923.54 899.04" fill="none" stroke="#fff" stroke-width="5.20" stroke-linecap="round" stroke-linejoin="round"/>
<g transform="translate(673.50 786.00) scale(1.0000 1.0000)">
<rect x="0" y="0" width="122.3" height="75.7" fill="#c2185b"/>
<rect x="2.6" y="24.5" width="117.1" height="46.6" fill="#fff"/>
<text x="61.2" y="20.9" font-family="Liberation Sans, sans-serif" font-size="22.5" font-weight="bold" fill="#fff" text-anchor="middle" textLength="111" lengthAdjust="spacingAndGlyphs">SERIAL</text>
<text x="61.2" y="68.6" font-family="Liberation Sans, sans-serif" font-size="55" font-weight="bold" fill="#1c4fa3" stroke="#1c4fa3" stroke-width="1" text-anchor="middle" textLength="109" lengthAdjust="spacingAndGlyphs">ATA</text>
<ellipse cx="62" cy="50" rx="53" ry="11" fill="none" stroke="#f2d23c" stroke-width="3.2" transform="rotate(-12 62 50)"/>
<ellipse cx="66" cy="47" rx="26" ry="6" fill="none" stroke="#f2d23c" stroke-width="2.2" transform="rotate(-12 66 47)"/>
</g>
<g transform="translate(668.80 889.00) scale(1.0000)">
<text x="-4" y="37.6" font-family="Liberation Sans, sans-serif" font-size="67" font-weight="bold" font-style="italic" fill="#0a0a0a" stroke="#0a0a0a" stroke-width="1.6" textLength="146" lengthAdjust="spacingAndGlyphs">nvm</text>
<path d="M9 48 C 60 38, 130 28, 160 31 C 187 35, 190 51, 160 60 C 176 49, 168 42.5, 146 41 C 110 39.5, 50 44, 9 48 Z" fill="#d81f2a"/>
<text x="77" y="57.5" font-family="Liberation Sans, sans-serif" font-size="17.5" font-weight="bold" font-style="italic" fill="#1d7fd0" textLength="81" lengthAdjust="spacingAndGlyphs">EXPRESS</text>
</g>
</g>
<g transform="translate(195.00 46.00) scale(0.3377 0.4676)">
<rect x="0" y="0" width="122.3" height="75.7" fill="#c2185b"/>
<rect x="2.6" y="24.5" width="117.1" height="46.6" fill="#fff"/>
<text x="61.2" y="20.9" font-family="Liberation Sans, sans-serif" font-size="22.5" font-weight="bold" fill="#fff" text-anchor="middle" textLength="111" lengthAdjust="spacingAndGlyphs">SERIAL</text>
<text x="61.2" y="68.6" font-family="Liberation Sans, sans-serif" font-size="55" font-weight="bold" fill="#1c4fa3" stroke="#1c4fa3" stroke-width="1" text-anchor="middle" textLength="109" lengthAdjust="spacingAndGlyphs">ATA</text>
<ellipse cx="62" cy="50" rx="53" ry="11" fill="none" stroke="#f2d23c" stroke-width="3.2" transform="rotate(-12 62 50)"/>
<ellipse cx="66" cy="47" rx="26" ry="6" fill="none" stroke="#f2d23c" stroke-width="2.2" transform="rotate(-12 66 47)"/>
</g>
<g transform="translate(171.90 119.00) scale(0.4000)">
<text x="-4" y="37.6" font-family="Liberation Sans, sans-serif" font-size="67" font-weight="bold" font-style="italic" fill="#0a0a0a" stroke="#0a0a0a" stroke-width="1.6" textLength="146" lengthAdjust="spacingAndGlyphs">nvm</text>
<path d="M9 48 C 60 38, 130 28, 160 31 C 187 35, 190 51, 160 60 C 176 49, 168 42.5, 146 41 C 110 39.5, 50 44, 9 48 Z" fill="#d81f2a"/>
<text x="77" y="57.5" font-family="Liberation Sans, sans-serif" font-size="17.5" font-weight="bold" font-style="italic" fill="#1d7fd0" textLength="81" lengthAdjust="spacingAndGlyphs">EXPRESS</text>
</g>
<g id="conn">
<rect x="238.4" y="47" width="230.8" height="28" fill="#72c0b8" stroke="#3d9a94" stroke-width="0.8"/>
<rect x="238.4" y="47" width="16" height="33.5" fill="#72c0b8" stroke="#3d9a94" stroke-width="0.8"/>
<rect x="453.2" y="47" width="16" height="33.5" fill="#72c0b8" stroke="#3d9a94" stroke-width="0.8"/>
<path d="M255 53.5 H320 V71 H305 V67 H258 V53.5 M326 53.5 H451 V67 H340 V71 H326 Z" fill="none" stroke="#3d9a94" stroke-width="1.6"/>
<rect x="263.0" y="64" width="2" height="3" fill="#c9b94c"/><rect x="263.0" y="75.5" width="2" height="2.5" fill="#c9b94c"/>
<rect x="269.0" y="64" width="2" height="3" fill="#c9b94c"/><rect x="269.0" y="75.5" width="2" height="2.5" fill="#c9b94c"/>
<rect x="275.0" y="64" width="2" height="3" fill="#c9b94c"/><rect x="275.0" y="75.5" width="2" height="2.5" fill="#c9b94c"/>
<rect x="281.0" y="64" width="2" height="3" fill="#c9b94c"/><rect x="281.0" y="75.5" width="2" height="2.5" fill="#c9b94c"/>
<rect x="287.0" y="64" width="2" height="3" fill="#c9b94c"/><rect x="287.0" y="75.5" width="2" height="2.5" fill="#c9b94c"/>
<rect x="293.0" y="64" width="2" height="3" fill="#c9b94c"/><rect x="293.0" y="75.5" width="2" height="2.5" fill="#c9b94c"/>
<rect x="299.0" y="64" width="2" height="3" fill="#c9b94c"/><rect x="299.0" y="75.5" width="2" height="2.5" fill="#c9b94c"/>
<rect x="343.0" y="64" width="2" height="3" fill="#c9b94c"/><rect x="343.0" y="75.5" width="2" height="2.5" fill="#c9b94c"/>
<rect x="350.0" y="64" width="2" height="3" fill="#c9b94c"/><rect x="350.0" y="75.5" width="2" height="2.5" fill="#c9b94c"/>
<rect x="357.0" y="64" width="2" height="3" fill="#c9b94c"/><rect x="357.0" y="75.5" width="2" height="2.5" fill="#c9b94c"/>
<rect x="364.0" y="64" width="2" height="3" fill="#c9b94c"/><rect x="364.0" y="75.5" width="2" height="2.5" fill="#c9b94c"/>
<rect x="371.0" y="64" width="2" height="3" fill="#c9b94c"/><rect x="371.0" y="75.5" width="2" height="2.5" fill="#c9b94c"/>
<rect x="378.0" y="64" width="2" height="3" fill="#c9b94c"/><rect x="378.0" y="75.5" width="2" height="2.5" fill="#c9b94c"/>
<rect x="385.0" y="64" width="2" height="3" fill="#c9b94c"/><rect x="385.0" y="75.5" width="2" height="2.5" fill="#c9b94c"/>
<rect x="392.0" y="64" width="2" height="3" fill="#c9b94c"/><rect x="392.0" y="75.5" width="2" height="2.5" fill="#c9b94c"/>
<rect x="399.0" y="64" width="2" height="3" fill="#c9b94c"/><rect x="399.0" y="75.5" width="2" height="2.5" fill="#c9b94c"/>
<rect x="406.0" y="64" width="2" height="3" fill="#c9b94c"/><rect x="406.0" y="75.5" width="2" height="2.5" fill="#c9b94c"/>
<rect x="413.0" y="64" width="2" height="3" fill="#c9b94c"/><rect x="413.0" y="75.5" width="2" height="2.5" fill="#c9b94c"/>
<rect x="420.0" y="64" width="2" height="3" fill="#c9b94c"/><rect x="420.0" y="75.5" width="2" height="2.5" fill="#c9b94c"/>
<rect x="427.0" y="64" width="2" height="3" fill="#c9b94c"/><rect x="427.0" y="75.5" width="2" height="2.5" fill="#c9b94c"/>
<rect x="434.0" y="64" width="2" height="3" fill="#c9b94c"/><rect x="434.0" y="75.5" width="2" height="2.5" fill="#c9b94c"/>
<rect x="441.0" y="64" width="2" height="3" fill="#c9b94c"/><rect x="441.0" y="75.5" width="2" height="2.5" fill="#c9b94c"/>
<rect x="241" y="57" width="7" height="9" fill="none" stroke="#3d9a94" stroke-width="1"/><rect x="460" y="57" width="7" height="9" fill="none" stroke="#3d9a94" stroke-width="1"/>
<rect x="242" y="113.5" width="227.2" height="29" fill="#72c0b8" stroke="#3d9a94" stroke-width="0.8"/>
<rect x="242" y="112.3" width="15" height="36" fill="#72c0b8" stroke="#3d9a94" stroke-width="0.8"/>
<rect x="454.2" y="112.3" width="15" height="36" fill="#72c0b8" stroke="#3d9a94" stroke-width="0.8"/>
<rect x="311" y="136" width="32" height="10" fill="#72c0b8" stroke="#3d9a94" stroke-width="0.8"/>
<path d="M258 118.5 H452 V133 H342 V137 H311 V133 H258 Z M262 124 H448" fill="none" stroke="#3d9a94" stroke-width="1.6"/>
<rect x="268.0" y="111" width="2" height="2.5" fill="#c9b94c"/>
<rect x="272.1" y="111" width="2" height="2.5" fill="#c9b94c"/>
<rect x="276.3" y="111" width="2" height="2.5" fill="#c9b94c"/>
<rect x="280.4" y="111" width="2" height="2.5" fill="#c9b94c"/>
<rect x="284.6" y="111" width="2" height="2.5" fill="#c9b94c"/>
<rect x="288.8" y="111" width="2" height="2.5" fill="#c9b94c"/>
<rect x="292.9" y="111" width="2" height="2.5" fill="#c9b94c"/>
<rect x="297.1" y="111" width="2" height="2.5" fill="#c9b94c"/>
<rect x="301.2" y="111" width="2" height="2.5" fill="#c9b94c"/>
<rect x="305.4" y="111" width="2" height="2.5" fill="#c9b94c"/>
<rect x="309.5" y="111" width="2" height="2.5" fill="#c9b94c"/>
<rect x="313.6" y="111" width="2" height="2.5" fill="#c9b94c"/>
<rect x="317.8" y="111" width="2" height="2.5" fill="#c9b94c"/>
<rect x="321.9" y="111" width="2" height="2.5" fill="#c9b94c"/>
<rect x="326.1" y="111" width="2" height="2.5" fill="#c9b94c"/>
<rect x="330.2" y="111" width="2" height="2.5" fill="#c9b94c"/>
<rect x="334.4" y="111" width="2" height="2.5" fill="#c9b94c"/>
<rect x="338.6" y="111" width="2" height="2.5" fill="#c9b94c"/>
<rect x="342.7" y="111" width="2" height="2.5" fill="#c9b94c"/>
<rect x="346.9" y="111" width="2" height="2.5" fill="#c9b94c"/>
<rect x="351.0" y="111" width="2" height="2.5" fill="#c9b94c"/>
<rect x="355.1" y="111" width="2" height="2.5" fill="#c9b94c"/>
<rect x="359.3" y="111" width="2" height="2.5" fill="#c9b94c"/>
<rect x="363.4" y="111" width="2" height="2.5" fill="#c9b94c"/>
<rect x="367.6" y="111" width="2" height="2.5" fill="#c9b94c"/>
<rect x="371.8" y="111" width="2" height="2.5" fill="#c9b94c"/>
<rect x="375.9" y="111" width="2" height="2.5" fill="#c9b94c"/>
<rect x="380.1" y="111" width="2" height="2.5" fill="#c9b94c"/>
<rect x="384.2" y="111" width="2" height="2.5" fill="#c9b94c"/>
<rect x="388.4" y="111" width="2" height="2.5" fill="#c9b94c"/>
<rect x="392.5" y="111" width="2" height="2.5" fill="#c9b94c"/>
<rect x="396.6" y="111" width="2" height="2.5" fill="#c9b94c"/>
<rect x="400.8" y="111" width="2" height="2.5" fill="#c9b94c"/>
<rect x="405.0" y="111" width="2" height="2.5" fill="#c9b94c"/>
<rect x="409.1" y="111" width="2" height="2.5" fill="#c9b94c"/>
<rect x="413.2" y="111" width="2" height="2.5" fill="#c9b94c"/>
<rect x="417.4" y="111" width="2" height="2.5" fill="#c9b94c"/>
<rect x="421.6" y="111" width="2" height="2.5" fill="#c9b94c"/>
<rect x="425.7" y="111" width="2" height="2.5" fill="#c9b94c"/>
<rect x="429.9" y="111" width="2" height="2.5" fill="#c9b94c"/>
<rect x="434.0" y="111" width="2" height="2.5" fill="#c9b94c"/>
<rect x="438.1" y="111" width="2" height="2.5" fill="#c9b94c"/>
<rect x="442.3" y="111" width="2" height="2.5" fill="#c9b94c"/>
<rect x="266.0" y="129.5" width="2" height="3" fill="#c9b94c"/><rect x="266.0" y="143" width="2" height="2.5" fill="#c9b94c"/>
<rect x="271.6" y="129.5" width="2" height="3" fill="#c9b94c"/><rect x="271.6" y="143" width="2" height="2.5" fill="#c9b94c"/>
<rect x="277.2" y="129.5" width="2" height="3" fill="#c9b94c"/><rect x="277.2" y="143" width="2" height="2.5" fill="#c9b94c"/>
<rect x="282.8" y="129.5" width="2" height="3" fill="#c9b94c"/><rect x="282.8" y="143" width="2" height="2.5" fill="#c9b94c"/>
<rect x="288.4" y="129.5" width="2" height="3" fill="#c9b94c"/><rect x="288.4" y="143" width="2" height="2.5" fill="#c9b94c"/>
<rect x="294.0" y="129.5" width="2" height="3" fill="#c9b94c"/><rect x="294.0" y="143" width="2" height="2.5" fill="#c9b94c"/>
<rect x="299.6" y="129.5" width="2" height="3" fill="#c9b94c"/><rect x="299.6" y="143" width="2" height="2.5" fill="#c9b94c"/>
<rect x="305.2" y="129.5" width="2" height="3" fill="#c9b94c"/><rect x="305.2" y="143" width="2" height="2.5" fill="#c9b94c"/>
<rect x="347.0" y="129.5" width="2" height="3" fill="#c9b94c"/><rect x="347.0" y="143" width="2" height="2.5" fill="#c9b94c"/>
<rect x="352.8" y="129.5" width="2" height="3" fill="#c9b94c"/><rect x="352.8" y="143" width="2" height="2.5" fill="#c9b94c"/>
<rect x="358.6" y="129.5" width="2" height="3" fill="#c9b94c"/><rect x="358.6" y="143" width="2" height="2.5" fill="#c9b94c"/>
<rect x="364.4" y="129.5" width="2" height="3" fill="#c9b94c"/><rect x="364.4" y="143" width="2" height="2.5" fill="#c9b94c"/>
<rect x="370.2" y="129.5" width="2" height="3" fill="#c9b94c"/><rect x="370.2" y="143" width="2" height="2.5" fill="#c9b94c"/>
<rect x="376.0" y="129.5" width="2" height="3" fill="#c9b94c"/><rect x="376.0" y="143" width="2" height="2.5" fill="#c9b94c"/>
<rect x="381.8" y="129.5" width="2" height="3" fill="#c9b94c"/><rect x="381.8" y="143" width="2" height="2.5" fill="#c9b94c"/>
<rect x="387.6" y="129.5" width="2" height="3" fill="#c9b94c"/><rect x="387.6" y="143" width="2" height="2.5" fill="#c9b94c"/>
<rect x="393.4" y="129.5" width="2" height="3" fill="#c9b94c"/><rect x="393.4" y="143" width="2" height="2.5" fill="#c9b94c"/>
<rect x="399.2" y="129.5" width="2" height="3" fill="#c9b94c"/><rect x="399.2" y="143" width="2" height="2.5" fill="#c9b94c"/>
<rect x="405.0" y="129.5" width="2" height="3" fill="#c9b94c"/><rect x="405.0" y="143" width="2" height="2.5" fill="#c9b94c"/>
<rect x="410.8" y="129.5" width="2" height="3" fill="#c9b94c"/><rect x="410.8" y="143" width="2" height="2.5" fill="#c9b94c"/>
<rect x="416.6" y="129.5" width="2" height="3" fill="#c9b94c"/><rect x="416.6" y="143" width="2" height="2.5" fill="#c9b94c"/>
<rect x="422.4" y="129.5" width="2" height="3" fill="#c9b94c"/><rect x="422.4" y="143" width="2" height="2.5" fill="#c9b94c"/>
<rect x="428.2" y="129.5" width="2" height="3" fill="#c9b94c"/><rect x="428.2" y="143" width="2" height="2.5" fill="#c9b94c"/>
<rect x="434.0" y="129.5" width="2" height="3" fill="#c9b94c"/><rect x="434.0" y="143" width="2" height="2.5" fill="#c9b94c"/>
<rect x="439.8" y="129.5" width="2" height="3" fill="#c9b94c"/><rect x="439.8" y="143" width="2" height="2.5" fill="#c9b94c"/>
<rect x="445.6" y="129.5" width="2" height="3" fill="#c9b94c"/><rect x="445.6" y="143" width="2" height="2.5" fill="#c9b94c"/>
<rect x="314.0" y="146" width="2" height="2.5" fill="#c9b94c"/>
<rect x="318.8" y="146" width="2" height="2.5" fill="#c9b94c"/>
<rect x="323.6" y="146" width="2" height="2.5" fill="#c9b94c"/>
<rect x="328.4" y="146" width="2" height="2.5" fill="#c9b94c"/>
<rect x="333.2" y="146" width="2" height="2.5" fill="#c9b94c"/>
<rect x="338.0" y="146" width="2" height="2.5" fill="#c9b94c"/>
<rect x="245" y="124" width="7" height="9" fill="none" stroke="#3d9a94" stroke-width="1"/><rect x="460" y="124" width="7" height="9" fill="none" stroke="#3d9a94" stroke-width="1"/>
</g>
</svg>
</body></html>
